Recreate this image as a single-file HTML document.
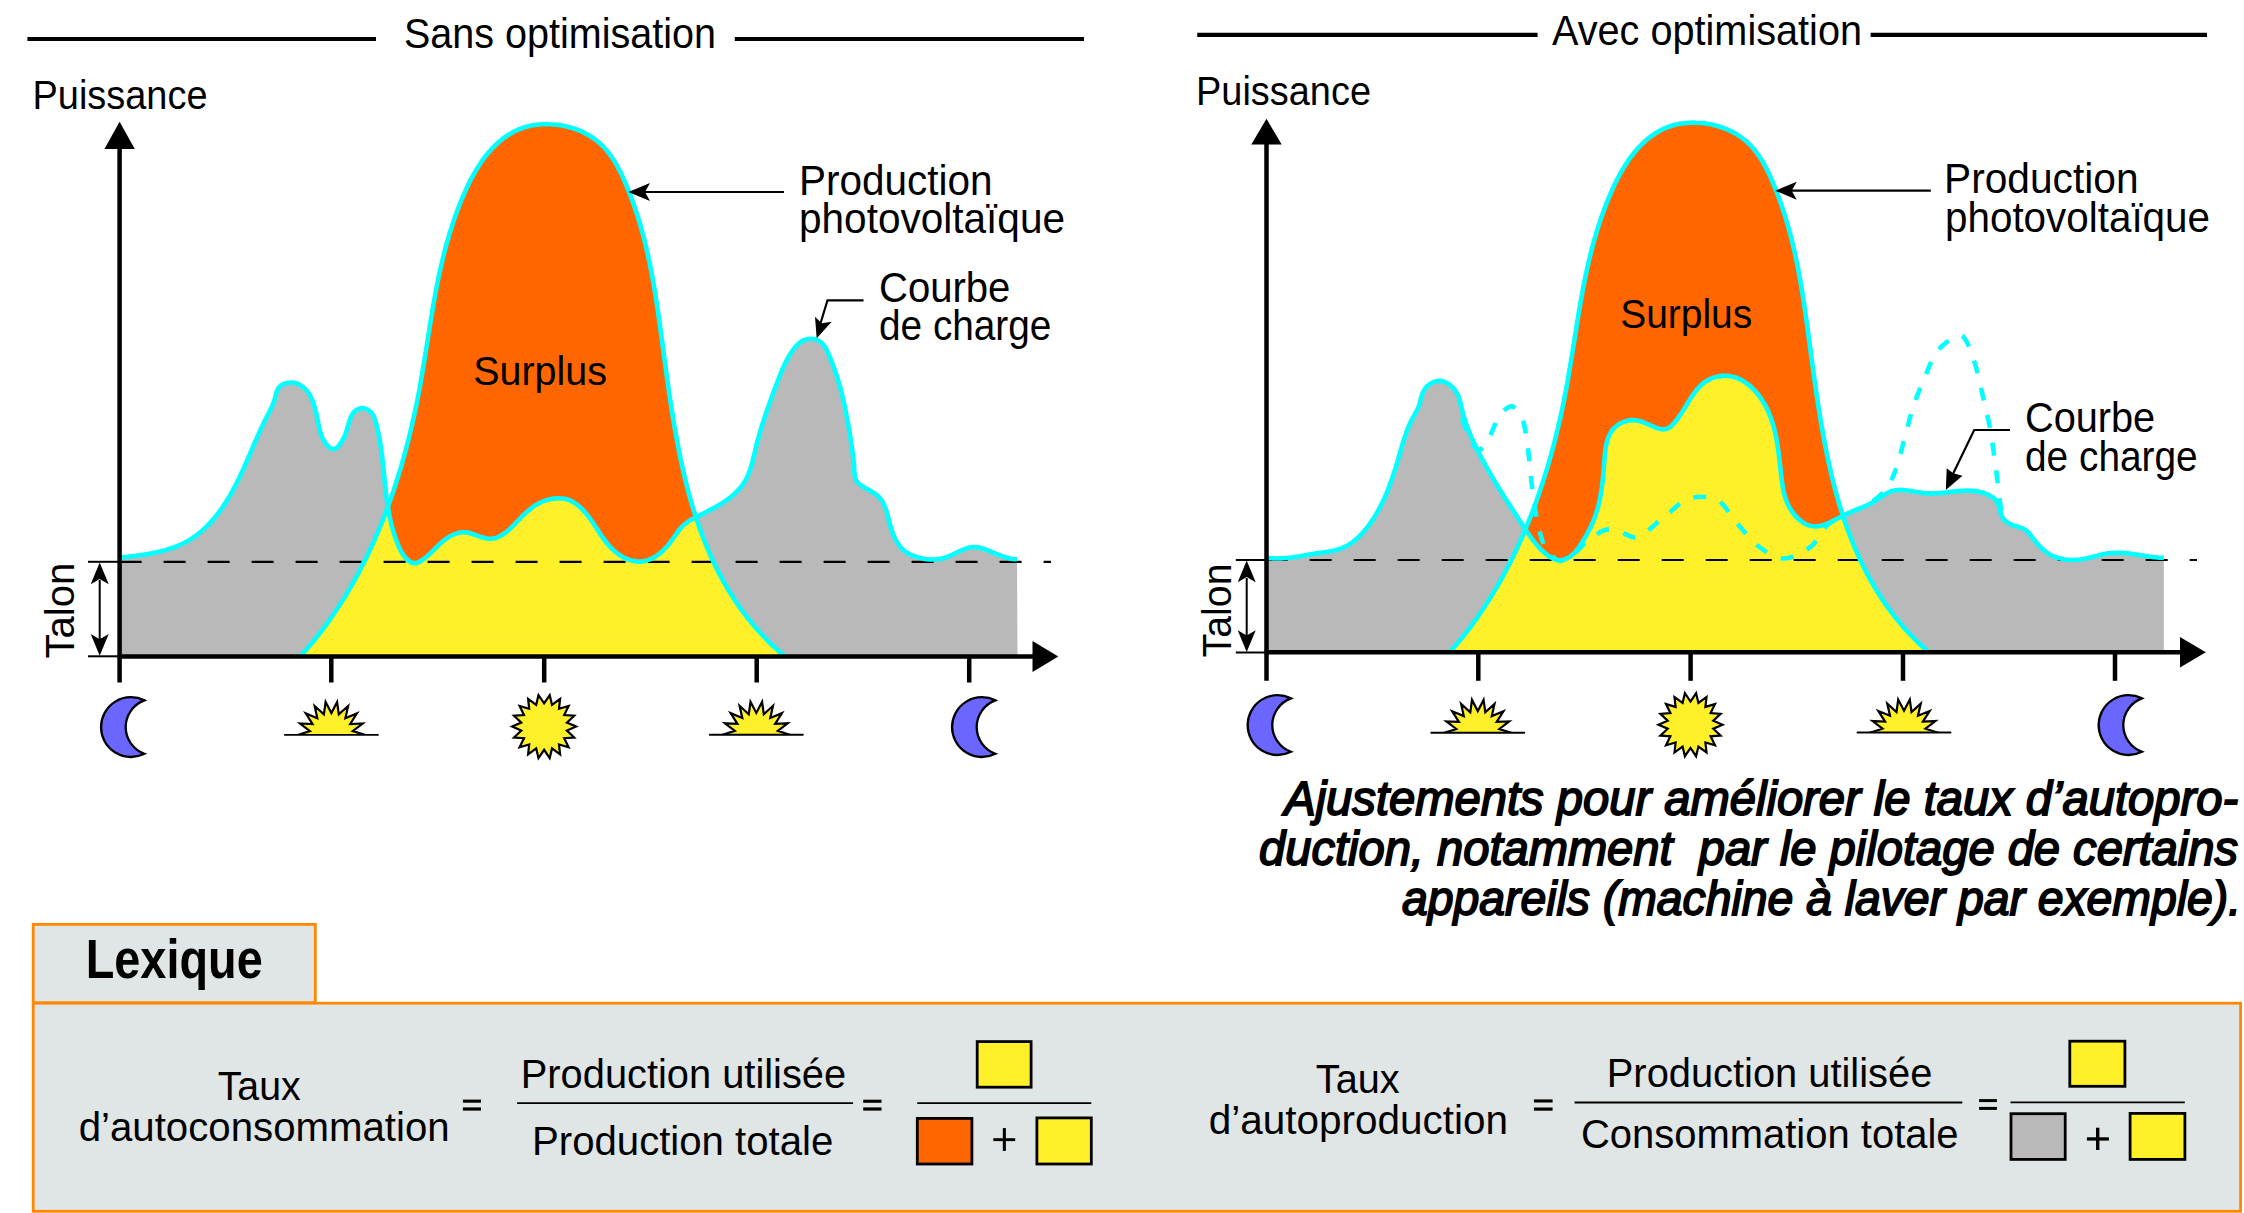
<!DOCTYPE html><html><head><meta charset="utf-8"><style>html,body{margin:0;padding:0;background:#fff;overflow:hidden}svg{display:block}text{font-family:"Liberation Sans", sans-serif;fill:#000}</style></head><body>
<svg width="2244" height="1213" viewBox="0 0 2244 1213">
<defs><clipPath id="clL"><path d="M119.6 557.4 C120.9 557.3 122.2 557.2 123.5 557.1 C124.9 556.9 126.2 556.8 127.5 556.7 C128.9 556.5 130.2 556.4 131.5 556.2 C132.9 556.1 134.2 555.9 135.5 555.8 C136.8 555.6 138.2 555.4 139.5 555.3 C140.8 555.1 142.1 554.9 143.5 554.7 C144.8 554.5 146.1 554.3 147.4 554.1 C148.7 553.8 150.1 553.6 151.4 553.4 C152.7 553.1 154.0 552.8 155.3 552.6 C156.6 552.3 157.9 552.0 159.2 551.7 C160.5 551.4 161.8 551.0 163.1 550.7 C164.4 550.4 165.7 550.0 167.0 549.6 C168.3 549.2 169.5 548.8 170.8 548.4 C172.1 548.0 173.3 547.5 174.6 547.1 C175.8 546.6 177.1 546.1 178.3 545.6 C179.5 545.1 180.8 544.5 182.0 544.0 C183.2 543.4 184.4 542.8 185.6 542.2 C186.8 541.5 187.9 540.9 189.1 540.2 C190.2 539.5 191.4 538.8 192.5 538.1 C193.6 537.3 194.7 536.6 195.8 535.8 C196.8 535.0 197.9 534.2 198.9 533.3 C200.0 532.5 201.0 531.6 202.0 530.8 C203.0 529.9 204.0 529.0 205.0 528.1 C206.0 527.1 206.9 526.2 207.9 525.3 C208.8 524.3 209.7 523.3 210.6 522.3 C211.5 521.4 212.4 520.4 213.3 519.3 C214.1 518.3 215.0 517.3 215.8 516.3 C216.7 515.2 217.5 514.2 218.3 513.1 C219.1 512.0 219.9 510.9 220.7 509.9 C221.5 508.8 222.2 507.7 223.0 506.6 C223.7 505.5 224.5 504.4 225.2 503.2 C225.9 502.1 226.6 501.0 227.3 499.8 C228.0 498.7 228.7 497.5 229.4 496.4 C230.1 495.2 230.8 494.1 231.4 492.9 C232.1 491.8 232.7 490.6 233.3 489.4 C234.0 488.2 234.6 487.0 235.2 485.9 C235.8 484.7 236.4 483.5 237.0 482.3 C237.6 481.1 238.2 479.9 238.8 478.7 C239.4 477.5 240.0 476.3 240.6 475.1 C241.1 473.9 241.7 472.6 242.2 471.4 C242.8 470.2 243.4 469.0 243.9 467.8 C244.5 466.6 245.0 465.3 245.5 464.1 C246.1 462.9 246.6 461.7 247.1 460.4 C247.7 459.2 248.2 458.0 248.7 456.8 C249.3 455.5 249.8 454.3 250.3 453.1 C250.9 451.8 251.4 450.6 251.9 449.4 C252.4 448.1 253.0 446.9 253.5 445.7 C254.0 444.5 254.6 443.2 255.1 442.0 C255.6 440.8 256.2 439.6 256.7 438.3 C257.2 437.1 257.8 435.9 258.3 434.7 C258.9 433.4 259.4 432.2 260.0 431.0 C260.5 429.8 261.1 428.6 261.7 427.4 C262.2 426.2 262.8 424.9 263.4 423.7 C264.0 422.5 264.6 421.3 265.1 420.1 C265.7 418.9 266.4 417.8 267.0 416.6 C267.6 415.4 268.2 414.2 268.8 413.0 C269.4 411.8 270.0 410.6 270.6 409.4 C271.2 408.2 271.8 407.0 272.3 405.8 C272.8 404.5 273.3 403.3 273.8 402.0 C274.2 400.8 274.6 399.5 275.0 398.2 C275.4 396.9 275.6 395.6 276.0 394.3 C276.3 393.0 276.6 391.7 277.2 390.5 C277.7 389.3 278.4 388.1 279.3 387.1 C280.2 386.2 281.3 385.3 282.4 384.6 C283.6 384.0 284.9 383.5 286.1 383.1 C287.4 382.7 288.8 382.5 290.1 382.5 C291.4 382.4 292.8 382.5 294.1 382.7 C295.4 383.0 296.7 383.4 297.9 383.9 C299.1 384.5 300.3 385.2 301.4 385.9 C302.5 386.7 303.5 387.5 304.5 388.4 C305.5 389.3 306.4 390.3 307.2 391.4 C308.0 392.4 308.8 393.5 309.5 394.7 C310.2 395.8 310.8 397.0 311.4 398.2 C312.0 399.4 312.5 400.7 313.0 401.9 C313.4 403.2 313.8 404.4 314.2 405.7 C314.6 407.0 315.0 408.3 315.3 409.6 C315.7 410.9 316.0 412.2 316.3 413.5 C316.6 414.8 316.8 416.1 317.1 417.4 C317.4 418.7 317.6 420.0 317.9 421.3 C318.2 422.6 318.4 424.0 318.7 425.3 C319.0 426.6 319.2 427.9 319.5 429.2 C319.9 430.5 320.2 431.8 320.6 433.0 C321.0 434.3 321.5 435.6 322.0 436.8 C322.5 438.0 323.1 439.2 323.8 440.4 C324.4 441.6 325.1 442.7 325.9 443.8 C326.7 444.9 327.5 446.0 328.5 446.8 C329.5 447.7 330.7 448.7 331.9 449.0 C333.1 449.2 334.6 448.9 335.7 448.4 C336.9 447.8 337.9 446.7 338.8 445.8 C339.7 444.8 340.5 443.7 341.2 442.6 C341.9 441.5 342.6 440.3 343.2 439.1 C343.8 437.9 344.4 436.7 344.9 435.5 C345.4 434.2 345.8 432.9 346.2 431.7 C346.7 430.4 347.0 429.1 347.4 427.8 C347.8 426.6 348.1 425.3 348.5 424.0 C348.9 422.7 349.3 421.4 349.7 420.2 C350.2 418.9 350.6 417.6 351.2 416.4 C351.8 415.2 352.4 414.0 353.2 413.0 C354.1 411.9 355.0 410.9 356.1 410.2 C357.2 409.4 358.4 408.8 359.7 408.5 C360.9 408.1 362.4 408.0 363.7 408.2 C365.0 408.4 366.3 408.9 367.4 409.5 C368.6 410.1 369.7 411.0 370.6 411.9 C371.6 412.8 372.4 413.9 373.1 415.1 C373.7 416.2 374.2 417.5 374.7 418.7 C375.2 420.0 375.5 421.3 375.9 422.6 C376.2 423.9 376.6 425.2 376.9 426.5 C377.2 427.8 377.5 429.1 377.8 430.4 C378.1 431.7 378.4 433.0 378.6 434.3 C378.9 435.6 379.1 436.9 379.4 438.2 C379.6 439.6 379.8 440.9 380.1 442.2 C380.3 443.5 380.5 444.8 380.7 446.2 C380.9 447.5 381.1 448.8 381.3 450.1 C381.4 451.4 381.6 452.8 381.8 454.1 C382.0 455.4 382.1 456.8 382.3 458.1 C382.4 459.4 382.6 460.7 382.7 462.1 C382.9 463.4 383.0 464.7 383.2 466.1 C383.3 467.4 383.4 468.7 383.6 470.0 C383.7 471.4 383.9 472.7 384.0 474.0 C384.1 475.4 384.3 476.7 384.4 478.0 C384.5 479.4 384.7 480.7 384.8 482.0 C384.9 483.4 385.1 484.7 385.2 486.0 C385.4 487.3 385.5 488.7 385.7 490.0 C385.8 491.3 386.0 492.7 386.1 494.0 C386.3 495.3 386.5 496.6 386.6 498.0 C386.8 499.3 387.0 500.6 387.2 501.9 C387.4 503.3 387.6 504.6 387.8 505.9 C388.0 507.2 388.2 508.6 388.4 509.9 C388.6 511.2 388.9 512.5 389.1 513.8 C389.4 515.1 389.6 516.4 389.9 517.8 C390.2 519.1 390.5 520.4 390.8 521.7 C391.1 523.0 391.4 524.3 391.7 525.6 C392.1 526.9 392.4 528.2 392.8 529.4 C393.1 530.7 393.5 532.0 393.9 533.3 C394.3 534.6 394.7 535.8 395.2 537.1 C395.6 538.4 396.0 539.6 396.5 540.9 C397.0 542.1 397.5 543.4 398.0 544.6 C398.5 545.9 399.0 547.1 399.6 548.3 C400.1 549.5 400.7 550.7 401.4 551.9 C402.1 553.0 402.8 554.2 403.5 555.3 C404.3 556.3 405.1 557.4 406.1 558.4 C407.0 559.3 408.0 560.3 409.0 561.1 C410.1 561.8 411.3 562.6 412.6 562.9 C413.9 563.2 415.3 563.1 416.6 562.9 C417.9 562.6 419.1 562.0 420.3 561.4 C421.4 560.7 422.5 559.9 423.6 559.1 C424.7 558.3 425.7 557.5 426.7 556.6 C427.7 555.7 428.7 554.8 429.7 553.9 C430.7 553.0 431.6 552.1 432.6 551.1 C433.5 550.2 434.5 549.2 435.4 548.3 C436.4 547.4 437.3 546.4 438.3 545.5 C439.3 544.6 440.2 543.6 441.2 542.8 C442.2 541.9 443.3 541.0 444.3 540.2 C445.4 539.4 446.4 538.6 447.6 537.8 C448.7 537.1 449.8 536.4 451.0 535.8 C452.2 535.2 453.4 534.6 454.7 534.1 C455.9 533.7 457.2 533.3 458.5 532.9 C459.8 532.6 461.1 532.4 462.4 532.3 C463.8 532.2 465.1 532.3 466.5 532.4 C467.8 532.6 469.1 532.9 470.4 533.2 C471.7 533.6 472.9 534.0 474.2 534.5 C475.5 534.9 476.7 535.4 478.0 535.9 C479.2 536.3 480.5 536.8 481.7 537.2 C483.0 537.7 484.3 538.1 485.6 538.3 C486.9 538.6 488.2 538.9 489.6 538.9 C490.9 538.9 492.2 538.8 493.5 538.5 C494.8 538.3 496.1 537.8 497.4 537.3 C498.6 536.8 499.8 536.2 501.0 535.6 C502.1 534.9 503.3 534.2 504.4 533.4 C505.4 532.7 506.5 531.8 507.5 531.0 C508.6 530.1 509.6 529.2 510.5 528.3 C511.5 527.4 512.5 526.5 513.4 525.5 C514.4 524.6 515.3 523.6 516.2 522.6 C517.1 521.7 518.0 520.7 519.0 519.7 C519.9 518.8 520.8 517.8 521.7 516.8 C522.7 515.9 523.6 514.9 524.6 514.0 C525.6 513.1 526.6 512.2 527.6 511.3 C528.6 510.4 529.6 509.6 530.7 508.8 C531.7 507.9 532.8 507.1 533.9 506.4 C535.0 505.6 536.1 504.9 537.3 504.3 C538.5 503.6 539.6 503.0 540.9 502.4 C542.1 501.8 543.3 501.3 544.6 500.9 C545.8 500.4 547.1 500.0 548.4 499.7 C549.7 499.3 551.0 499.0 552.3 498.8 C553.6 498.6 555.0 498.4 556.3 498.4 C557.6 498.3 559.0 498.3 560.3 498.4 C561.6 498.4 563.0 498.6 564.3 498.8 C565.6 499.1 566.9 499.4 568.2 499.8 C569.4 500.2 570.7 500.8 571.9 501.4 C573.1 501.9 574.2 502.6 575.3 503.4 C576.4 504.1 577.5 505.0 578.5 505.8 C579.5 506.7 580.5 507.6 581.5 508.5 C582.4 509.5 583.3 510.4 584.2 511.4 C585.1 512.4 586.0 513.5 586.8 514.5 C587.7 515.5 588.5 516.6 589.3 517.7 C590.1 518.7 590.9 519.8 591.6 520.9 C592.4 522.0 593.1 523.1 593.9 524.2 C594.6 525.3 595.4 526.5 596.1 527.6 C596.8 528.7 597.6 529.8 598.3 530.9 C599.1 532.1 599.8 533.2 600.5 534.3 C601.3 535.4 602.0 536.5 602.8 537.6 C603.6 538.7 604.4 539.8 605.2 540.8 C606.0 541.9 606.8 543.0 607.6 544.0 C608.5 545.0 609.4 546.0 610.3 547.0 C611.2 548.0 612.1 548.9 613.1 549.8 C614.1 550.8 615.1 551.6 616.1 552.5 C617.2 553.3 618.3 554.1 619.4 554.8 C620.5 555.6 621.6 556.3 622.8 556.9 C624.0 557.6 625.2 558.2 626.4 558.7 C627.6 559.2 628.9 559.7 630.2 560.1 C631.4 560.5 632.7 560.9 634.0 561.1 C635.4 561.4 636.7 561.6 638.0 561.6 C639.4 561.7 640.7 561.7 642.0 561.5 C643.4 561.4 644.7 561.1 646.0 560.8 C647.3 560.5 648.5 560.0 649.8 559.5 C651.0 559.0 652.2 558.4 653.4 557.8 C654.5 557.1 655.7 556.4 656.8 555.6 C657.9 554.9 658.9 554.1 660.0 553.2 C661.0 552.4 662.0 551.5 663.0 550.5 C663.9 549.6 664.9 548.7 665.8 547.7 C666.7 546.7 667.6 545.7 668.4 544.7 C669.3 543.6 670.1 542.6 670.9 541.5 C671.7 540.4 672.5 539.4 673.3 538.3 C674.0 537.2 674.8 536.1 675.6 535.0 C676.3 533.9 677.1 532.8 677.9 531.7 C678.7 530.6 679.5 529.6 680.4 528.6 C681.2 527.5 682.1 526.5 683.1 525.6 C684.1 524.7 685.1 523.8 686.1 523.0 C687.2 522.2 688.3 521.5 689.4 520.7 C690.6 520.0 691.7 519.4 692.9 518.7 C694.1 518.1 695.3 517.5 696.5 516.9 C697.7 516.3 698.9 515.7 700.1 515.1 C701.3 514.5 702.5 513.9 703.7 513.3 C704.9 512.7 706.1 512.1 707.2 511.5 C708.4 510.9 709.6 510.3 710.8 509.6 C712.0 509.0 713.2 508.4 714.3 507.7 C715.5 507.1 716.7 506.4 717.8 505.7 C719.0 505.1 720.1 504.4 721.3 503.7 C722.4 503.0 723.5 502.2 724.6 501.5 C725.7 500.7 726.8 500.0 727.9 499.2 C729.0 498.4 730.1 497.6 731.1 496.7 C732.1 495.9 733.2 495.0 734.1 494.1 C735.1 493.2 736.1 492.3 737.0 491.4 C738.0 490.4 738.9 489.4 739.8 488.4 C740.6 487.4 741.5 486.4 742.3 485.3 C743.0 484.2 743.8 483.1 744.5 481.9 C745.2 480.8 745.8 479.6 746.5 478.4 C747.1 477.3 747.6 476.0 748.1 474.8 C748.7 473.6 749.1 472.3 749.6 471.1 C750.1 469.8 750.5 468.5 750.9 467.3 C751.3 466.0 751.6 464.7 752.0 463.4 C752.4 462.1 752.7 460.8 753.0 459.5 C753.4 458.2 753.7 456.9 754.0 455.6 C754.3 454.3 754.6 453.0 754.9 451.7 C755.2 450.4 755.5 449.1 755.8 447.8 C756.1 446.5 756.4 445.2 756.7 443.9 C757.1 442.6 757.4 441.3 757.8 440.0 C758.1 438.8 758.5 437.5 758.8 436.2 C759.2 434.9 759.6 433.6 759.9 432.3 C760.3 431.0 760.7 429.8 761.1 428.5 C761.5 427.2 761.9 425.9 762.3 424.6 C762.7 423.4 763.1 422.1 763.5 420.8 C763.9 419.6 764.3 418.3 764.8 417.0 C765.2 415.7 765.6 414.5 766.1 413.2 C766.5 411.9 766.9 410.7 767.4 409.4 C767.8 408.2 768.2 406.9 768.7 405.6 C769.1 404.4 769.6 403.1 770.0 401.9 C770.5 400.6 770.9 399.3 771.4 398.1 C771.8 396.8 772.3 395.6 772.8 394.3 C773.2 393.1 773.7 391.8 774.1 390.5 C774.6 389.3 775.1 388.0 775.6 386.8 C776.0 385.5 776.5 384.3 777.0 383.0 C777.4 381.8 777.9 380.5 778.4 379.3 C778.9 378.0 779.4 376.8 779.9 375.5 C780.3 374.3 780.8 373.1 781.4 371.8 C781.9 370.6 782.4 369.4 782.9 368.1 C783.5 366.9 784.0 365.7 784.6 364.5 C785.2 363.3 785.8 362.1 786.4 360.9 C787.0 359.7 787.6 358.5 788.3 357.4 C789.0 356.2 789.6 355.0 790.4 353.9 C791.1 352.8 791.8 351.7 792.6 350.6 C793.4 349.5 794.2 348.4 795.0 347.4 C795.9 346.4 796.8 345.4 797.8 344.5 C798.7 343.6 799.8 342.7 800.9 341.9 C802.0 341.2 803.1 340.5 804.4 340.0 C805.6 339.5 806.9 339.1 808.2 338.9 C809.5 338.7 810.9 338.6 812.2 338.8 C813.5 338.9 814.9 339.2 816.1 339.6 C817.4 340.1 818.6 340.7 819.7 341.4 C820.8 342.1 821.8 343.0 822.7 344.0 C823.6 345.0 824.4 346.1 825.1 347.2 C825.9 348.3 826.5 349.5 827.1 350.7 C827.7 351.9 828.2 353.2 828.7 354.4 C829.2 355.6 829.7 356.9 830.2 358.1 C830.7 359.3 831.2 360.6 831.7 361.8 C832.2 363.1 832.7 364.3 833.1 365.6 C833.6 366.8 834.0 368.1 834.5 369.4 C834.9 370.6 835.4 371.9 835.8 373.1 C836.2 374.4 836.7 375.7 837.1 377.0 C837.5 378.2 837.9 379.5 838.3 380.8 C838.6 382.1 839.0 383.4 839.4 384.6 C839.8 385.9 840.1 387.2 840.5 388.5 C840.8 389.8 841.1 391.1 841.5 392.4 C841.8 393.7 842.1 395.0 842.4 396.3 C842.7 397.6 843.1 398.9 843.4 400.2 C843.6 401.5 843.9 402.8 844.2 404.1 C844.5 405.4 844.8 406.7 845.1 408.0 C845.3 409.3 845.6 410.6 845.9 412.0 C846.1 413.3 846.4 414.6 846.6 415.9 C846.9 417.2 847.1 418.5 847.3 419.8 C847.6 421.2 847.8 422.5 848.1 423.8 C848.3 425.1 848.5 426.4 848.7 427.7 C849.0 429.1 849.2 430.4 849.4 431.7 C849.6 433.0 849.8 434.3 850.1 435.7 C850.3 437.0 850.5 438.3 850.7 439.6 C850.9 440.9 851.1 442.3 851.3 443.6 C851.5 444.9 851.7 446.2 851.9 447.6 C852.1 448.9 852.3 450.2 852.5 451.5 C852.7 452.9 852.8 454.2 853.0 455.5 C853.2 456.8 853.3 458.2 853.5 459.5 C853.6 460.8 853.7 462.2 853.8 463.5 C853.9 464.8 854.0 466.2 854.1 467.5 C854.2 468.8 854.2 470.2 854.3 471.5 C854.4 472.8 854.5 474.2 854.7 475.5 C854.9 476.8 855.2 478.2 855.7 479.4 C856.3 480.5 857.1 481.7 857.9 482.7 C858.8 483.7 859.9 484.5 861.0 485.3 C862.0 486.1 863.2 486.8 864.4 487.5 C865.5 488.1 866.7 488.8 867.9 489.4 C869.0 490.1 870.2 490.7 871.4 491.4 C872.5 492.0 873.7 492.7 874.8 493.5 C875.9 494.3 876.9 495.1 877.9 496.0 C878.9 496.9 879.8 497.9 880.6 499.0 C881.4 500.0 882.1 501.2 882.8 502.3 C883.4 503.5 884.0 504.7 884.5 505.9 C885.1 507.2 885.5 508.4 886.0 509.7 C886.4 511.0 886.8 512.2 887.1 513.5 C887.5 514.8 887.9 516.1 888.2 517.4 C888.5 518.7 888.9 520.0 889.2 521.3 C889.5 522.6 889.9 523.9 890.2 525.2 C890.6 526.4 891.0 527.7 891.4 529.0 C891.8 530.3 892.2 531.5 892.6 532.8 C893.1 534.1 893.6 535.3 894.1 536.5 C894.7 537.8 895.2 539.0 895.9 540.2 C896.5 541.3 897.2 542.5 897.9 543.6 C898.6 544.7 899.4 545.8 900.3 546.8 C901.1 547.8 902.1 548.8 903.1 549.7 C904.0 550.6 905.1 551.4 906.2 552.2 C907.3 552.9 908.5 553.6 909.7 554.2 C910.9 554.8 912.1 555.3 913.4 555.8 C914.6 556.2 915.9 556.7 917.2 557.1 C918.5 557.4 919.8 557.8 921.1 558.1 C922.4 558.4 923.7 558.6 925.0 558.9 C926.3 559.1 927.6 559.2 929.0 559.4 C930.3 559.5 931.6 559.5 933.0 559.5 C934.3 559.5 935.7 559.5 937.0 559.3 C938.3 559.2 939.6 559.0 941.0 558.8 C942.3 558.5 943.6 558.2 944.8 557.8 C946.1 557.4 947.4 556.9 948.6 556.4 C949.9 555.9 951.1 555.3 952.3 554.8 C953.5 554.2 954.7 553.6 955.9 553.0 C957.1 552.4 958.3 551.8 959.5 551.2 C960.7 550.6 961.9 550.1 963.1 549.6 C964.4 549.1 965.6 548.6 966.9 548.2 C968.2 547.8 969.5 547.5 970.8 547.3 C972.1 547.2 973.5 547.1 974.8 547.1 C976.2 547.2 977.5 547.4 978.8 547.6 C980.1 547.9 981.4 548.2 982.7 548.6 C984.0 549.0 985.2 549.5 986.5 549.9 C987.7 550.4 989.0 550.9 990.2 551.3 C991.5 551.8 992.7 552.4 993.9 552.9 C995.2 553.4 996.4 553.9 997.7 554.4 C998.9 554.9 1000.1 555.4 1001.4 555.9 C1002.6 556.3 1003.9 556.8 1005.2 557.2 C1006.5 557.5 1007.8 557.9 1009.1 558.2 C1010.4 558.5 1011.7 558.8 1013.0 558.9 C1014.3 559.1 1015.7 559.2 1017.0 559.3 L1017.5 656.5 L119.6 656.5 Z"/></clipPath><clipPath id="caL"><rect x="0" y="0" width="2244" height="656.5"/></clipPath></defs><path d="M119.6 557.4 C120.9 557.3 122.2 557.2 123.5 557.1 C124.9 556.9 126.2 556.8 127.5 556.7 C128.9 556.5 130.2 556.4 131.5 556.2 C132.9 556.1 134.2 555.9 135.5 555.8 C136.8 555.6 138.2 555.4 139.5 555.3 C140.8 555.1 142.1 554.9 143.5 554.7 C144.8 554.5 146.1 554.3 147.4 554.1 C148.7 553.8 150.1 553.6 151.4 553.4 C152.7 553.1 154.0 552.8 155.3 552.6 C156.6 552.3 157.9 552.0 159.2 551.7 C160.5 551.4 161.8 551.0 163.1 550.7 C164.4 550.4 165.7 550.0 167.0 549.6 C168.3 549.2 169.5 548.8 170.8 548.4 C172.1 548.0 173.3 547.5 174.6 547.1 C175.8 546.6 177.1 546.1 178.3 545.6 C179.5 545.1 180.8 544.5 182.0 544.0 C183.2 543.4 184.4 542.8 185.6 542.2 C186.8 541.5 187.9 540.9 189.1 540.2 C190.2 539.5 191.4 538.8 192.5 538.1 C193.6 537.3 194.7 536.6 195.8 535.8 C196.8 535.0 197.9 534.2 198.9 533.3 C200.0 532.5 201.0 531.6 202.0 530.8 C203.0 529.9 204.0 529.0 205.0 528.1 C206.0 527.1 206.9 526.2 207.9 525.3 C208.8 524.3 209.7 523.3 210.6 522.3 C211.5 521.4 212.4 520.4 213.3 519.3 C214.1 518.3 215.0 517.3 215.8 516.3 C216.7 515.2 217.5 514.2 218.3 513.1 C219.1 512.0 219.9 510.9 220.7 509.9 C221.5 508.8 222.2 507.7 223.0 506.6 C223.7 505.5 224.5 504.4 225.2 503.2 C225.9 502.1 226.6 501.0 227.3 499.8 C228.0 498.7 228.7 497.5 229.4 496.4 C230.1 495.2 230.8 494.1 231.4 492.9 C232.1 491.8 232.7 490.6 233.3 489.4 C234.0 488.2 234.6 487.0 235.2 485.9 C235.8 484.7 236.4 483.5 237.0 482.3 C237.6 481.1 238.2 479.9 238.8 478.7 C239.4 477.5 240.0 476.3 240.6 475.1 C241.1 473.9 241.7 472.6 242.2 471.4 C242.8 470.2 243.4 469.0 243.9 467.8 C244.5 466.6 245.0 465.3 245.5 464.1 C246.1 462.9 246.6 461.7 247.1 460.4 C247.7 459.2 248.2 458.0 248.7 456.8 C249.3 455.5 249.8 454.3 250.3 453.1 C250.9 451.8 251.4 450.6 251.9 449.4 C252.4 448.1 253.0 446.9 253.5 445.7 C254.0 444.5 254.6 443.2 255.1 442.0 C255.6 440.8 256.2 439.6 256.7 438.3 C257.2 437.1 257.8 435.9 258.3 434.7 C258.9 433.4 259.4 432.2 260.0 431.0 C260.5 429.8 261.1 428.6 261.7 427.4 C262.2 426.2 262.8 424.9 263.4 423.7 C264.0 422.5 264.6 421.3 265.1 420.1 C265.7 418.9 266.4 417.8 267.0 416.6 C267.6 415.4 268.2 414.2 268.8 413.0 C269.4 411.8 270.0 410.6 270.6 409.4 C271.2 408.2 271.8 407.0 272.3 405.8 C272.8 404.5 273.3 403.3 273.8 402.0 C274.2 400.8 274.6 399.5 275.0 398.2 C275.4 396.9 275.6 395.6 276.0 394.3 C276.3 393.0 276.6 391.7 277.2 390.5 C277.7 389.3 278.4 388.1 279.3 387.1 C280.2 386.2 281.3 385.3 282.4 384.6 C283.6 384.0 284.9 383.5 286.1 383.1 C287.4 382.7 288.8 382.5 290.1 382.5 C291.4 382.4 292.8 382.5 294.1 382.7 C295.4 383.0 296.7 383.4 297.9 383.9 C299.1 384.5 300.3 385.2 301.4 385.9 C302.5 386.7 303.5 387.5 304.5 388.4 C305.5 389.3 306.4 390.3 307.2 391.4 C308.0 392.4 308.8 393.5 309.5 394.7 C310.2 395.8 310.8 397.0 311.4 398.2 C312.0 399.4 312.5 400.7 313.0 401.9 C313.4 403.2 313.8 404.4 314.2 405.7 C314.6 407.0 315.0 408.3 315.3 409.6 C315.7 410.9 316.0 412.2 316.3 413.5 C316.6 414.8 316.8 416.1 317.1 417.4 C317.4 418.7 317.6 420.0 317.9 421.3 C318.2 422.6 318.4 424.0 318.7 425.3 C319.0 426.6 319.2 427.9 319.5 429.2 C319.9 430.5 320.2 431.8 320.6 433.0 C321.0 434.3 321.5 435.6 322.0 436.8 C322.5 438.0 323.1 439.2 323.8 440.4 C324.4 441.6 325.1 442.7 325.9 443.8 C326.7 444.9 327.5 446.0 328.5 446.8 C329.5 447.7 330.7 448.7 331.9 449.0 C333.1 449.2 334.6 448.9 335.7 448.4 C336.9 447.8 337.9 446.7 338.8 445.8 C339.7 444.8 340.5 443.7 341.2 442.6 C341.9 441.5 342.6 440.3 343.2 439.1 C343.8 437.9 344.4 436.7 344.9 435.5 C345.4 434.2 345.8 432.9 346.2 431.7 C346.7 430.4 347.0 429.1 347.4 427.8 C347.8 426.6 348.1 425.3 348.5 424.0 C348.9 422.7 349.3 421.4 349.7 420.2 C350.2 418.9 350.6 417.6 351.2 416.4 C351.8 415.2 352.4 414.0 353.2 413.0 C354.1 411.9 355.0 410.9 356.1 410.2 C357.2 409.4 358.4 408.8 359.7 408.5 C360.9 408.1 362.4 408.0 363.7 408.2 C365.0 408.4 366.3 408.9 367.4 409.5 C368.6 410.1 369.7 411.0 370.6 411.9 C371.6 412.8 372.4 413.9 373.1 415.1 C373.7 416.2 374.2 417.5 374.7 418.7 C375.2 420.0 375.5 421.3 375.9 422.6 C376.2 423.9 376.6 425.2 376.9 426.5 C377.2 427.8 377.5 429.1 377.8 430.4 C378.1 431.7 378.4 433.0 378.6 434.3 C378.9 435.6 379.1 436.9 379.4 438.2 C379.6 439.6 379.8 440.9 380.1 442.2 C380.3 443.5 380.5 444.8 380.7 446.2 C380.9 447.5 381.1 448.8 381.3 450.1 C381.4 451.4 381.6 452.8 381.8 454.1 C382.0 455.4 382.1 456.8 382.3 458.1 C382.4 459.4 382.6 460.7 382.7 462.1 C382.9 463.4 383.0 464.7 383.2 466.1 C383.3 467.4 383.4 468.7 383.6 470.0 C383.7 471.4 383.9 472.7 384.0 474.0 C384.1 475.4 384.3 476.7 384.4 478.0 C384.5 479.4 384.7 480.7 384.8 482.0 C384.9 483.4 385.1 484.7 385.2 486.0 C385.4 487.3 385.5 488.7 385.7 490.0 C385.8 491.3 386.0 492.7 386.1 494.0 C386.3 495.3 386.5 496.6 386.6 498.0 C386.8 499.3 387.0 500.6 387.2 501.9 C387.4 503.3 387.6 504.6 387.8 505.9 C388.0 507.2 388.2 508.6 388.4 509.9 C388.6 511.2 388.9 512.5 389.1 513.8 C389.4 515.1 389.6 516.4 389.9 517.8 C390.2 519.1 390.5 520.4 390.8 521.7 C391.1 523.0 391.4 524.3 391.7 525.6 C392.1 526.9 392.4 528.2 392.8 529.4 C393.1 530.7 393.5 532.0 393.9 533.3 C394.3 534.6 394.7 535.8 395.2 537.1 C395.6 538.4 396.0 539.6 396.5 540.9 C397.0 542.1 397.5 543.4 398.0 544.6 C398.5 545.9 399.0 547.1 399.6 548.3 C400.1 549.5 400.7 550.7 401.4 551.9 C402.1 553.0 402.8 554.2 403.5 555.3 C404.3 556.3 405.1 557.4 406.1 558.4 C407.0 559.3 408.0 560.3 409.0 561.1 C410.1 561.8 411.3 562.6 412.6 562.9 C413.9 563.2 415.3 563.1 416.6 562.9 C417.9 562.6 419.1 562.0 420.3 561.4 C421.4 560.7 422.5 559.9 423.6 559.1 C424.7 558.3 425.7 557.5 426.7 556.6 C427.7 555.7 428.7 554.8 429.7 553.9 C430.7 553.0 431.6 552.1 432.6 551.1 C433.5 550.2 434.5 549.2 435.4 548.3 C436.4 547.4 437.3 546.4 438.3 545.5 C439.3 544.6 440.2 543.6 441.2 542.8 C442.2 541.9 443.3 541.0 444.3 540.2 C445.4 539.4 446.4 538.6 447.6 537.8 C448.7 537.1 449.8 536.4 451.0 535.8 C452.2 535.2 453.4 534.6 454.7 534.1 C455.9 533.7 457.2 533.3 458.5 532.9 C459.8 532.6 461.1 532.4 462.4 532.3 C463.8 532.2 465.1 532.3 466.5 532.4 C467.8 532.6 469.1 532.9 470.4 533.2 C471.7 533.6 472.9 534.0 474.2 534.5 C475.5 534.9 476.7 535.4 478.0 535.9 C479.2 536.3 480.5 536.8 481.7 537.2 C483.0 537.7 484.3 538.1 485.6 538.3 C486.9 538.6 488.2 538.9 489.6 538.9 C490.9 538.9 492.2 538.8 493.5 538.5 C494.8 538.3 496.1 537.8 497.4 537.3 C498.6 536.8 499.8 536.2 501.0 535.6 C502.1 534.9 503.3 534.2 504.4 533.4 C505.4 532.7 506.5 531.8 507.5 531.0 C508.6 530.1 509.6 529.2 510.5 528.3 C511.5 527.4 512.5 526.5 513.4 525.5 C514.4 524.6 515.3 523.6 516.2 522.6 C517.1 521.7 518.0 520.7 519.0 519.7 C519.9 518.8 520.8 517.8 521.7 516.8 C522.7 515.9 523.6 514.9 524.6 514.0 C525.6 513.1 526.6 512.2 527.6 511.3 C528.6 510.4 529.6 509.6 530.7 508.8 C531.7 507.9 532.8 507.1 533.9 506.4 C535.0 505.6 536.1 504.9 537.3 504.3 C538.5 503.6 539.6 503.0 540.9 502.4 C542.1 501.8 543.3 501.3 544.6 500.9 C545.8 500.4 547.1 500.0 548.4 499.7 C549.7 499.3 551.0 499.0 552.3 498.8 C553.6 498.6 555.0 498.4 556.3 498.4 C557.6 498.3 559.0 498.3 560.3 498.4 C561.6 498.4 563.0 498.6 564.3 498.8 C565.6 499.1 566.9 499.4 568.2 499.8 C569.4 500.2 570.7 500.8 571.9 501.4 C573.1 501.9 574.2 502.6 575.3 503.4 C576.4 504.1 577.5 505.0 578.5 505.8 C579.5 506.7 580.5 507.6 581.5 508.5 C582.4 509.5 583.3 510.4 584.2 511.4 C585.1 512.4 586.0 513.5 586.8 514.5 C587.7 515.5 588.5 516.6 589.3 517.7 C590.1 518.7 590.9 519.8 591.6 520.9 C592.4 522.0 593.1 523.1 593.9 524.2 C594.6 525.3 595.4 526.5 596.1 527.6 C596.8 528.7 597.6 529.8 598.3 530.9 C599.1 532.1 599.8 533.2 600.5 534.3 C601.3 535.4 602.0 536.5 602.8 537.6 C603.6 538.7 604.4 539.8 605.2 540.8 C606.0 541.9 606.8 543.0 607.6 544.0 C608.5 545.0 609.4 546.0 610.3 547.0 C611.2 548.0 612.1 548.9 613.1 549.8 C614.1 550.8 615.1 551.6 616.1 552.5 C617.2 553.3 618.3 554.1 619.4 554.8 C620.5 555.6 621.6 556.3 622.8 556.9 C624.0 557.6 625.2 558.2 626.4 558.7 C627.6 559.2 628.9 559.7 630.2 560.1 C631.4 560.5 632.7 560.9 634.0 561.1 C635.4 561.4 636.7 561.6 638.0 561.6 C639.4 561.7 640.7 561.7 642.0 561.5 C643.4 561.4 644.7 561.1 646.0 560.8 C647.3 560.5 648.5 560.0 649.8 559.5 C651.0 559.0 652.2 558.4 653.4 557.8 C654.5 557.1 655.7 556.4 656.8 555.6 C657.9 554.9 658.9 554.1 660.0 553.2 C661.0 552.4 662.0 551.5 663.0 550.5 C663.9 549.6 664.9 548.7 665.8 547.7 C666.7 546.7 667.6 545.7 668.4 544.7 C669.3 543.6 670.1 542.6 670.9 541.5 C671.7 540.4 672.5 539.4 673.3 538.3 C674.0 537.2 674.8 536.1 675.6 535.0 C676.3 533.9 677.1 532.8 677.9 531.7 C678.7 530.6 679.5 529.6 680.4 528.6 C681.2 527.5 682.1 526.5 683.1 525.6 C684.1 524.7 685.1 523.8 686.1 523.0 C687.2 522.2 688.3 521.5 689.4 520.7 C690.6 520.0 691.7 519.4 692.9 518.7 C694.1 518.1 695.3 517.5 696.5 516.9 C697.7 516.3 698.9 515.7 700.1 515.1 C701.3 514.5 702.5 513.9 703.7 513.3 C704.9 512.7 706.1 512.1 707.2 511.5 C708.4 510.9 709.6 510.3 710.8 509.6 C712.0 509.0 713.2 508.4 714.3 507.7 C715.5 507.1 716.7 506.4 717.8 505.7 C719.0 505.1 720.1 504.4 721.3 503.7 C722.4 503.0 723.5 502.2 724.6 501.5 C725.7 500.7 726.8 500.0 727.9 499.2 C729.0 498.4 730.1 497.6 731.1 496.7 C732.1 495.9 733.2 495.0 734.1 494.1 C735.1 493.2 736.1 492.3 737.0 491.4 C738.0 490.4 738.9 489.4 739.8 488.4 C740.6 487.4 741.5 486.4 742.3 485.3 C743.0 484.2 743.8 483.1 744.5 481.9 C745.2 480.8 745.8 479.6 746.5 478.4 C747.1 477.3 747.6 476.0 748.1 474.8 C748.7 473.6 749.1 472.3 749.6 471.1 C750.1 469.8 750.5 468.5 750.9 467.3 C751.3 466.0 751.6 464.7 752.0 463.4 C752.4 462.1 752.7 460.8 753.0 459.5 C753.4 458.2 753.7 456.9 754.0 455.6 C754.3 454.3 754.6 453.0 754.9 451.7 C755.2 450.4 755.5 449.1 755.8 447.8 C756.1 446.5 756.4 445.2 756.7 443.9 C757.1 442.6 757.4 441.3 757.8 440.0 C758.1 438.8 758.5 437.5 758.8 436.2 C759.2 434.9 759.6 433.6 759.9 432.3 C760.3 431.0 760.7 429.8 761.1 428.5 C761.5 427.2 761.9 425.9 762.3 424.6 C762.7 423.4 763.1 422.1 763.5 420.8 C763.9 419.6 764.3 418.3 764.8 417.0 C765.2 415.7 765.6 414.5 766.1 413.2 C766.5 411.9 766.9 410.7 767.4 409.4 C767.8 408.2 768.2 406.9 768.7 405.6 C769.1 404.4 769.6 403.1 770.0 401.9 C770.5 400.6 770.9 399.3 771.4 398.1 C771.8 396.8 772.3 395.6 772.8 394.3 C773.2 393.1 773.7 391.8 774.1 390.5 C774.6 389.3 775.1 388.0 775.6 386.8 C776.0 385.5 776.5 384.3 777.0 383.0 C777.4 381.8 777.9 380.5 778.4 379.3 C778.9 378.0 779.4 376.8 779.9 375.5 C780.3 374.3 780.8 373.1 781.4 371.8 C781.9 370.6 782.4 369.4 782.9 368.1 C783.5 366.9 784.0 365.7 784.6 364.5 C785.2 363.3 785.8 362.1 786.4 360.9 C787.0 359.7 787.6 358.5 788.3 357.4 C789.0 356.2 789.6 355.0 790.4 353.9 C791.1 352.8 791.8 351.7 792.6 350.6 C793.4 349.5 794.2 348.4 795.0 347.4 C795.9 346.4 796.8 345.4 797.8 344.5 C798.7 343.6 799.8 342.7 800.9 341.9 C802.0 341.2 803.1 340.5 804.4 340.0 C805.6 339.5 806.9 339.1 808.2 338.9 C809.5 338.7 810.9 338.6 812.2 338.8 C813.5 338.9 814.9 339.2 816.1 339.6 C817.4 340.1 818.6 340.7 819.7 341.4 C820.8 342.1 821.8 343.0 822.7 344.0 C823.6 345.0 824.4 346.1 825.1 347.2 C825.9 348.3 826.5 349.5 827.1 350.7 C827.7 351.9 828.2 353.2 828.7 354.4 C829.2 355.6 829.7 356.9 830.2 358.1 C830.7 359.3 831.2 360.6 831.7 361.8 C832.2 363.1 832.7 364.3 833.1 365.6 C833.6 366.8 834.0 368.1 834.5 369.4 C834.9 370.6 835.4 371.9 835.8 373.1 C836.2 374.4 836.7 375.7 837.1 377.0 C837.5 378.2 837.9 379.5 838.3 380.8 C838.6 382.1 839.0 383.4 839.4 384.6 C839.8 385.9 840.1 387.2 840.5 388.5 C840.8 389.8 841.1 391.1 841.5 392.4 C841.8 393.7 842.1 395.0 842.4 396.3 C842.7 397.6 843.1 398.9 843.4 400.2 C843.6 401.5 843.9 402.8 844.2 404.1 C844.5 405.4 844.8 406.7 845.1 408.0 C845.3 409.3 845.6 410.6 845.9 412.0 C846.1 413.3 846.4 414.6 846.6 415.9 C846.9 417.2 847.1 418.5 847.3 419.8 C847.6 421.2 847.8 422.5 848.1 423.8 C848.3 425.1 848.5 426.4 848.7 427.7 C849.0 429.1 849.2 430.4 849.4 431.7 C849.6 433.0 849.8 434.3 850.1 435.7 C850.3 437.0 850.5 438.3 850.7 439.6 C850.9 440.9 851.1 442.3 851.3 443.6 C851.5 444.9 851.7 446.2 851.9 447.6 C852.1 448.9 852.3 450.2 852.5 451.5 C852.7 452.9 852.8 454.2 853.0 455.5 C853.2 456.8 853.3 458.2 853.5 459.5 C853.6 460.8 853.7 462.2 853.8 463.5 C853.9 464.8 854.0 466.2 854.1 467.5 C854.2 468.8 854.2 470.2 854.3 471.5 C854.4 472.8 854.5 474.2 854.7 475.5 C854.9 476.8 855.2 478.2 855.7 479.4 C856.3 480.5 857.1 481.7 857.9 482.7 C858.8 483.7 859.9 484.5 861.0 485.3 C862.0 486.1 863.2 486.8 864.4 487.5 C865.5 488.1 866.7 488.8 867.9 489.4 C869.0 490.1 870.2 490.7 871.4 491.4 C872.5 492.0 873.7 492.7 874.8 493.5 C875.9 494.3 876.9 495.1 877.9 496.0 C878.9 496.9 879.8 497.9 880.6 499.0 C881.4 500.0 882.1 501.2 882.8 502.3 C883.4 503.5 884.0 504.7 884.5 505.9 C885.1 507.2 885.5 508.4 886.0 509.7 C886.4 511.0 886.8 512.2 887.1 513.5 C887.5 514.8 887.9 516.1 888.2 517.4 C888.5 518.7 888.9 520.0 889.2 521.3 C889.5 522.6 889.9 523.9 890.2 525.2 C890.6 526.4 891.0 527.7 891.4 529.0 C891.8 530.3 892.2 531.5 892.6 532.8 C893.1 534.1 893.6 535.3 894.1 536.5 C894.7 537.8 895.2 539.0 895.9 540.2 C896.5 541.3 897.2 542.5 897.9 543.6 C898.6 544.7 899.4 545.8 900.3 546.8 C901.1 547.8 902.1 548.8 903.1 549.7 C904.0 550.6 905.1 551.4 906.2 552.2 C907.3 552.9 908.5 553.6 909.7 554.2 C910.9 554.8 912.1 555.3 913.4 555.8 C914.6 556.2 915.9 556.7 917.2 557.1 C918.5 557.4 919.8 557.8 921.1 558.1 C922.4 558.4 923.7 558.6 925.0 558.9 C926.3 559.1 927.6 559.2 929.0 559.4 C930.3 559.5 931.6 559.5 933.0 559.5 C934.3 559.5 935.7 559.5 937.0 559.3 C938.3 559.2 939.6 559.0 941.0 558.8 C942.3 558.5 943.6 558.2 944.8 557.8 C946.1 557.4 947.4 556.9 948.6 556.4 C949.9 555.9 951.1 555.3 952.3 554.8 C953.5 554.2 954.7 553.6 955.9 553.0 C957.1 552.4 958.3 551.8 959.5 551.2 C960.7 550.6 961.9 550.1 963.1 549.6 C964.4 549.1 965.6 548.6 966.9 548.2 C968.2 547.8 969.5 547.5 970.8 547.3 C972.1 547.2 973.5 547.1 974.8 547.1 C976.2 547.2 977.5 547.4 978.8 547.6 C980.1 547.9 981.4 548.2 982.7 548.6 C984.0 549.0 985.2 549.5 986.5 549.9 C987.7 550.4 989.0 550.9 990.2 551.3 C991.5 551.8 992.7 552.4 993.9 552.9 C995.2 553.4 996.4 553.9 997.7 554.4 C998.9 554.9 1000.1 555.4 1001.4 555.9 C1002.6 556.3 1003.9 556.8 1005.2 557.2 C1006.5 557.5 1007.8 557.9 1009.1 558.2 C1010.4 558.5 1011.7 558.8 1013.0 558.9 C1014.3 559.1 1015.7 559.2 1017.0 559.3 L1017.5 656.5 L119.6 656.5 Z" fill="#b9b9b9"/><g clip-path="url(#caL)"><path d="M286.8 670.3 C288.2 668.9 289.6 667.5 291.0 666.0 C292.5 664.6 293.9 663.2 295.2 661.7 C296.6 660.3 298.0 658.8 299.4 657.3 C300.7 655.8 302.1 654.3 303.4 652.8 C304.8 651.3 306.1 649.8 307.4 648.3 C308.7 646.8 310.0 645.2 311.3 643.7 C312.6 642.2 313.9 640.6 315.1 639.0 C316.4 637.5 317.6 635.9 318.9 634.3 C320.1 632.7 321.3 631.1 322.6 629.5 C323.8 627.9 325.0 626.3 326.2 624.7 C327.3 623.1 328.5 621.4 329.7 619.8 C330.8 618.1 332.0 616.5 333.1 614.8 C334.3 613.2 335.4 611.5 336.5 609.8 C337.6 608.2 338.7 606.5 339.8 604.8 C340.9 603.1 342.0 601.4 343.0 599.7 C344.1 598.0 345.2 596.3 346.2 594.6 C347.2 592.8 348.3 591.1 349.3 589.4 C350.3 587.6 351.3 585.9 352.3 584.1 C353.3 582.4 354.3 580.6 355.3 578.9 C356.2 577.1 357.2 575.3 358.1 573.6 C359.1 571.8 360.0 570.0 360.9 568.2 C361.9 566.4 362.8 564.7 363.7 562.9 C364.6 561.1 365.5 559.3 366.4 557.5 C367.2 555.6 368.1 553.8 369.0 552.0 C369.8 550.2 370.7 548.4 371.5 546.5 C372.4 544.7 373.2 542.9 374.0 541.0 C374.8 539.2 375.6 537.4 376.4 535.5 C377.2 533.7 378.0 531.8 378.8 530.0 C379.5 528.1 380.3 526.2 381.1 524.4 C381.8 522.5 382.6 520.6 383.3 518.8 C384.0 516.9 384.8 515.0 385.5 513.1 C386.2 511.3 386.9 509.4 387.6 507.5 C388.3 505.6 389.0 503.7 389.7 501.8 C390.3 499.9 391.0 498.0 391.7 496.1 C392.3 494.2 393.0 492.3 393.6 490.4 C394.2 488.5 394.9 486.6 395.5 484.7 C396.1 482.8 396.7 480.9 397.3 478.9 C397.9 477.0 398.5 475.1 399.1 473.2 C399.7 471.3 400.3 469.3 400.9 467.4 C401.4 465.5 402.0 463.5 402.5 461.6 C403.1 459.7 403.6 457.7 404.2 455.8 C404.7 453.9 405.2 451.9 405.8 450.0 C406.3 448.0 406.8 446.1 407.3 444.1 C407.8 442.2 408.3 440.2 408.8 438.3 C409.3 436.3 409.8 434.4 410.2 432.4 C410.7 430.5 411.2 428.5 411.6 426.6 C412.1 424.6 412.5 422.6 413.0 420.7 C413.4 418.7 413.9 416.8 414.3 414.8 C414.7 412.8 415.1 410.9 415.5 408.9 C416.0 406.9 416.4 405.0 416.8 403.0 C417.2 401.0 417.6 399.0 417.9 397.1 C418.3 395.1 418.7 393.1 419.1 391.1 C419.4 389.2 419.8 387.2 420.2 385.2 C420.5 383.2 420.9 381.2 421.2 379.3 C421.6 377.3 421.9 375.3 422.2 373.3 C422.6 371.3 422.9 369.3 423.2 367.4 C423.6 365.4 423.9 363.4 424.2 361.4 C424.5 359.4 424.9 357.4 425.2 355.5 C425.5 353.5 425.8 351.5 426.1 349.5 C426.5 347.5 426.8 345.5 427.1 343.5 C427.4 341.5 427.7 339.6 428.0 337.6 C428.3 335.6 428.6 333.6 429.0 331.6 C429.3 329.6 429.6 327.6 429.9 325.7 C430.2 323.7 430.6 321.7 430.9 319.7 C431.2 317.7 431.5 315.7 431.9 313.7 C432.2 311.8 432.5 309.8 432.9 307.8 C433.2 305.8 433.6 303.8 433.9 301.9 C434.3 299.9 434.6 297.9 435.0 295.9 C435.3 293.9 435.7 292.0 436.1 290.0 C436.5 288.0 436.8 286.0 437.2 284.1 C437.6 282.1 438.0 280.1 438.4 278.1 C438.8 276.2 439.3 274.2 439.7 272.2 C440.1 270.3 440.6 268.3 441.0 266.4 C441.4 264.4 441.9 262.4 442.4 260.5 C442.8 258.5 443.3 256.6 443.8 254.6 C444.3 252.7 444.8 250.7 445.3 248.8 C445.8 246.8 446.4 244.9 446.9 243.0 C447.4 241.0 448.0 239.1 448.6 237.2 C449.1 235.2 449.7 233.3 450.3 231.4 C450.9 229.5 451.5 227.5 452.1 225.6 C452.7 223.7 453.4 221.8 454.0 219.9 C454.7 218.0 455.3 216.1 456.0 214.2 C456.7 212.3 457.4 210.4 458.1 208.5 C458.8 206.7 459.5 204.8 460.3 202.9 C461.0 201.1 461.8 199.2 462.6 197.3 C463.4 195.5 464.2 193.6 465.0 191.8 C465.8 190.0 466.7 188.1 467.5 186.3 C468.4 184.5 469.3 182.7 470.2 180.9 C471.1 179.1 472.1 177.3 473.0 175.6 C474.0 173.8 475.0 172.1 476.0 170.4 C477.1 168.6 478.1 166.9 479.2 165.2 C480.3 163.6 481.4 161.9 482.6 160.2 C483.8 158.6 485.0 157.0 486.2 155.4 C487.5 153.8 488.8 152.3 490.1 150.8 C491.4 149.3 492.8 147.8 494.2 146.4 C495.6 145.0 497.1 143.6 498.6 142.2 C500.1 140.9 501.7 139.6 503.3 138.4 C504.9 137.2 506.5 136.1 508.2 135.0 C509.9 133.9 511.7 132.9 513.4 131.9 C515.2 131.0 517.1 130.2 518.9 129.4 C520.8 128.6 522.7 127.9 524.6 127.3 C526.5 126.7 528.5 126.2 530.4 125.8 C532.4 125.4 534.4 125.1 536.4 124.8 C538.4 124.6 540.4 124.4 542.4 124.3 C544.4 124.2 546.4 124.1 548.4 124.2 C550.4 124.2 552.4 124.3 554.4 124.5 C556.4 124.7 558.4 125.0 560.4 125.3 C562.4 125.6 564.4 126.0 566.3 126.5 C568.3 126.9 570.2 127.5 572.2 128.0 C574.1 128.6 576.0 129.3 577.9 130.0 C579.7 130.8 581.6 131.6 583.4 132.4 C585.2 133.3 587.0 134.3 588.7 135.3 C590.4 136.3 592.1 137.4 593.8 138.5 C595.4 139.7 597.0 140.9 598.6 142.2 C600.1 143.5 601.6 144.9 603.0 146.3 C604.4 147.8 605.7 149.3 607.0 150.8 C608.3 152.4 609.5 154.0 610.7 155.6 C611.8 157.2 613.0 158.9 614.0 160.6 C615.1 162.3 616.1 164.1 617.1 165.8 C618.1 167.6 619.0 169.4 619.9 171.1 C620.8 172.9 621.7 174.8 622.6 176.6 C623.4 178.4 624.2 180.2 625.0 182.1 C625.8 183.9 626.6 185.8 627.3 187.7 C628.1 189.5 628.9 191.4 629.6 193.3 C630.3 195.1 631.0 197.0 631.7 198.9 C632.4 200.8 633.1 202.7 633.8 204.6 C634.4 206.5 635.1 208.4 635.7 210.3 C636.3 212.2 637.0 214.1 637.6 216.0 C638.2 217.9 638.8 219.9 639.3 221.8 C639.9 223.7 640.5 225.7 641.0 227.6 C641.6 229.5 642.1 231.5 642.6 233.4 C643.2 235.3 643.7 237.3 644.2 239.2 C644.7 241.2 645.1 243.1 645.6 245.1 C646.1 247.1 646.5 249.0 647.0 251.0 C647.4 252.9 647.9 254.9 648.3 256.9 C648.7 258.8 649.1 260.8 649.6 262.8 C650.0 264.7 650.4 266.7 650.7 268.7 C651.1 270.7 651.5 272.6 651.9 274.6 C652.2 276.6 652.6 278.6 653.0 280.5 C653.3 282.5 653.7 284.5 654.0 286.5 C654.3 288.5 654.7 290.5 655.0 292.4 C655.3 294.4 655.6 296.4 655.9 298.4 C656.3 300.4 656.6 302.4 656.9 304.4 C657.2 306.3 657.5 308.3 657.8 310.3 C658.1 312.3 658.3 314.3 658.6 316.3 C658.9 318.3 659.2 320.3 659.5 322.3 C659.8 324.3 660.0 326.3 660.3 328.3 C660.6 330.2 660.9 332.2 661.1 334.2 C661.4 336.2 661.7 338.2 661.9 340.2 C662.2 342.2 662.5 344.2 662.7 346.2 C663.0 348.2 663.3 350.2 663.5 352.2 C663.8 354.2 664.1 356.2 664.3 358.1 C664.6 360.1 664.9 362.1 665.2 364.1 C665.4 366.1 665.7 368.1 666.0 370.1 C666.2 372.1 666.5 374.1 666.8 376.1 C667.1 378.1 667.3 380.1 667.6 382.1 C667.9 384.1 668.2 386.0 668.5 388.0 C668.8 390.0 669.0 392.0 669.3 394.0 C669.6 396.0 669.9 398.0 670.2 400.0 C670.5 402.0 670.8 404.0 671.1 405.9 C671.4 407.9 671.7 409.9 672.1 411.9 C672.4 413.9 672.7 415.9 673.0 417.9 C673.3 419.8 673.7 421.8 674.0 423.8 C674.3 425.8 674.7 427.8 675.0 429.8 C675.4 431.7 675.7 433.7 676.1 435.7 C676.4 437.7 676.8 439.7 677.2 441.6 C677.5 443.6 677.9 445.6 678.3 447.6 C678.7 449.5 679.1 451.5 679.5 453.5 C679.9 455.5 680.3 457.4 680.7 459.4 C681.1 461.4 681.5 463.3 682.0 465.3 C682.4 467.3 682.8 469.2 683.3 471.2 C683.7 473.1 684.2 475.1 684.6 477.1 C685.1 479.0 685.6 481.0 686.1 482.9 C686.6 484.9 687.1 486.8 687.6 488.8 C688.1 490.7 688.6 492.7 689.1 494.6 C689.7 496.5 690.2 498.5 690.7 500.4 C691.3 502.3 691.9 504.3 692.4 506.2 C693.0 508.1 693.6 510.0 694.2 512.0 C694.8 513.9 695.4 515.8 696.0 517.7 C696.7 519.6 697.3 521.5 697.9 523.4 C698.6 525.3 699.3 527.2 699.9 529.1 C700.6 531.0 701.3 532.9 702.0 534.8 C702.7 536.7 703.4 538.6 704.2 540.4 C704.9 542.3 705.7 544.2 706.4 546.0 C707.2 547.9 708.0 549.7 708.8 551.6 C709.6 553.4 710.4 555.3 711.2 557.1 C712.0 558.9 712.9 560.8 713.8 562.6 C714.6 564.4 715.5 566.2 716.4 568.0 C717.3 569.8 718.2 571.6 719.1 573.4 C720.0 575.2 721.0 576.9 722.0 578.7 C722.9 580.5 723.9 582.2 724.9 584.0 C725.9 585.7 726.9 587.5 727.9 589.2 C729.0 590.9 730.0 592.6 731.1 594.3 C732.2 596.0 733.3 597.7 734.4 599.4 C735.5 601.1 736.6 602.8 737.7 604.4 C738.9 606.1 740.0 607.7 741.2 609.3 C742.4 611.0 743.6 612.6 744.8 614.2 C746.0 615.8 747.3 617.4 748.5 619.0 C749.8 620.5 751.0 622.1 752.3 623.6 C753.6 625.2 754.9 626.7 756.2 628.2 C757.5 629.8 758.9 631.3 760.2 632.7 C761.6 634.2 763.0 635.7 764.4 637.2 C765.7 638.6 767.1 640.0 768.6 641.5 C770.0 642.9 771.4 644.3 772.9 645.7 C774.3 647.1 775.8 648.4 777.3 649.8 C778.8 651.1 780.3 652.5 781.8 653.8 C783.3 655.1 784.9 656.4 786.4 657.7 C788.0 659.0 789.5 660.3 791.1 661.5 C792.7 662.8 794.3 664.0 795.9 665.2 C797.5 666.4 799.1 667.6 800.7 668.8 Z" fill="#ff6600"/><g clip-path="url(#clL)"><path d="M286.8 670.3 C288.2 668.9 289.6 667.5 291.0 666.0 C292.5 664.6 293.9 663.2 295.2 661.7 C296.6 660.3 298.0 658.8 299.4 657.3 C300.7 655.8 302.1 654.3 303.4 652.8 C304.8 651.3 306.1 649.8 307.4 648.3 C308.7 646.8 310.0 645.2 311.3 643.7 C312.6 642.2 313.9 640.6 315.1 639.0 C316.4 637.5 317.6 635.9 318.9 634.3 C320.1 632.7 321.3 631.1 322.6 629.5 C323.8 627.9 325.0 626.3 326.2 624.7 C327.3 623.1 328.5 621.4 329.7 619.8 C330.8 618.1 332.0 616.5 333.1 614.8 C334.3 613.2 335.4 611.5 336.5 609.8 C337.6 608.2 338.7 606.5 339.8 604.8 C340.9 603.1 342.0 601.4 343.0 599.7 C344.1 598.0 345.2 596.3 346.2 594.6 C347.2 592.8 348.3 591.1 349.3 589.4 C350.3 587.6 351.3 585.9 352.3 584.1 C353.3 582.4 354.3 580.6 355.3 578.9 C356.2 577.1 357.2 575.3 358.1 573.6 C359.1 571.8 360.0 570.0 360.9 568.2 C361.9 566.4 362.8 564.7 363.7 562.9 C364.6 561.1 365.5 559.3 366.4 557.5 C367.2 555.6 368.1 553.8 369.0 552.0 C369.8 550.2 370.7 548.4 371.5 546.5 C372.4 544.7 373.2 542.9 374.0 541.0 C374.8 539.2 375.6 537.4 376.4 535.5 C377.2 533.7 378.0 531.8 378.8 530.0 C379.5 528.1 380.3 526.2 381.1 524.4 C381.8 522.5 382.6 520.6 383.3 518.8 C384.0 516.9 384.8 515.0 385.5 513.1 C386.2 511.3 386.9 509.4 387.6 507.5 C388.3 505.6 389.0 503.7 389.7 501.8 C390.3 499.9 391.0 498.0 391.7 496.1 C392.3 494.2 393.0 492.3 393.6 490.4 C394.2 488.5 394.9 486.6 395.5 484.7 C396.1 482.8 396.7 480.9 397.3 478.9 C397.9 477.0 398.5 475.1 399.1 473.2 C399.7 471.3 400.3 469.3 400.9 467.4 C401.4 465.5 402.0 463.5 402.5 461.6 C403.1 459.7 403.6 457.7 404.2 455.8 C404.7 453.9 405.2 451.9 405.8 450.0 C406.3 448.0 406.8 446.1 407.3 444.1 C407.8 442.2 408.3 440.2 408.8 438.3 C409.3 436.3 409.8 434.4 410.2 432.4 C410.7 430.5 411.2 428.5 411.6 426.6 C412.1 424.6 412.5 422.6 413.0 420.7 C413.4 418.7 413.9 416.8 414.3 414.8 C414.7 412.8 415.1 410.9 415.5 408.9 C416.0 406.9 416.4 405.0 416.8 403.0 C417.2 401.0 417.6 399.0 417.9 397.1 C418.3 395.1 418.7 393.1 419.1 391.1 C419.4 389.2 419.8 387.2 420.2 385.2 C420.5 383.2 420.9 381.2 421.2 379.3 C421.6 377.3 421.9 375.3 422.2 373.3 C422.6 371.3 422.9 369.3 423.2 367.4 C423.6 365.4 423.9 363.4 424.2 361.4 C424.5 359.4 424.9 357.4 425.2 355.5 C425.5 353.5 425.8 351.5 426.1 349.5 C426.5 347.5 426.8 345.5 427.1 343.5 C427.4 341.5 427.7 339.6 428.0 337.6 C428.3 335.6 428.6 333.6 429.0 331.6 C429.3 329.6 429.6 327.6 429.9 325.7 C430.2 323.7 430.6 321.7 430.9 319.7 C431.2 317.7 431.5 315.7 431.9 313.7 C432.2 311.8 432.5 309.8 432.9 307.8 C433.2 305.8 433.6 303.8 433.9 301.9 C434.3 299.9 434.6 297.9 435.0 295.9 C435.3 293.9 435.7 292.0 436.1 290.0 C436.5 288.0 436.8 286.0 437.2 284.1 C437.6 282.1 438.0 280.1 438.4 278.1 C438.8 276.2 439.3 274.2 439.7 272.2 C440.1 270.3 440.6 268.3 441.0 266.4 C441.4 264.4 441.9 262.4 442.4 260.5 C442.8 258.5 443.3 256.6 443.8 254.6 C444.3 252.7 444.8 250.7 445.3 248.8 C445.8 246.8 446.4 244.9 446.9 243.0 C447.4 241.0 448.0 239.1 448.6 237.2 C449.1 235.2 449.7 233.3 450.3 231.4 C450.9 229.5 451.5 227.5 452.1 225.6 C452.7 223.7 453.4 221.8 454.0 219.9 C454.7 218.0 455.3 216.1 456.0 214.2 C456.7 212.3 457.4 210.4 458.1 208.5 C458.8 206.7 459.5 204.8 460.3 202.9 C461.0 201.1 461.8 199.2 462.6 197.3 C463.4 195.5 464.2 193.6 465.0 191.8 C465.8 190.0 466.7 188.1 467.5 186.3 C468.4 184.5 469.3 182.7 470.2 180.9 C471.1 179.1 472.1 177.3 473.0 175.6 C474.0 173.8 475.0 172.1 476.0 170.4 C477.1 168.6 478.1 166.9 479.2 165.2 C480.3 163.6 481.4 161.9 482.6 160.2 C483.8 158.6 485.0 157.0 486.2 155.4 C487.5 153.8 488.8 152.3 490.1 150.8 C491.4 149.3 492.8 147.8 494.2 146.4 C495.6 145.0 497.1 143.6 498.6 142.2 C500.1 140.9 501.7 139.6 503.3 138.4 C504.9 137.2 506.5 136.1 508.2 135.0 C509.9 133.9 511.7 132.9 513.4 131.9 C515.2 131.0 517.1 130.2 518.9 129.4 C520.8 128.6 522.7 127.9 524.6 127.3 C526.5 126.7 528.5 126.2 530.4 125.8 C532.4 125.4 534.4 125.1 536.4 124.8 C538.4 124.6 540.4 124.4 542.4 124.3 C544.4 124.2 546.4 124.1 548.4 124.2 C550.4 124.2 552.4 124.3 554.4 124.5 C556.4 124.7 558.4 125.0 560.4 125.3 C562.4 125.6 564.4 126.0 566.3 126.5 C568.3 126.9 570.2 127.5 572.2 128.0 C574.1 128.6 576.0 129.3 577.9 130.0 C579.7 130.8 581.6 131.6 583.4 132.4 C585.2 133.3 587.0 134.3 588.7 135.3 C590.4 136.3 592.1 137.4 593.8 138.5 C595.4 139.7 597.0 140.9 598.6 142.2 C600.1 143.5 601.6 144.9 603.0 146.3 C604.4 147.8 605.7 149.3 607.0 150.8 C608.3 152.4 609.5 154.0 610.7 155.6 C611.8 157.2 613.0 158.9 614.0 160.6 C615.1 162.3 616.1 164.1 617.1 165.8 C618.1 167.6 619.0 169.4 619.9 171.1 C620.8 172.9 621.7 174.8 622.6 176.6 C623.4 178.4 624.2 180.2 625.0 182.1 C625.8 183.9 626.6 185.8 627.3 187.7 C628.1 189.5 628.9 191.4 629.6 193.3 C630.3 195.1 631.0 197.0 631.7 198.9 C632.4 200.8 633.1 202.7 633.8 204.6 C634.4 206.5 635.1 208.4 635.7 210.3 C636.3 212.2 637.0 214.1 637.6 216.0 C638.2 217.9 638.8 219.9 639.3 221.8 C639.9 223.7 640.5 225.7 641.0 227.6 C641.6 229.5 642.1 231.5 642.6 233.4 C643.2 235.3 643.7 237.3 644.2 239.2 C644.7 241.2 645.1 243.1 645.6 245.1 C646.1 247.1 646.5 249.0 647.0 251.0 C647.4 252.9 647.9 254.9 648.3 256.9 C648.7 258.8 649.1 260.8 649.6 262.8 C650.0 264.7 650.4 266.7 650.7 268.7 C651.1 270.7 651.5 272.6 651.9 274.6 C652.2 276.6 652.6 278.6 653.0 280.5 C653.3 282.5 653.7 284.5 654.0 286.5 C654.3 288.5 654.7 290.5 655.0 292.4 C655.3 294.4 655.6 296.4 655.9 298.4 C656.3 300.4 656.6 302.4 656.9 304.4 C657.2 306.3 657.5 308.3 657.8 310.3 C658.1 312.3 658.3 314.3 658.6 316.3 C658.9 318.3 659.2 320.3 659.5 322.3 C659.8 324.3 660.0 326.3 660.3 328.3 C660.6 330.2 660.9 332.2 661.1 334.2 C661.4 336.2 661.7 338.2 661.9 340.2 C662.2 342.2 662.5 344.2 662.7 346.2 C663.0 348.2 663.3 350.2 663.5 352.2 C663.8 354.2 664.1 356.2 664.3 358.1 C664.6 360.1 664.9 362.1 665.2 364.1 C665.4 366.1 665.7 368.1 666.0 370.1 C666.2 372.1 666.5 374.1 666.8 376.1 C667.1 378.1 667.3 380.1 667.6 382.1 C667.9 384.1 668.2 386.0 668.5 388.0 C668.8 390.0 669.0 392.0 669.3 394.0 C669.6 396.0 669.9 398.0 670.2 400.0 C670.5 402.0 670.8 404.0 671.1 405.9 C671.4 407.9 671.7 409.9 672.1 411.9 C672.4 413.9 672.7 415.9 673.0 417.9 C673.3 419.8 673.7 421.8 674.0 423.8 C674.3 425.8 674.7 427.8 675.0 429.8 C675.4 431.7 675.7 433.7 676.1 435.7 C676.4 437.7 676.8 439.7 677.2 441.6 C677.5 443.6 677.9 445.6 678.3 447.6 C678.7 449.5 679.1 451.5 679.5 453.5 C679.9 455.5 680.3 457.4 680.7 459.4 C681.1 461.4 681.5 463.3 682.0 465.3 C682.4 467.3 682.8 469.2 683.3 471.2 C683.7 473.1 684.2 475.1 684.6 477.1 C685.1 479.0 685.6 481.0 686.1 482.9 C686.6 484.9 687.1 486.8 687.6 488.8 C688.1 490.7 688.6 492.7 689.1 494.6 C689.7 496.5 690.2 498.5 690.7 500.4 C691.3 502.3 691.9 504.3 692.4 506.2 C693.0 508.1 693.6 510.0 694.2 512.0 C694.8 513.9 695.4 515.8 696.0 517.7 C696.7 519.6 697.3 521.5 697.9 523.4 C698.6 525.3 699.3 527.2 699.9 529.1 C700.6 531.0 701.3 532.9 702.0 534.8 C702.7 536.7 703.4 538.6 704.2 540.4 C704.9 542.3 705.7 544.2 706.4 546.0 C707.2 547.9 708.0 549.7 708.8 551.6 C709.6 553.4 710.4 555.3 711.2 557.1 C712.0 558.9 712.9 560.8 713.8 562.6 C714.6 564.4 715.5 566.2 716.4 568.0 C717.3 569.8 718.2 571.6 719.1 573.4 C720.0 575.2 721.0 576.9 722.0 578.7 C722.9 580.5 723.9 582.2 724.9 584.0 C725.9 585.7 726.9 587.5 727.9 589.2 C729.0 590.9 730.0 592.6 731.1 594.3 C732.2 596.0 733.3 597.7 734.4 599.4 C735.5 601.1 736.6 602.8 737.7 604.4 C738.9 606.1 740.0 607.7 741.2 609.3 C742.4 611.0 743.6 612.6 744.8 614.2 C746.0 615.8 747.3 617.4 748.5 619.0 C749.8 620.5 751.0 622.1 752.3 623.6 C753.6 625.2 754.9 626.7 756.2 628.2 C757.5 629.8 758.9 631.3 760.2 632.7 C761.6 634.2 763.0 635.7 764.4 637.2 C765.7 638.6 767.1 640.0 768.6 641.5 C770.0 642.9 771.4 644.3 772.9 645.7 C774.3 647.1 775.8 648.4 777.3 649.8 C778.8 651.1 780.3 652.5 781.8 653.8 C783.3 655.1 784.9 656.4 786.4 657.7 C788.0 659.0 789.5 660.3 791.1 661.5 C792.7 662.8 794.3 664.0 795.9 665.2 C797.5 666.4 799.1 667.6 800.7 668.8 Z" fill="#fff02a"/></g></g><line x1="119.6" y1="561.8" x2="1051.0" y2="561.8" stroke="#000" stroke-width="2.2" stroke-dasharray="22 22"/><g clip-path="url(#caL)"><path d="M286.8 670.3 C288.2 668.9 289.6 667.5 291.0 666.0 C292.5 664.6 293.9 663.2 295.2 661.7 C296.6 660.3 298.0 658.8 299.4 657.3 C300.7 655.8 302.1 654.3 303.4 652.8 C304.8 651.3 306.1 649.8 307.4 648.3 C308.7 646.8 310.0 645.2 311.3 643.7 C312.6 642.2 313.9 640.6 315.1 639.0 C316.4 637.5 317.6 635.9 318.9 634.3 C320.1 632.7 321.3 631.1 322.6 629.5 C323.8 627.9 325.0 626.3 326.2 624.7 C327.3 623.1 328.5 621.4 329.7 619.8 C330.8 618.1 332.0 616.5 333.1 614.8 C334.3 613.2 335.4 611.5 336.5 609.8 C337.6 608.2 338.7 606.5 339.8 604.8 C340.9 603.1 342.0 601.4 343.0 599.7 C344.1 598.0 345.2 596.3 346.2 594.6 C347.2 592.8 348.3 591.1 349.3 589.4 C350.3 587.6 351.3 585.9 352.3 584.1 C353.3 582.4 354.3 580.6 355.3 578.9 C356.2 577.1 357.2 575.3 358.1 573.6 C359.1 571.8 360.0 570.0 360.9 568.2 C361.9 566.4 362.8 564.7 363.7 562.9 C364.6 561.1 365.5 559.3 366.4 557.5 C367.2 555.6 368.1 553.8 369.0 552.0 C369.8 550.2 370.7 548.4 371.5 546.5 C372.4 544.7 373.2 542.9 374.0 541.0 C374.8 539.2 375.6 537.4 376.4 535.5 C377.2 533.7 378.0 531.8 378.8 530.0 C379.5 528.1 380.3 526.2 381.1 524.4 C381.8 522.5 382.6 520.6 383.3 518.8 C384.0 516.9 384.8 515.0 385.5 513.1 C386.2 511.3 386.9 509.4 387.6 507.5 C388.3 505.6 389.0 503.7 389.7 501.8 C390.3 499.9 391.0 498.0 391.7 496.1 C392.3 494.2 393.0 492.3 393.6 490.4 C394.2 488.5 394.9 486.6 395.5 484.7 C396.1 482.8 396.7 480.9 397.3 478.9 C397.9 477.0 398.5 475.1 399.1 473.2 C399.7 471.3 400.3 469.3 400.9 467.4 C401.4 465.5 402.0 463.5 402.5 461.6 C403.1 459.7 403.6 457.7 404.2 455.8 C404.7 453.9 405.2 451.9 405.8 450.0 C406.3 448.0 406.8 446.1 407.3 444.1 C407.8 442.2 408.3 440.2 408.8 438.3 C409.3 436.3 409.8 434.4 410.2 432.4 C410.7 430.5 411.2 428.5 411.6 426.6 C412.1 424.6 412.5 422.6 413.0 420.7 C413.4 418.7 413.9 416.8 414.3 414.8 C414.7 412.8 415.1 410.9 415.5 408.9 C416.0 406.9 416.4 405.0 416.8 403.0 C417.2 401.0 417.6 399.0 417.9 397.1 C418.3 395.1 418.7 393.1 419.1 391.1 C419.4 389.2 419.8 387.2 420.2 385.2 C420.5 383.2 420.9 381.2 421.2 379.3 C421.6 377.3 421.9 375.3 422.2 373.3 C422.6 371.3 422.9 369.3 423.2 367.4 C423.6 365.4 423.9 363.4 424.2 361.4 C424.5 359.4 424.9 357.4 425.2 355.5 C425.5 353.5 425.8 351.5 426.1 349.5 C426.5 347.5 426.8 345.5 427.1 343.5 C427.4 341.5 427.7 339.6 428.0 337.6 C428.3 335.6 428.6 333.6 429.0 331.6 C429.3 329.6 429.6 327.6 429.9 325.7 C430.2 323.7 430.6 321.7 430.9 319.7 C431.2 317.7 431.5 315.7 431.9 313.7 C432.2 311.8 432.5 309.8 432.9 307.8 C433.2 305.8 433.6 303.8 433.9 301.9 C434.3 299.9 434.6 297.9 435.0 295.9 C435.3 293.9 435.7 292.0 436.1 290.0 C436.5 288.0 436.8 286.0 437.2 284.1 C437.6 282.1 438.0 280.1 438.4 278.1 C438.8 276.2 439.3 274.2 439.7 272.2 C440.1 270.3 440.6 268.3 441.0 266.4 C441.4 264.4 441.9 262.4 442.4 260.5 C442.8 258.5 443.3 256.6 443.8 254.6 C444.3 252.7 444.8 250.7 445.3 248.8 C445.8 246.8 446.4 244.9 446.9 243.0 C447.4 241.0 448.0 239.1 448.6 237.2 C449.1 235.2 449.7 233.3 450.3 231.4 C450.9 229.5 451.5 227.5 452.1 225.6 C452.7 223.7 453.4 221.8 454.0 219.9 C454.7 218.0 455.3 216.1 456.0 214.2 C456.7 212.3 457.4 210.4 458.1 208.5 C458.8 206.7 459.5 204.8 460.3 202.9 C461.0 201.1 461.8 199.2 462.6 197.3 C463.4 195.5 464.2 193.6 465.0 191.8 C465.8 190.0 466.7 188.1 467.5 186.3 C468.4 184.5 469.3 182.7 470.2 180.9 C471.1 179.1 472.1 177.3 473.0 175.6 C474.0 173.8 475.0 172.1 476.0 170.4 C477.1 168.6 478.1 166.9 479.2 165.2 C480.3 163.6 481.4 161.9 482.6 160.2 C483.8 158.6 485.0 157.0 486.2 155.4 C487.5 153.8 488.8 152.3 490.1 150.8 C491.4 149.3 492.8 147.8 494.2 146.4 C495.6 145.0 497.1 143.6 498.6 142.2 C500.1 140.9 501.7 139.6 503.3 138.4 C504.9 137.2 506.5 136.1 508.2 135.0 C509.9 133.9 511.7 132.9 513.4 131.9 C515.2 131.0 517.1 130.2 518.9 129.4 C520.8 128.6 522.7 127.9 524.6 127.3 C526.5 126.7 528.5 126.2 530.4 125.8 C532.4 125.4 534.4 125.1 536.4 124.8 C538.4 124.6 540.4 124.4 542.4 124.3 C544.4 124.2 546.4 124.1 548.4 124.2 C550.4 124.2 552.4 124.3 554.4 124.5 C556.4 124.7 558.4 125.0 560.4 125.3 C562.4 125.6 564.4 126.0 566.3 126.5 C568.3 126.9 570.2 127.5 572.2 128.0 C574.1 128.6 576.0 129.3 577.9 130.0 C579.7 130.8 581.6 131.6 583.4 132.4 C585.2 133.3 587.0 134.3 588.7 135.3 C590.4 136.3 592.1 137.4 593.8 138.5 C595.4 139.7 597.0 140.9 598.6 142.2 C600.1 143.5 601.6 144.9 603.0 146.3 C604.4 147.8 605.7 149.3 607.0 150.8 C608.3 152.4 609.5 154.0 610.7 155.6 C611.8 157.2 613.0 158.9 614.0 160.6 C615.1 162.3 616.1 164.1 617.1 165.8 C618.1 167.6 619.0 169.4 619.9 171.1 C620.8 172.9 621.7 174.8 622.6 176.6 C623.4 178.4 624.2 180.2 625.0 182.1 C625.8 183.9 626.6 185.8 627.3 187.7 C628.1 189.5 628.9 191.4 629.6 193.3 C630.3 195.1 631.0 197.0 631.7 198.9 C632.4 200.8 633.1 202.7 633.8 204.6 C634.4 206.5 635.1 208.4 635.7 210.3 C636.3 212.2 637.0 214.1 637.6 216.0 C638.2 217.9 638.8 219.9 639.3 221.8 C639.9 223.7 640.5 225.7 641.0 227.6 C641.6 229.5 642.1 231.5 642.6 233.4 C643.2 235.3 643.7 237.3 644.2 239.2 C644.7 241.2 645.1 243.1 645.6 245.1 C646.1 247.1 646.5 249.0 647.0 251.0 C647.4 252.9 647.9 254.9 648.3 256.9 C648.7 258.8 649.1 260.8 649.6 262.8 C650.0 264.7 650.4 266.7 650.7 268.7 C651.1 270.7 651.5 272.6 651.9 274.6 C652.2 276.6 652.6 278.6 653.0 280.5 C653.3 282.5 653.7 284.5 654.0 286.5 C654.3 288.5 654.7 290.5 655.0 292.4 C655.3 294.4 655.6 296.4 655.9 298.4 C656.3 300.4 656.6 302.4 656.9 304.4 C657.2 306.3 657.5 308.3 657.8 310.3 C658.1 312.3 658.3 314.3 658.6 316.3 C658.9 318.3 659.2 320.3 659.5 322.3 C659.8 324.3 660.0 326.3 660.3 328.3 C660.6 330.2 660.9 332.2 661.1 334.2 C661.4 336.2 661.7 338.2 661.9 340.2 C662.2 342.2 662.5 344.2 662.7 346.2 C663.0 348.2 663.3 350.2 663.5 352.2 C663.8 354.2 664.1 356.2 664.3 358.1 C664.6 360.1 664.9 362.1 665.2 364.1 C665.4 366.1 665.7 368.1 666.0 370.1 C666.2 372.1 666.5 374.1 666.8 376.1 C667.1 378.1 667.3 380.1 667.6 382.1 C667.9 384.1 668.2 386.0 668.5 388.0 C668.8 390.0 669.0 392.0 669.3 394.0 C669.6 396.0 669.9 398.0 670.2 400.0 C670.5 402.0 670.8 404.0 671.1 405.9 C671.4 407.9 671.7 409.9 672.1 411.9 C672.4 413.9 672.7 415.9 673.0 417.9 C673.3 419.8 673.7 421.8 674.0 423.8 C674.3 425.8 674.7 427.8 675.0 429.8 C675.4 431.7 675.7 433.7 676.1 435.7 C676.4 437.7 676.8 439.7 677.2 441.6 C677.5 443.6 677.9 445.6 678.3 447.6 C678.7 449.5 679.1 451.5 679.5 453.5 C679.9 455.5 680.3 457.4 680.7 459.4 C681.1 461.4 681.5 463.3 682.0 465.3 C682.4 467.3 682.8 469.2 683.3 471.2 C683.7 473.1 684.2 475.1 684.6 477.1 C685.1 479.0 685.6 481.0 686.1 482.9 C686.6 484.9 687.1 486.8 687.6 488.8 C688.1 490.7 688.6 492.7 689.1 494.6 C689.7 496.5 690.2 498.5 690.7 500.4 C691.3 502.3 691.9 504.3 692.4 506.2 C693.0 508.1 693.6 510.0 694.2 512.0 C694.8 513.9 695.4 515.8 696.0 517.7 C696.7 519.6 697.3 521.5 697.9 523.4 C698.6 525.3 699.3 527.2 699.9 529.1 C700.6 531.0 701.3 532.9 702.0 534.8 C702.7 536.7 703.4 538.6 704.2 540.4 C704.9 542.3 705.7 544.2 706.4 546.0 C707.2 547.9 708.0 549.7 708.8 551.6 C709.6 553.4 710.4 555.3 711.2 557.1 C712.0 558.9 712.9 560.8 713.8 562.6 C714.6 564.4 715.5 566.2 716.4 568.0 C717.3 569.8 718.2 571.6 719.1 573.4 C720.0 575.2 721.0 576.9 722.0 578.7 C722.9 580.5 723.9 582.2 724.9 584.0 C725.9 585.7 726.9 587.5 727.9 589.2 C729.0 590.9 730.0 592.6 731.1 594.3 C732.2 596.0 733.3 597.7 734.4 599.4 C735.5 601.1 736.6 602.8 737.7 604.4 C738.9 606.1 740.0 607.7 741.2 609.3 C742.4 611.0 743.6 612.6 744.8 614.2 C746.0 615.8 747.3 617.4 748.5 619.0 C749.8 620.5 751.0 622.1 752.3 623.6 C753.6 625.2 754.9 626.7 756.2 628.2 C757.5 629.8 758.9 631.3 760.2 632.7 C761.6 634.2 763.0 635.7 764.4 637.2 C765.7 638.6 767.1 640.0 768.6 641.5 C770.0 642.9 771.4 644.3 772.9 645.7 C774.3 647.1 775.8 648.4 777.3 649.8 C778.8 651.1 780.3 652.5 781.8 653.8 C783.3 655.1 784.9 656.4 786.4 657.7 C788.0 659.0 789.5 660.3 791.1 661.5 C792.7 662.8 794.3 664.0 795.9 665.2 C797.5 666.4 799.1 667.6 800.7 668.8" fill="none" stroke="#00ffff" stroke-width="4.6"/></g><path d="M119.6 557.4 C120.9 557.3 122.2 557.2 123.5 557.1 C124.9 556.9 126.2 556.8 127.5 556.7 C128.9 556.5 130.2 556.4 131.5 556.2 C132.9 556.1 134.2 555.9 135.5 555.8 C136.8 555.6 138.2 555.4 139.5 555.3 C140.8 555.1 142.1 554.9 143.5 554.7 C144.8 554.5 146.1 554.3 147.4 554.1 C148.7 553.8 150.1 553.6 151.4 553.4 C152.7 553.1 154.0 552.8 155.3 552.6 C156.6 552.3 157.9 552.0 159.2 551.7 C160.5 551.4 161.8 551.0 163.1 550.7 C164.4 550.4 165.7 550.0 167.0 549.6 C168.3 549.2 169.5 548.8 170.8 548.4 C172.1 548.0 173.3 547.5 174.6 547.1 C175.8 546.6 177.1 546.1 178.3 545.6 C179.5 545.1 180.8 544.5 182.0 544.0 C183.2 543.4 184.4 542.8 185.6 542.2 C186.8 541.5 187.9 540.9 189.1 540.2 C190.2 539.5 191.4 538.8 192.5 538.1 C193.6 537.3 194.7 536.6 195.8 535.8 C196.8 535.0 197.9 534.2 198.9 533.3 C200.0 532.5 201.0 531.6 202.0 530.8 C203.0 529.9 204.0 529.0 205.0 528.1 C206.0 527.1 206.9 526.2 207.9 525.3 C208.8 524.3 209.7 523.3 210.6 522.3 C211.5 521.4 212.4 520.4 213.3 519.3 C214.1 518.3 215.0 517.3 215.8 516.3 C216.7 515.2 217.5 514.2 218.3 513.1 C219.1 512.0 219.9 510.9 220.7 509.9 C221.5 508.8 222.2 507.7 223.0 506.6 C223.7 505.5 224.5 504.4 225.2 503.2 C225.9 502.1 226.6 501.0 227.3 499.8 C228.0 498.7 228.7 497.5 229.4 496.4 C230.1 495.2 230.8 494.1 231.4 492.9 C232.1 491.8 232.7 490.6 233.3 489.4 C234.0 488.2 234.6 487.0 235.2 485.9 C235.8 484.7 236.4 483.5 237.0 482.3 C237.6 481.1 238.2 479.9 238.8 478.7 C239.4 477.5 240.0 476.3 240.6 475.1 C241.1 473.9 241.7 472.6 242.2 471.4 C242.8 470.2 243.4 469.0 243.9 467.8 C244.5 466.6 245.0 465.3 245.5 464.1 C246.1 462.9 246.6 461.7 247.1 460.4 C247.7 459.2 248.2 458.0 248.7 456.8 C249.3 455.5 249.8 454.3 250.3 453.1 C250.9 451.8 251.4 450.6 251.9 449.4 C252.4 448.1 253.0 446.9 253.5 445.7 C254.0 444.5 254.6 443.2 255.1 442.0 C255.6 440.8 256.2 439.6 256.7 438.3 C257.2 437.1 257.8 435.9 258.3 434.7 C258.9 433.4 259.4 432.2 260.0 431.0 C260.5 429.8 261.1 428.6 261.7 427.4 C262.2 426.2 262.8 424.9 263.4 423.7 C264.0 422.5 264.6 421.3 265.1 420.1 C265.7 418.9 266.4 417.8 267.0 416.6 C267.6 415.4 268.2 414.2 268.8 413.0 C269.4 411.8 270.0 410.6 270.6 409.4 C271.2 408.2 271.8 407.0 272.3 405.8 C272.8 404.5 273.3 403.3 273.8 402.0 C274.2 400.8 274.6 399.5 275.0 398.2 C275.4 396.9 275.6 395.6 276.0 394.3 C276.3 393.0 276.6 391.7 277.2 390.5 C277.7 389.3 278.4 388.1 279.3 387.1 C280.2 386.2 281.3 385.3 282.4 384.6 C283.6 384.0 284.9 383.5 286.1 383.1 C287.4 382.7 288.8 382.5 290.1 382.5 C291.4 382.4 292.8 382.5 294.1 382.7 C295.4 383.0 296.7 383.4 297.9 383.9 C299.1 384.5 300.3 385.2 301.4 385.9 C302.5 386.7 303.5 387.5 304.5 388.4 C305.5 389.3 306.4 390.3 307.2 391.4 C308.0 392.4 308.8 393.5 309.5 394.7 C310.2 395.8 310.8 397.0 311.4 398.2 C312.0 399.4 312.5 400.7 313.0 401.9 C313.4 403.2 313.8 404.4 314.2 405.7 C314.6 407.0 315.0 408.3 315.3 409.6 C315.7 410.9 316.0 412.2 316.3 413.5 C316.6 414.8 316.8 416.1 317.1 417.4 C317.4 418.7 317.6 420.0 317.9 421.3 C318.2 422.6 318.4 424.0 318.7 425.3 C319.0 426.6 319.2 427.9 319.5 429.2 C319.9 430.5 320.2 431.8 320.6 433.0 C321.0 434.3 321.5 435.6 322.0 436.8 C322.5 438.0 323.1 439.2 323.8 440.4 C324.4 441.6 325.1 442.7 325.9 443.8 C326.7 444.9 327.5 446.0 328.5 446.8 C329.5 447.7 330.7 448.7 331.9 449.0 C333.1 449.2 334.6 448.9 335.7 448.4 C336.9 447.8 337.9 446.7 338.8 445.8 C339.7 444.8 340.5 443.7 341.2 442.6 C341.9 441.5 342.6 440.3 343.2 439.1 C343.8 437.9 344.4 436.7 344.9 435.5 C345.4 434.2 345.8 432.9 346.2 431.7 C346.7 430.4 347.0 429.1 347.4 427.8 C347.8 426.6 348.1 425.3 348.5 424.0 C348.9 422.7 349.3 421.4 349.7 420.2 C350.2 418.9 350.6 417.6 351.2 416.4 C351.8 415.2 352.4 414.0 353.2 413.0 C354.1 411.9 355.0 410.9 356.1 410.2 C357.2 409.4 358.4 408.8 359.7 408.5 C360.9 408.1 362.4 408.0 363.7 408.2 C365.0 408.4 366.3 408.9 367.4 409.5 C368.6 410.1 369.7 411.0 370.6 411.9 C371.6 412.8 372.4 413.9 373.1 415.1 C373.7 416.2 374.2 417.5 374.7 418.7 C375.2 420.0 375.5 421.3 375.9 422.6 C376.2 423.9 376.6 425.2 376.9 426.5 C377.2 427.8 377.5 429.1 377.8 430.4 C378.1 431.7 378.4 433.0 378.6 434.3 C378.9 435.6 379.1 436.9 379.4 438.2 C379.6 439.6 379.8 440.9 380.1 442.2 C380.3 443.5 380.5 444.8 380.7 446.2 C380.9 447.5 381.1 448.8 381.3 450.1 C381.4 451.4 381.6 452.8 381.8 454.1 C382.0 455.4 382.1 456.8 382.3 458.1 C382.4 459.4 382.6 460.7 382.7 462.1 C382.9 463.4 383.0 464.7 383.2 466.1 C383.3 467.4 383.4 468.7 383.6 470.0 C383.7 471.4 383.9 472.7 384.0 474.0 C384.1 475.4 384.3 476.7 384.4 478.0 C384.5 479.4 384.7 480.7 384.8 482.0 C384.9 483.4 385.1 484.7 385.2 486.0 C385.4 487.3 385.5 488.7 385.7 490.0 C385.8 491.3 386.0 492.7 386.1 494.0 C386.3 495.3 386.5 496.6 386.6 498.0 C386.8 499.3 387.0 500.6 387.2 501.9 C387.4 503.3 387.6 504.6 387.8 505.9 C388.0 507.2 388.2 508.6 388.4 509.9 C388.6 511.2 388.9 512.5 389.1 513.8 C389.4 515.1 389.6 516.4 389.9 517.8 C390.2 519.1 390.5 520.4 390.8 521.7 C391.1 523.0 391.4 524.3 391.7 525.6 C392.1 526.9 392.4 528.2 392.8 529.4 C393.1 530.7 393.5 532.0 393.9 533.3 C394.3 534.6 394.7 535.8 395.2 537.1 C395.6 538.4 396.0 539.6 396.5 540.9 C397.0 542.1 397.5 543.4 398.0 544.6 C398.5 545.9 399.0 547.1 399.6 548.3 C400.1 549.5 400.7 550.7 401.4 551.9 C402.1 553.0 402.8 554.2 403.5 555.3 C404.3 556.3 405.1 557.4 406.1 558.4 C407.0 559.3 408.0 560.3 409.0 561.1 C410.1 561.8 411.3 562.6 412.6 562.9 C413.9 563.2 415.3 563.1 416.6 562.9 C417.9 562.6 419.1 562.0 420.3 561.4 C421.4 560.7 422.5 559.9 423.6 559.1 C424.7 558.3 425.7 557.5 426.7 556.6 C427.7 555.7 428.7 554.8 429.7 553.9 C430.7 553.0 431.6 552.1 432.6 551.1 C433.5 550.2 434.5 549.2 435.4 548.3 C436.4 547.4 437.3 546.4 438.3 545.5 C439.3 544.6 440.2 543.6 441.2 542.8 C442.2 541.9 443.3 541.0 444.3 540.2 C445.4 539.4 446.4 538.6 447.6 537.8 C448.7 537.1 449.8 536.4 451.0 535.8 C452.2 535.2 453.4 534.6 454.7 534.1 C455.9 533.7 457.2 533.3 458.5 532.9 C459.8 532.6 461.1 532.4 462.4 532.3 C463.8 532.2 465.1 532.3 466.5 532.4 C467.8 532.6 469.1 532.9 470.4 533.2 C471.7 533.6 472.9 534.0 474.2 534.5 C475.5 534.9 476.7 535.4 478.0 535.9 C479.2 536.3 480.5 536.8 481.7 537.2 C483.0 537.7 484.3 538.1 485.6 538.3 C486.9 538.6 488.2 538.9 489.6 538.9 C490.9 538.9 492.2 538.8 493.5 538.5 C494.8 538.3 496.1 537.8 497.4 537.3 C498.6 536.8 499.8 536.2 501.0 535.6 C502.1 534.9 503.3 534.2 504.4 533.4 C505.4 532.7 506.5 531.8 507.5 531.0 C508.6 530.1 509.6 529.2 510.5 528.3 C511.5 527.4 512.5 526.5 513.4 525.5 C514.4 524.6 515.3 523.6 516.2 522.6 C517.1 521.7 518.0 520.7 519.0 519.7 C519.9 518.8 520.8 517.8 521.7 516.8 C522.7 515.9 523.6 514.9 524.6 514.0 C525.6 513.1 526.6 512.2 527.6 511.3 C528.6 510.4 529.6 509.6 530.7 508.8 C531.7 507.9 532.8 507.1 533.9 506.4 C535.0 505.6 536.1 504.9 537.3 504.3 C538.5 503.6 539.6 503.0 540.9 502.4 C542.1 501.8 543.3 501.3 544.6 500.9 C545.8 500.4 547.1 500.0 548.4 499.7 C549.7 499.3 551.0 499.0 552.3 498.8 C553.6 498.6 555.0 498.4 556.3 498.4 C557.6 498.3 559.0 498.3 560.3 498.4 C561.6 498.4 563.0 498.6 564.3 498.8 C565.6 499.1 566.9 499.4 568.2 499.8 C569.4 500.2 570.7 500.8 571.9 501.4 C573.1 501.9 574.2 502.6 575.3 503.4 C576.4 504.1 577.5 505.0 578.5 505.8 C579.5 506.7 580.5 507.6 581.5 508.5 C582.4 509.5 583.3 510.4 584.2 511.4 C585.1 512.4 586.0 513.5 586.8 514.5 C587.7 515.5 588.5 516.6 589.3 517.7 C590.1 518.7 590.9 519.8 591.6 520.9 C592.4 522.0 593.1 523.1 593.9 524.2 C594.6 525.3 595.4 526.5 596.1 527.6 C596.8 528.7 597.6 529.8 598.3 530.9 C599.1 532.1 599.8 533.2 600.5 534.3 C601.3 535.4 602.0 536.5 602.8 537.6 C603.6 538.7 604.4 539.8 605.2 540.8 C606.0 541.9 606.8 543.0 607.6 544.0 C608.5 545.0 609.4 546.0 610.3 547.0 C611.2 548.0 612.1 548.9 613.1 549.8 C614.1 550.8 615.1 551.6 616.1 552.5 C617.2 553.3 618.3 554.1 619.4 554.8 C620.5 555.6 621.6 556.3 622.8 556.9 C624.0 557.6 625.2 558.2 626.4 558.7 C627.6 559.2 628.9 559.7 630.2 560.1 C631.4 560.5 632.7 560.9 634.0 561.1 C635.4 561.4 636.7 561.6 638.0 561.6 C639.4 561.7 640.7 561.7 642.0 561.5 C643.4 561.4 644.7 561.1 646.0 560.8 C647.3 560.5 648.5 560.0 649.8 559.5 C651.0 559.0 652.2 558.4 653.4 557.8 C654.5 557.1 655.7 556.4 656.8 555.6 C657.9 554.9 658.9 554.1 660.0 553.2 C661.0 552.4 662.0 551.5 663.0 550.5 C663.9 549.6 664.9 548.7 665.8 547.7 C666.7 546.7 667.6 545.7 668.4 544.7 C669.3 543.6 670.1 542.6 670.9 541.5 C671.7 540.4 672.5 539.4 673.3 538.3 C674.0 537.2 674.8 536.1 675.6 535.0 C676.3 533.9 677.1 532.8 677.9 531.7 C678.7 530.6 679.5 529.6 680.4 528.6 C681.2 527.5 682.1 526.5 683.1 525.6 C684.1 524.7 685.1 523.8 686.1 523.0 C687.2 522.2 688.3 521.5 689.4 520.7 C690.6 520.0 691.7 519.4 692.9 518.7 C694.1 518.1 695.3 517.5 696.5 516.9 C697.7 516.3 698.9 515.7 700.1 515.1 C701.3 514.5 702.5 513.9 703.7 513.3 C704.9 512.7 706.1 512.1 707.2 511.5 C708.4 510.9 709.6 510.3 710.8 509.6 C712.0 509.0 713.2 508.4 714.3 507.7 C715.5 507.1 716.7 506.4 717.8 505.7 C719.0 505.1 720.1 504.4 721.3 503.7 C722.4 503.0 723.5 502.2 724.6 501.5 C725.7 500.7 726.8 500.0 727.9 499.2 C729.0 498.4 730.1 497.6 731.1 496.7 C732.1 495.9 733.2 495.0 734.1 494.1 C735.1 493.2 736.1 492.3 737.0 491.4 C738.0 490.4 738.9 489.4 739.8 488.4 C740.6 487.4 741.5 486.4 742.3 485.3 C743.0 484.2 743.8 483.1 744.5 481.9 C745.2 480.8 745.8 479.6 746.5 478.4 C747.1 477.3 747.6 476.0 748.1 474.8 C748.7 473.6 749.1 472.3 749.6 471.1 C750.1 469.8 750.5 468.5 750.9 467.3 C751.3 466.0 751.6 464.7 752.0 463.4 C752.4 462.1 752.7 460.8 753.0 459.5 C753.4 458.2 753.7 456.9 754.0 455.6 C754.3 454.3 754.6 453.0 754.9 451.7 C755.2 450.4 755.5 449.1 755.8 447.8 C756.1 446.5 756.4 445.2 756.7 443.9 C757.1 442.6 757.4 441.3 757.8 440.0 C758.1 438.8 758.5 437.5 758.8 436.2 C759.2 434.9 759.6 433.6 759.9 432.3 C760.3 431.0 760.7 429.8 761.1 428.5 C761.5 427.2 761.9 425.9 762.3 424.6 C762.7 423.4 763.1 422.1 763.5 420.8 C763.9 419.6 764.3 418.3 764.8 417.0 C765.2 415.7 765.6 414.5 766.1 413.2 C766.5 411.9 766.9 410.7 767.4 409.4 C767.8 408.2 768.2 406.9 768.7 405.6 C769.1 404.4 769.6 403.1 770.0 401.9 C770.5 400.6 770.9 399.3 771.4 398.1 C771.8 396.8 772.3 395.6 772.8 394.3 C773.2 393.1 773.7 391.8 774.1 390.5 C774.6 389.3 775.1 388.0 775.6 386.8 C776.0 385.5 776.5 384.3 777.0 383.0 C777.4 381.8 777.9 380.5 778.4 379.3 C778.9 378.0 779.4 376.8 779.9 375.5 C780.3 374.3 780.8 373.1 781.4 371.8 C781.9 370.6 782.4 369.4 782.9 368.1 C783.5 366.9 784.0 365.7 784.6 364.5 C785.2 363.3 785.8 362.1 786.4 360.9 C787.0 359.7 787.6 358.5 788.3 357.4 C789.0 356.2 789.6 355.0 790.4 353.9 C791.1 352.8 791.8 351.7 792.6 350.6 C793.4 349.5 794.2 348.4 795.0 347.4 C795.9 346.4 796.8 345.4 797.8 344.5 C798.7 343.6 799.8 342.7 800.9 341.9 C802.0 341.2 803.1 340.5 804.4 340.0 C805.6 339.5 806.9 339.1 808.2 338.9 C809.5 338.7 810.9 338.6 812.2 338.8 C813.5 338.9 814.9 339.2 816.1 339.6 C817.4 340.1 818.6 340.7 819.7 341.4 C820.8 342.1 821.8 343.0 822.7 344.0 C823.6 345.0 824.4 346.1 825.1 347.2 C825.9 348.3 826.5 349.5 827.1 350.7 C827.7 351.9 828.2 353.2 828.7 354.4 C829.2 355.6 829.7 356.9 830.2 358.1 C830.7 359.3 831.2 360.6 831.7 361.8 C832.2 363.1 832.7 364.3 833.1 365.6 C833.6 366.8 834.0 368.1 834.5 369.4 C834.9 370.6 835.4 371.9 835.8 373.1 C836.2 374.4 836.7 375.7 837.1 377.0 C837.5 378.2 837.9 379.5 838.3 380.8 C838.6 382.1 839.0 383.4 839.4 384.6 C839.8 385.9 840.1 387.2 840.5 388.5 C840.8 389.8 841.1 391.1 841.5 392.4 C841.8 393.7 842.1 395.0 842.4 396.3 C842.7 397.6 843.1 398.9 843.4 400.2 C843.6 401.5 843.9 402.8 844.2 404.1 C844.5 405.4 844.8 406.7 845.1 408.0 C845.3 409.3 845.6 410.6 845.9 412.0 C846.1 413.3 846.4 414.6 846.6 415.9 C846.9 417.2 847.1 418.5 847.3 419.8 C847.6 421.2 847.8 422.5 848.1 423.8 C848.3 425.1 848.5 426.4 848.7 427.7 C849.0 429.1 849.2 430.4 849.4 431.7 C849.6 433.0 849.8 434.3 850.1 435.7 C850.3 437.0 850.5 438.3 850.7 439.6 C850.9 440.9 851.1 442.3 851.3 443.6 C851.5 444.9 851.7 446.2 851.9 447.6 C852.1 448.9 852.3 450.2 852.5 451.5 C852.7 452.9 852.8 454.2 853.0 455.5 C853.2 456.8 853.3 458.2 853.5 459.5 C853.6 460.8 853.7 462.2 853.8 463.5 C853.9 464.8 854.0 466.2 854.1 467.5 C854.2 468.8 854.2 470.2 854.3 471.5 C854.4 472.8 854.5 474.2 854.7 475.5 C854.9 476.8 855.2 478.2 855.7 479.4 C856.3 480.5 857.1 481.7 857.9 482.7 C858.8 483.7 859.9 484.5 861.0 485.3 C862.0 486.1 863.2 486.8 864.4 487.5 C865.5 488.1 866.7 488.8 867.9 489.4 C869.0 490.1 870.2 490.7 871.4 491.4 C872.5 492.0 873.7 492.7 874.8 493.5 C875.9 494.3 876.9 495.1 877.9 496.0 C878.9 496.9 879.8 497.9 880.6 499.0 C881.4 500.0 882.1 501.2 882.8 502.3 C883.4 503.5 884.0 504.7 884.5 505.9 C885.1 507.2 885.5 508.4 886.0 509.7 C886.4 511.0 886.8 512.2 887.1 513.5 C887.5 514.8 887.9 516.1 888.2 517.4 C888.5 518.7 888.9 520.0 889.2 521.3 C889.5 522.6 889.9 523.9 890.2 525.2 C890.6 526.4 891.0 527.7 891.4 529.0 C891.8 530.3 892.2 531.5 892.6 532.8 C893.1 534.1 893.6 535.3 894.1 536.5 C894.7 537.8 895.2 539.0 895.9 540.2 C896.5 541.3 897.2 542.5 897.9 543.6 C898.6 544.7 899.4 545.8 900.3 546.8 C901.1 547.8 902.1 548.8 903.1 549.7 C904.0 550.6 905.1 551.4 906.2 552.2 C907.3 552.9 908.5 553.6 909.7 554.2 C910.9 554.8 912.1 555.3 913.4 555.8 C914.6 556.2 915.9 556.7 917.2 557.1 C918.5 557.4 919.8 557.8 921.1 558.1 C922.4 558.4 923.7 558.6 925.0 558.9 C926.3 559.1 927.6 559.2 929.0 559.4 C930.3 559.5 931.6 559.5 933.0 559.5 C934.3 559.5 935.7 559.5 937.0 559.3 C938.3 559.2 939.6 559.0 941.0 558.8 C942.3 558.5 943.6 558.2 944.8 557.8 C946.1 557.4 947.4 556.9 948.6 556.4 C949.9 555.9 951.1 555.3 952.3 554.8 C953.5 554.2 954.7 553.6 955.9 553.0 C957.1 552.4 958.3 551.8 959.5 551.2 C960.7 550.6 961.9 550.1 963.1 549.6 C964.4 549.1 965.6 548.6 966.9 548.2 C968.2 547.8 969.5 547.5 970.8 547.3 C972.1 547.2 973.5 547.1 974.8 547.1 C976.2 547.2 977.5 547.4 978.8 547.6 C980.1 547.9 981.4 548.2 982.7 548.6 C984.0 549.0 985.2 549.5 986.5 549.9 C987.7 550.4 989.0 550.9 990.2 551.3 C991.5 551.8 992.7 552.4 993.9 552.9 C995.2 553.4 996.4 553.9 997.7 554.4 C998.9 554.9 1000.1 555.4 1001.4 555.9 C1002.6 556.3 1003.9 556.8 1005.2 557.2 C1006.5 557.5 1007.8 557.9 1009.1 558.2 C1010.4 558.5 1011.7 558.8 1013.0 558.9 C1014.3 559.1 1015.7 559.2 1017.0 559.3" fill="none" stroke="#00ffff" stroke-width="4.6"/>
<line x1="119.6" y1="682.5" x2="119.6" y2="148" stroke="#000" stroke-width="4.5"/>
<polygon points="119.6,121.8 104.4,149 134.8,149" fill="#000"/>
<line x1="117.6" y1="656.5" x2="1034" y2="656.5" stroke="#000" stroke-width="4.5"/>
<polygon points="1058.3,656.5 1032.5,641.0 1032.5,672.0" fill="#000"/>
<line x1="331.3" y1="656.5" x2="331.3" y2="682.5" stroke="#000" stroke-width="4.5"/>
<line x1="544.2" y1="656.5" x2="544.2" y2="682.5" stroke="#000" stroke-width="4.5"/>
<line x1="756.7" y1="656.5" x2="756.7" y2="682.5" stroke="#000" stroke-width="4.5"/>
<line x1="969.2" y1="656.5" x2="969.2" y2="682.5" stroke="#000" stroke-width="4.5"/>
<line x1="88" y1="561.8" x2="119" y2="561.8" stroke="#000" stroke-width="2"/><line x1="88" y1="656.3" x2="119" y2="656.3" stroke="#000" stroke-width="2"/>
<line x1="99.7" y1="580" x2="99.7" y2="640" stroke="#000" stroke-width="2"/>
<polygon points="99.7,562.5 90.7,584.2 99.7,579 108.7,584.2" fill="#000"/><polygon points="99.7,655.8 90.7,634.1 99.7,639.3 108.7,634.1" fill="#000"/>
<path d="M144.4 700.4 A29.9 29.9 0 1 0 144.4 753.8 A28.4 28.4 0 0 1 144.4 700.4 Z" fill="#6a66ff" stroke="#000" stroke-width="2.3" stroke-linejoin="miter" stroke-miterlimit="10"/>
<clipPath id="sra"><rect x="281.4" y="676.9" width="100" height="58"/></clipPath><g clip-path="url(#sra)"><polygon points="364.8,734.9 352.8,731.1 362.7,723.5 350.2,724.0 356.9,713.4 345.4,718.2 348.1,706.0 338.8,714.4 337.1,702.0 331.4,713.1 325.6,702.0 323.9,714.4 314.7,706.0 317.3,718.2 305.8,713.4 312.5,724.0 300.0,723.5 309.9,731.1 298.0,734.9 309.9,738.7 300.0,746.3 312.5,745.8 305.8,756.4 317.3,751.6 314.7,763.8 323.9,755.4 325.6,767.8 331.4,756.7 337.1,767.8 338.8,755.4 348.1,763.8 345.4,751.6 356.9,756.4 350.2,745.8 362.7,746.3 352.8,738.7" fill="#fff02a" stroke="#000" stroke-width="2.2" stroke-miterlimit="10"/></g><line x1="284.9" y1="734.9" x2="377.9" y2="734.9" stroke="#000" stroke-width="1.9" stroke-linecap="round"/>
<polygon points="576.1,726.6 566.9,722.6 574.2,715.7 564.2,715.0 568.6,706.0 559.0,708.8 560.1,698.9 552.0,704.8 549.7,695.1 544.1,703.4 538.5,695.1 536.2,704.8 528.1,698.9 529.2,708.8 519.6,706.0 524.0,715.0 514.0,715.7 521.3,722.6 512.1,726.6 521.3,730.6 514.0,737.5 524.0,738.2 519.6,747.2 529.2,744.4 528.1,754.3 536.2,748.4 538.5,758.1 544.1,749.8 549.7,758.1 552.0,748.4 560.1,754.3 559.0,744.4 568.6,747.2 564.2,738.2 574.2,737.5 566.9,730.6" fill="#fff02a" stroke="#000" stroke-width="2.2" stroke-linejoin="miter" stroke-miterlimit="10"/>
<clipPath id="srb"><rect x="706.3" y="676.7" width="100" height="58"/></clipPath><g clip-path="url(#srb)"><polygon points="789.7,734.7 777.8,730.9 787.7,723.3 775.2,723.8 781.9,713.2 770.3,718.0 773.0,705.8 763.8,714.2 762.1,701.8 756.3,712.9 750.5,701.8 748.8,714.2 739.6,705.8 742.3,718.0 730.7,713.2 737.4,723.8 724.9,723.3 734.8,730.9 722.9,734.7 734.8,738.5 724.9,746.1 737.4,745.6 730.7,756.2 742.3,751.4 739.6,763.6 748.8,755.2 750.5,767.6 756.3,756.5 762.1,767.6 763.8,755.2 773.0,763.6 770.3,751.4 781.9,756.2 775.2,745.6 787.7,746.1 777.8,738.5" fill="#fff02a" stroke="#000" stroke-width="2.2" stroke-miterlimit="10"/></g><line x1="709.8" y1="734.7" x2="802.8" y2="734.7" stroke="#000" stroke-width="1.9" stroke-linecap="round"/>
<path d="M995.4 700.4 A29.9 29.9 0 1 0 995.4 753.8 A28.4 28.4 0 0 1 995.4 700.4 Z" fill="#6a66ff" stroke="#000" stroke-width="2.3" stroke-linejoin="miter" stroke-miterlimit="10"/>
<line x1="640" y1="192" x2="784" y2="192" stroke="#000" stroke-width="2.2"/>
<polygon points="628.3,192 650,183 645,192 650,201" fill="#000"/>
<polyline points="863.5,300.3 827.5,300.3 820,325" fill="none" stroke="#000" stroke-width="2.2"/>
<polygon points="816.7,338.3 815,316.7 821.7,323.3 831.7,321.7" fill="#000"/>
<line x1="27.4" y1="39" x2="376" y2="39" stroke="#000" stroke-width="4.2"/><line x1="734.8" y1="39" x2="1084" y2="39" stroke="#000" stroke-width="4.2"/>
<defs><clipPath id="clR"><path d="M1267.0 557.8 C1268.3 557.9 1269.7 558.1 1271.0 558.2 C1272.3 558.3 1273.7 558.4 1275.0 558.4 C1276.3 558.5 1277.7 558.5 1279.0 558.5 C1280.3 558.4 1281.7 558.4 1283.0 558.3 C1284.4 558.2 1285.7 558.1 1287.0 558.0 C1288.4 557.9 1289.7 557.7 1291.0 557.6 C1292.3 557.4 1293.7 557.2 1295.0 557.0 C1296.3 556.8 1297.6 556.6 1299.0 556.4 C1300.3 556.2 1301.6 556.0 1302.9 555.7 C1304.2 555.5 1305.6 555.3 1306.9 555.0 C1308.2 554.8 1309.5 554.6 1310.8 554.3 C1312.1 554.1 1313.5 553.9 1314.8 553.7 C1316.1 553.5 1317.4 553.2 1318.8 553.0 C1320.1 552.8 1321.4 552.7 1322.7 552.5 C1324.0 552.3 1325.4 552.1 1326.7 551.9 C1328.0 551.7 1329.3 551.4 1330.7 551.2 C1332.0 550.9 1333.3 550.7 1334.6 550.4 C1335.9 550.1 1337.2 549.7 1338.5 549.3 C1339.7 548.9 1341.0 548.5 1342.2 548.0 C1343.5 547.5 1344.7 546.9 1345.9 546.3 C1347.1 545.7 1348.2 545.1 1349.4 544.3 C1350.5 543.6 1351.6 542.9 1352.7 542.1 C1353.8 541.3 1354.8 540.4 1355.8 539.5 C1356.8 538.7 1357.8 537.8 1358.8 536.8 C1359.7 535.9 1360.7 534.9 1361.6 534.0 C1362.5 533.0 1363.4 532.0 1364.2 531.0 C1365.1 529.9 1366.0 528.9 1366.8 527.9 C1367.6 526.8 1368.4 525.7 1369.2 524.7 C1370.0 523.6 1370.8 522.5 1371.5 521.4 C1372.3 520.3 1373.0 519.2 1373.7 518.0 C1374.5 516.9 1375.2 515.8 1375.9 514.6 C1376.5 513.5 1377.2 512.3 1377.9 511.1 C1378.5 510.0 1379.2 508.8 1379.8 507.6 C1380.4 506.4 1381.0 505.2 1381.6 504.0 C1382.2 502.8 1382.8 501.6 1383.3 500.4 C1383.9 499.2 1384.5 498.0 1385.0 496.8 C1385.5 495.5 1386.1 494.3 1386.6 493.1 C1387.1 491.8 1387.6 490.6 1388.1 489.4 C1388.6 488.1 1389.1 486.9 1389.5 485.6 C1390.0 484.4 1390.5 483.1 1390.9 481.8 C1391.4 480.6 1391.8 479.3 1392.3 478.0 C1392.7 476.8 1393.1 475.5 1393.5 474.2 C1393.9 473.0 1394.4 471.7 1394.8 470.4 C1395.2 469.1 1395.6 467.9 1396.0 466.6 C1396.4 465.3 1396.7 464.0 1397.1 462.7 C1397.5 461.5 1397.9 460.2 1398.3 458.9 C1398.6 457.6 1399.0 456.3 1399.4 455.0 C1399.7 453.8 1400.1 452.5 1400.5 451.2 C1400.8 449.9 1401.2 448.6 1401.6 447.3 C1402.0 446.0 1402.3 444.8 1402.7 443.5 C1403.1 442.2 1403.5 440.9 1403.9 439.6 C1404.3 438.4 1404.7 437.1 1405.2 435.8 C1405.6 434.6 1406.0 433.3 1406.5 432.0 C1407.0 430.8 1407.4 429.5 1407.9 428.3 C1408.4 427.0 1408.9 425.8 1409.5 424.6 C1410.0 423.4 1410.6 422.1 1411.2 420.9 C1411.8 419.7 1412.4 418.5 1413.0 417.4 C1413.6 416.2 1414.3 415.0 1415.0 413.9 C1415.6 412.7 1416.3 411.5 1416.9 410.4 C1417.5 409.2 1418.1 408.0 1418.6 406.7 C1419.1 405.5 1419.4 404.2 1419.8 402.9 C1420.2 401.6 1420.4 400.3 1420.8 399.0 C1421.1 397.7 1421.4 396.4 1421.9 395.1 C1422.3 393.9 1422.7 392.6 1423.4 391.4 C1424.0 390.2 1424.7 389.1 1425.5 388.0 C1426.4 387.0 1427.3 386.0 1428.4 385.2 C1429.4 384.3 1430.5 383.6 1431.7 382.9 C1432.8 382.3 1434.1 381.8 1435.4 381.4 C1436.7 381.1 1438.0 380.9 1439.3 380.9 C1440.7 380.9 1442.0 381.1 1443.3 381.5 C1444.6 381.8 1445.8 382.4 1447.0 383.0 C1448.2 383.6 1449.3 384.4 1450.3 385.2 C1451.4 386.1 1452.3 387.0 1453.2 388.0 C1454.1 389.0 1455.0 390.1 1455.7 391.2 C1456.4 392.3 1457.1 393.5 1457.7 394.7 C1458.2 395.9 1458.7 397.1 1459.1 398.4 C1459.6 399.7 1459.9 401.0 1460.2 402.3 C1460.6 403.6 1460.8 404.9 1461.1 406.2 C1461.4 407.5 1461.7 408.8 1462.1 410.1 C1462.4 411.4 1462.7 412.7 1463.1 414.0 C1463.4 415.3 1463.8 416.5 1464.2 417.8 C1464.6 419.1 1465.0 420.4 1465.4 421.6 C1465.8 422.9 1466.3 424.2 1466.7 425.4 C1467.2 426.7 1467.6 428.0 1468.1 429.2 C1468.6 430.5 1469.1 431.7 1469.6 432.9 C1470.1 434.2 1470.6 435.4 1471.1 436.7 C1471.6 437.9 1472.2 439.1 1472.7 440.3 C1473.3 441.6 1473.8 442.8 1474.4 444.0 C1475.0 445.2 1475.5 446.4 1476.1 447.6 C1476.7 448.8 1477.3 450.0 1477.9 451.2 C1478.5 452.4 1479.1 453.6 1479.8 454.8 C1480.4 456.0 1481.0 457.1 1481.6 458.3 C1482.3 459.5 1482.9 460.7 1483.6 461.8 C1484.2 463.0 1484.9 464.2 1485.5 465.3 C1486.2 466.5 1486.8 467.7 1487.5 468.8 C1488.2 470.0 1488.8 471.2 1489.5 472.3 C1490.2 473.5 1490.8 474.6 1491.5 475.8 C1492.2 476.9 1492.9 478.1 1493.6 479.2 C1494.2 480.4 1494.9 481.5 1495.6 482.7 C1496.3 483.8 1497.0 485.0 1497.7 486.1 C1498.4 487.3 1499.1 488.4 1499.8 489.5 C1500.5 490.7 1501.2 491.8 1501.9 493.0 C1502.6 494.1 1503.3 495.2 1504.0 496.4 C1504.8 497.5 1505.5 498.6 1506.2 499.8 C1506.9 500.9 1507.6 502.0 1508.3 503.1 C1509.1 504.3 1509.8 505.4 1510.5 506.5 C1511.2 507.6 1512.0 508.8 1512.7 509.9 C1513.4 511.0 1514.1 512.1 1514.9 513.3 C1515.6 514.4 1516.3 515.5 1517.1 516.6 C1517.8 517.7 1518.5 518.9 1519.3 520.0 C1520.0 521.1 1520.7 522.2 1521.5 523.3 C1522.2 524.5 1522.9 525.6 1523.7 526.7 C1524.4 527.8 1525.2 528.9 1525.9 530.0 C1526.6 531.1 1527.4 532.3 1528.1 533.4 C1528.9 534.5 1529.7 535.6 1530.4 536.7 C1531.2 537.8 1532.0 538.8 1532.8 539.9 C1533.6 541.0 1534.4 542.0 1535.3 543.1 C1536.1 544.1 1537.0 545.1 1537.9 546.1 C1538.7 547.1 1539.7 548.1 1540.6 549.1 C1541.5 550.0 1542.5 551.0 1543.5 551.8 C1544.5 552.7 1545.5 553.6 1546.6 554.4 C1547.6 555.3 1548.7 556.1 1549.8 556.8 C1550.9 557.5 1552.1 558.2 1553.3 558.7 C1554.5 559.3 1555.8 559.8 1557.1 560.0 C1558.4 560.2 1559.8 560.3 1561.1 560.2 C1562.4 560.1 1563.8 559.7 1565.0 559.3 C1566.3 558.8 1567.5 558.2 1568.6 557.5 C1569.8 556.9 1570.9 556.1 1571.9 555.2 C1573.0 554.4 1573.9 553.5 1574.8 552.5 C1575.8 551.5 1576.6 550.5 1577.4 549.4 C1578.2 548.4 1579.0 547.3 1579.7 546.1 C1580.5 545.0 1581.2 543.9 1581.9 542.8 C1582.6 541.6 1583.3 540.5 1584.0 539.3 C1584.7 538.2 1585.4 537.0 1586.0 535.9 C1586.7 534.7 1587.3 533.5 1587.9 532.3 C1588.6 531.2 1589.2 530.0 1589.8 528.8 C1590.4 527.6 1590.9 526.4 1591.5 525.1 C1592.0 523.9 1592.6 522.7 1593.1 521.5 C1593.6 520.2 1594.1 519.0 1594.6 517.7 C1595.0 516.5 1595.5 515.2 1595.9 513.9 C1596.3 512.7 1596.7 511.4 1597.1 510.1 C1597.5 508.8 1597.9 507.5 1598.2 506.2 C1598.5 504.9 1598.9 503.6 1599.2 502.3 C1599.5 501.0 1599.7 499.7 1600.0 498.4 C1600.3 497.1 1600.5 495.8 1600.7 494.5 C1601.0 493.2 1601.2 491.8 1601.4 490.5 C1601.6 489.2 1601.8 487.9 1602.0 486.5 C1602.1 485.2 1602.3 483.9 1602.4 482.6 C1602.6 481.2 1602.7 479.9 1602.9 478.6 C1603.0 477.2 1603.1 475.9 1603.3 474.6 C1603.4 473.2 1603.5 471.9 1603.6 470.6 C1603.7 469.2 1603.8 467.9 1603.9 466.6 C1604.0 465.2 1604.1 463.9 1604.2 462.6 C1604.3 461.2 1604.4 459.9 1604.5 458.6 C1604.6 457.2 1604.7 455.9 1604.9 454.6 C1605.0 453.2 1605.1 451.9 1605.3 450.6 C1605.5 449.2 1605.7 447.9 1605.9 446.6 C1606.1 445.3 1606.4 444.0 1606.7 442.7 C1607.0 441.4 1607.4 440.1 1607.8 438.8 C1608.3 437.5 1608.8 436.3 1609.3 435.1 C1609.9 433.9 1610.6 432.7 1611.3 431.6 C1612.0 430.5 1612.9 429.4 1613.8 428.4 C1614.7 427.5 1615.7 426.5 1616.7 425.7 C1617.8 424.9 1618.9 424.2 1620.1 423.5 C1621.3 422.9 1622.5 422.3 1623.7 421.9 C1625.0 421.4 1626.3 421.0 1627.6 420.7 C1628.9 420.4 1630.2 420.2 1631.6 420.1 C1632.9 420.1 1634.2 420.1 1635.6 420.3 C1636.9 420.4 1638.2 420.7 1639.5 421.1 C1640.8 421.4 1642.1 421.9 1643.3 422.3 C1644.6 422.8 1645.8 423.3 1647.0 423.8 C1648.3 424.4 1649.5 424.9 1650.7 425.5 C1651.9 426.0 1653.1 426.6 1654.4 427.1 C1655.6 427.6 1656.9 428.1 1658.1 428.4 C1659.4 428.8 1660.7 429.2 1662.1 429.3 C1663.4 429.4 1664.8 429.3 1666.1 429.0 C1667.3 428.7 1668.6 428.0 1669.7 427.3 C1670.8 426.5 1671.7 425.6 1672.7 424.6 C1673.6 423.7 1674.5 422.7 1675.3 421.6 C1676.2 420.6 1677.0 419.5 1677.8 418.4 C1678.6 417.4 1679.3 416.3 1680.1 415.2 C1680.8 414.1 1681.6 412.9 1682.3 411.8 C1683.0 410.7 1683.7 409.5 1684.4 408.4 C1685.1 407.3 1685.8 406.1 1686.5 405.0 C1687.2 403.8 1687.9 402.7 1688.6 401.5 C1689.3 400.4 1690.0 399.3 1690.7 398.1 C1691.5 397.0 1692.2 395.9 1693.0 394.8 C1693.7 393.7 1694.5 392.6 1695.3 391.6 C1696.1 390.5 1697.0 389.5 1697.9 388.5 C1698.8 387.5 1699.7 386.5 1700.6 385.6 C1701.6 384.6 1702.6 383.8 1703.7 382.9 C1704.7 382.1 1705.9 381.4 1707.0 380.7 C1708.1 380.0 1709.3 379.4 1710.6 378.8 C1711.8 378.3 1713.1 377.8 1714.3 377.4 C1715.6 377.0 1716.9 376.7 1718.2 376.5 C1719.5 376.2 1720.9 376.0 1722.2 375.9 C1723.5 375.8 1724.9 375.8 1726.2 375.8 C1727.5 375.9 1728.9 376.0 1730.2 376.2 C1731.5 376.4 1732.8 376.7 1734.1 377.1 C1735.4 377.4 1736.7 377.9 1737.9 378.4 C1739.1 378.9 1740.3 379.5 1741.5 380.1 C1742.7 380.8 1743.9 381.4 1745.0 382.2 C1746.1 382.9 1747.2 383.7 1748.2 384.6 C1749.3 385.4 1750.3 386.3 1751.3 387.2 C1752.2 388.1 1753.2 389.0 1754.1 390.0 C1755.0 391.0 1755.9 392.0 1756.8 393.0 C1757.6 394.0 1758.5 395.1 1759.3 396.1 C1760.1 397.2 1760.8 398.3 1761.6 399.4 C1762.3 400.5 1763.0 401.7 1763.7 402.8 C1764.4 404.0 1765.1 405.1 1765.7 406.3 C1766.3 407.5 1766.9 408.7 1767.5 409.9 C1768.1 411.1 1768.6 412.3 1769.1 413.6 C1769.6 414.8 1770.1 416.0 1770.6 417.3 C1771.1 418.6 1771.5 419.8 1771.9 421.1 C1772.4 422.4 1772.8 423.6 1773.1 424.9 C1773.5 426.2 1773.9 427.5 1774.2 428.8 C1774.5 430.1 1774.8 431.4 1775.1 432.7 C1775.4 434.0 1775.7 435.3 1776.0 436.6 C1776.2 437.9 1776.5 439.3 1776.7 440.6 C1776.9 441.9 1777.2 443.2 1777.4 444.5 C1777.6 445.9 1777.8 447.2 1778.0 448.5 C1778.2 449.8 1778.3 451.1 1778.5 452.5 C1778.7 453.8 1778.9 455.1 1779.0 456.5 C1779.2 457.8 1779.3 459.1 1779.5 460.4 C1779.6 461.8 1779.8 463.1 1779.9 464.4 C1780.1 465.8 1780.2 467.1 1780.4 468.4 C1780.5 469.8 1780.7 471.1 1780.8 472.4 C1781.0 473.7 1781.1 475.1 1781.3 476.4 C1781.5 477.7 1781.6 479.1 1781.8 480.4 C1782.0 481.7 1782.1 483.0 1782.4 484.4 C1782.6 485.7 1782.8 487.0 1783.0 488.3 C1783.3 489.6 1783.5 491.0 1783.8 492.3 C1784.1 493.6 1784.5 494.9 1784.8 496.1 C1785.2 497.4 1785.6 498.7 1786.1 500.0 C1786.5 501.2 1787.0 502.5 1787.6 503.7 C1788.1 504.9 1788.7 506.1 1789.4 507.3 C1790.0 508.5 1790.7 509.6 1791.4 510.7 C1792.2 511.8 1793.0 512.9 1793.8 513.9 C1794.6 515.0 1795.5 516.0 1796.5 517.0 C1797.4 517.9 1798.4 518.9 1799.4 519.7 C1800.4 520.6 1801.5 521.4 1802.6 522.2 C1803.7 522.9 1804.8 523.6 1806.0 524.2 C1807.2 524.8 1808.5 525.3 1809.8 525.6 C1811.0 526.0 1812.4 526.3 1813.7 526.4 C1815.0 526.5 1816.4 526.4 1817.7 526.3 C1819.0 526.2 1820.4 525.9 1821.7 525.6 C1823.0 525.2 1824.2 524.8 1825.5 524.3 C1826.7 523.9 1828.0 523.4 1829.2 522.8 C1830.4 522.3 1831.6 521.7 1832.8 521.1 C1834.0 520.5 1835.2 519.9 1836.4 519.2 C1837.6 518.6 1838.7 518.0 1839.9 517.4 C1841.1 516.7 1842.3 516.1 1843.5 515.5 C1844.7 514.9 1845.9 514.3 1847.1 513.7 C1848.3 513.2 1849.5 512.6 1850.8 512.1 C1852.0 511.6 1853.2 511.1 1854.5 510.6 C1855.7 510.0 1856.9 509.6 1858.2 509.0 C1859.4 508.5 1860.7 508.0 1861.9 507.5 C1863.1 507.0 1864.4 506.5 1865.6 505.9 C1866.8 505.4 1868.0 504.8 1869.2 504.2 C1870.4 503.6 1871.6 503.0 1872.8 502.4 C1874.0 501.7 1875.1 501.0 1876.2 500.3 C1877.4 499.6 1878.5 498.8 1879.6 498.1 C1880.7 497.3 1881.7 496.5 1882.8 495.8 C1884.0 495.0 1885.1 494.3 1886.2 493.6 C1887.4 492.9 1888.6 492.3 1889.8 491.8 C1891.0 491.3 1892.3 490.9 1893.6 490.6 C1894.9 490.3 1896.3 490.1 1897.6 490.0 C1898.9 489.9 1900.3 489.9 1901.6 489.9 C1903.0 490.0 1904.3 490.1 1905.6 490.2 C1907.0 490.3 1908.3 490.5 1909.6 490.7 C1910.9 490.9 1912.2 491.1 1913.6 491.4 C1914.9 491.6 1916.2 491.8 1917.5 492.0 C1918.8 492.3 1920.2 492.5 1921.5 492.7 C1922.8 492.9 1924.1 493.0 1925.5 493.2 C1926.8 493.3 1928.1 493.4 1929.5 493.4 C1930.8 493.5 1932.2 493.5 1933.5 493.4 C1934.8 493.4 1936.2 493.3 1937.5 493.2 C1938.8 493.1 1940.2 493.0 1941.5 492.9 C1942.8 492.8 1944.2 492.6 1945.5 492.5 C1946.8 492.3 1948.1 492.2 1949.5 492.0 C1950.8 491.8 1952.1 491.7 1953.5 491.5 C1954.8 491.4 1956.1 491.3 1957.5 491.1 C1958.8 491.0 1960.1 490.9 1961.5 490.8 C1962.8 490.7 1964.1 490.7 1965.5 490.6 C1966.8 490.6 1968.2 490.6 1969.5 490.6 C1970.8 490.7 1972.2 490.8 1973.5 490.9 C1974.8 491.0 1976.2 491.2 1977.5 491.4 C1978.8 491.6 1980.1 491.9 1981.4 492.2 C1982.7 492.6 1984.0 493.0 1985.2 493.5 C1986.5 493.9 1987.7 494.5 1988.9 495.1 C1990.1 495.7 1991.2 496.4 1992.3 497.2 C1993.4 498.0 1994.4 498.8 1995.3 499.8 C1996.2 500.8 1997.1 501.9 1997.7 503.0 C1998.3 504.2 1998.8 505.5 1999.2 506.8 C1999.6 508.0 1999.8 509.4 2000.1 510.7 C2000.5 512.0 2000.7 513.3 2001.2 514.5 C2001.7 515.8 2002.2 517.0 2002.9 518.1 C2003.7 519.2 2004.6 520.3 2005.6 521.1 C2006.6 522.0 2007.7 522.8 2008.9 523.4 C2010.0 524.1 2011.3 524.6 2012.5 525.1 C2013.8 525.6 2015.1 525.9 2016.4 526.3 C2017.6 526.7 2018.9 527.0 2020.2 527.4 C2021.5 527.9 2022.7 528.3 2023.9 529.0 C2025.1 529.6 2026.1 530.4 2027.1 531.3 C2028.1 532.2 2029.0 533.3 2029.8 534.3 C2030.7 535.3 2031.5 536.4 2032.3 537.5 C2033.1 538.5 2033.9 539.6 2034.8 540.6 C2035.6 541.7 2036.5 542.7 2037.4 543.7 C2038.2 544.7 2039.1 545.7 2040.1 546.7 C2041.0 547.6 2042.0 548.6 2043.0 549.4 C2044.0 550.3 2045.0 551.2 2046.1 552.0 C2047.1 552.8 2048.3 553.5 2049.4 554.2 C2050.6 554.9 2051.8 555.5 2053.0 556.0 C2054.2 556.6 2055.4 557.1 2056.7 557.5 C2058.0 557.9 2059.3 558.3 2060.6 558.6 C2061.9 558.9 2063.2 559.2 2064.5 559.4 C2065.8 559.6 2067.2 559.7 2068.5 559.8 C2069.8 559.9 2071.2 560.0 2072.5 560.0 C2073.8 560.0 2075.2 560.0 2076.5 559.9 C2077.9 559.8 2079.2 559.7 2080.5 559.5 C2081.8 559.3 2083.2 559.1 2084.5 558.8 C2085.8 558.6 2087.1 558.3 2088.4 558.0 C2089.7 557.7 2091.0 557.3 2092.3 557.0 C2093.6 556.6 2094.9 556.3 2096.2 555.9 C2097.5 555.6 2098.8 555.2 2100.1 554.9 C2101.4 554.6 2102.7 554.3 2104.0 554.0 C2105.3 553.7 2106.6 553.5 2107.9 553.3 C2109.2 553.1 2110.6 553.0 2111.9 552.9 C2113.2 552.7 2114.6 552.7 2115.9 552.7 C2117.2 552.7 2118.6 552.7 2119.9 552.7 C2121.3 552.8 2122.6 552.9 2123.9 553.0 C2125.3 553.1 2126.6 553.2 2127.9 553.4 C2129.3 553.5 2130.6 553.7 2131.9 553.9 C2133.2 554.1 2134.6 554.3 2135.9 554.5 C2137.2 554.7 2138.5 554.9 2139.8 555.1 C2141.2 555.3 2142.5 555.5 2143.8 555.7 C2145.1 555.9 2146.5 556.1 2147.8 556.3 C2149.1 556.5 2150.4 556.7 2151.8 556.9 C2153.1 557.1 2154.4 557.2 2155.7 557.3 C2157.1 557.5 2158.4 557.6 2159.7 557.7 C2161.1 557.7 2162.4 557.8 2163.8 557.8 L2163.8 652.3 L1266.5 652.3 Z"/></clipPath><clipPath id="caR"><rect x="0" y="0" width="2244" height="652.3"/></clipPath></defs><path d="M1267.0 557.8 C1268.3 557.9 1269.7 558.1 1271.0 558.2 C1272.3 558.3 1273.7 558.4 1275.0 558.4 C1276.3 558.5 1277.7 558.5 1279.0 558.5 C1280.3 558.4 1281.7 558.4 1283.0 558.3 C1284.4 558.2 1285.7 558.1 1287.0 558.0 C1288.4 557.9 1289.7 557.7 1291.0 557.6 C1292.3 557.4 1293.7 557.2 1295.0 557.0 C1296.3 556.8 1297.6 556.6 1299.0 556.4 C1300.3 556.2 1301.6 556.0 1302.9 555.7 C1304.2 555.5 1305.6 555.3 1306.9 555.0 C1308.2 554.8 1309.5 554.6 1310.8 554.3 C1312.1 554.1 1313.5 553.9 1314.8 553.7 C1316.1 553.5 1317.4 553.2 1318.8 553.0 C1320.1 552.8 1321.4 552.7 1322.7 552.5 C1324.0 552.3 1325.4 552.1 1326.7 551.9 C1328.0 551.7 1329.3 551.4 1330.7 551.2 C1332.0 550.9 1333.3 550.7 1334.6 550.4 C1335.9 550.1 1337.2 549.7 1338.5 549.3 C1339.7 548.9 1341.0 548.5 1342.2 548.0 C1343.5 547.5 1344.7 546.9 1345.9 546.3 C1347.1 545.7 1348.2 545.1 1349.4 544.3 C1350.5 543.6 1351.6 542.9 1352.7 542.1 C1353.8 541.3 1354.8 540.4 1355.8 539.5 C1356.8 538.7 1357.8 537.8 1358.8 536.8 C1359.7 535.9 1360.7 534.9 1361.6 534.0 C1362.5 533.0 1363.4 532.0 1364.2 531.0 C1365.1 529.9 1366.0 528.9 1366.8 527.9 C1367.6 526.8 1368.4 525.7 1369.2 524.7 C1370.0 523.6 1370.8 522.5 1371.5 521.4 C1372.3 520.3 1373.0 519.2 1373.7 518.0 C1374.5 516.9 1375.2 515.8 1375.9 514.6 C1376.5 513.5 1377.2 512.3 1377.9 511.1 C1378.5 510.0 1379.2 508.8 1379.8 507.6 C1380.4 506.4 1381.0 505.2 1381.6 504.0 C1382.2 502.8 1382.8 501.6 1383.3 500.4 C1383.9 499.2 1384.5 498.0 1385.0 496.8 C1385.5 495.5 1386.1 494.3 1386.6 493.1 C1387.1 491.8 1387.6 490.6 1388.1 489.4 C1388.6 488.1 1389.1 486.9 1389.5 485.6 C1390.0 484.4 1390.5 483.1 1390.9 481.8 C1391.4 480.6 1391.8 479.3 1392.3 478.0 C1392.7 476.8 1393.1 475.5 1393.5 474.2 C1393.9 473.0 1394.4 471.7 1394.8 470.4 C1395.2 469.1 1395.6 467.9 1396.0 466.6 C1396.4 465.3 1396.7 464.0 1397.1 462.7 C1397.5 461.5 1397.9 460.2 1398.3 458.9 C1398.6 457.6 1399.0 456.3 1399.4 455.0 C1399.7 453.8 1400.1 452.5 1400.5 451.2 C1400.8 449.9 1401.2 448.6 1401.6 447.3 C1402.0 446.0 1402.3 444.8 1402.7 443.5 C1403.1 442.2 1403.5 440.9 1403.9 439.6 C1404.3 438.4 1404.7 437.1 1405.2 435.8 C1405.6 434.6 1406.0 433.3 1406.5 432.0 C1407.0 430.8 1407.4 429.5 1407.9 428.3 C1408.4 427.0 1408.9 425.8 1409.5 424.6 C1410.0 423.4 1410.6 422.1 1411.2 420.9 C1411.8 419.7 1412.4 418.5 1413.0 417.4 C1413.6 416.2 1414.3 415.0 1415.0 413.9 C1415.6 412.7 1416.3 411.5 1416.9 410.4 C1417.5 409.2 1418.1 408.0 1418.6 406.7 C1419.1 405.5 1419.4 404.2 1419.8 402.9 C1420.2 401.6 1420.4 400.3 1420.8 399.0 C1421.1 397.7 1421.4 396.4 1421.9 395.1 C1422.3 393.9 1422.7 392.6 1423.4 391.4 C1424.0 390.2 1424.7 389.1 1425.5 388.0 C1426.4 387.0 1427.3 386.0 1428.4 385.2 C1429.4 384.3 1430.5 383.6 1431.7 382.9 C1432.8 382.3 1434.1 381.8 1435.4 381.4 C1436.7 381.1 1438.0 380.9 1439.3 380.9 C1440.7 380.9 1442.0 381.1 1443.3 381.5 C1444.6 381.8 1445.8 382.4 1447.0 383.0 C1448.2 383.6 1449.3 384.4 1450.3 385.2 C1451.4 386.1 1452.3 387.0 1453.2 388.0 C1454.1 389.0 1455.0 390.1 1455.7 391.2 C1456.4 392.3 1457.1 393.5 1457.7 394.7 C1458.2 395.9 1458.7 397.1 1459.1 398.4 C1459.6 399.7 1459.9 401.0 1460.2 402.3 C1460.6 403.6 1460.8 404.9 1461.1 406.2 C1461.4 407.5 1461.7 408.8 1462.1 410.1 C1462.4 411.4 1462.7 412.7 1463.1 414.0 C1463.4 415.3 1463.8 416.5 1464.2 417.8 C1464.6 419.1 1465.0 420.4 1465.4 421.6 C1465.8 422.9 1466.3 424.2 1466.7 425.4 C1467.2 426.7 1467.6 428.0 1468.1 429.2 C1468.6 430.5 1469.1 431.7 1469.6 432.9 C1470.1 434.2 1470.6 435.4 1471.1 436.7 C1471.6 437.9 1472.2 439.1 1472.7 440.3 C1473.3 441.6 1473.8 442.8 1474.4 444.0 C1475.0 445.2 1475.5 446.4 1476.1 447.6 C1476.7 448.8 1477.3 450.0 1477.9 451.2 C1478.5 452.4 1479.1 453.6 1479.8 454.8 C1480.4 456.0 1481.0 457.1 1481.6 458.3 C1482.3 459.5 1482.9 460.7 1483.6 461.8 C1484.2 463.0 1484.9 464.2 1485.5 465.3 C1486.2 466.5 1486.8 467.7 1487.5 468.8 C1488.2 470.0 1488.8 471.2 1489.5 472.3 C1490.2 473.5 1490.8 474.6 1491.5 475.8 C1492.2 476.9 1492.9 478.1 1493.6 479.2 C1494.2 480.4 1494.9 481.5 1495.6 482.7 C1496.3 483.8 1497.0 485.0 1497.7 486.1 C1498.4 487.3 1499.1 488.4 1499.8 489.5 C1500.5 490.7 1501.2 491.8 1501.9 493.0 C1502.6 494.1 1503.3 495.2 1504.0 496.4 C1504.8 497.5 1505.5 498.6 1506.2 499.8 C1506.9 500.9 1507.6 502.0 1508.3 503.1 C1509.1 504.3 1509.8 505.4 1510.5 506.5 C1511.2 507.6 1512.0 508.8 1512.7 509.9 C1513.4 511.0 1514.1 512.1 1514.9 513.3 C1515.6 514.4 1516.3 515.5 1517.1 516.6 C1517.8 517.7 1518.5 518.9 1519.3 520.0 C1520.0 521.1 1520.7 522.2 1521.5 523.3 C1522.2 524.5 1522.9 525.6 1523.7 526.7 C1524.4 527.8 1525.2 528.9 1525.9 530.0 C1526.6 531.1 1527.4 532.3 1528.1 533.4 C1528.9 534.5 1529.7 535.6 1530.4 536.7 C1531.2 537.8 1532.0 538.8 1532.8 539.9 C1533.6 541.0 1534.4 542.0 1535.3 543.1 C1536.1 544.1 1537.0 545.1 1537.9 546.1 C1538.7 547.1 1539.7 548.1 1540.6 549.1 C1541.5 550.0 1542.5 551.0 1543.5 551.8 C1544.5 552.7 1545.5 553.6 1546.6 554.4 C1547.6 555.3 1548.7 556.1 1549.8 556.8 C1550.9 557.5 1552.1 558.2 1553.3 558.7 C1554.5 559.3 1555.8 559.8 1557.1 560.0 C1558.4 560.2 1559.8 560.3 1561.1 560.2 C1562.4 560.1 1563.8 559.7 1565.0 559.3 C1566.3 558.8 1567.5 558.2 1568.6 557.5 C1569.8 556.9 1570.9 556.1 1571.9 555.2 C1573.0 554.4 1573.9 553.5 1574.8 552.5 C1575.8 551.5 1576.6 550.5 1577.4 549.4 C1578.2 548.4 1579.0 547.3 1579.7 546.1 C1580.5 545.0 1581.2 543.9 1581.9 542.8 C1582.6 541.6 1583.3 540.5 1584.0 539.3 C1584.7 538.2 1585.4 537.0 1586.0 535.9 C1586.7 534.7 1587.3 533.5 1587.9 532.3 C1588.6 531.2 1589.2 530.0 1589.8 528.8 C1590.4 527.6 1590.9 526.4 1591.5 525.1 C1592.0 523.9 1592.6 522.7 1593.1 521.5 C1593.6 520.2 1594.1 519.0 1594.6 517.7 C1595.0 516.5 1595.5 515.2 1595.9 513.9 C1596.3 512.7 1596.7 511.4 1597.1 510.1 C1597.5 508.8 1597.9 507.5 1598.2 506.2 C1598.5 504.9 1598.9 503.6 1599.2 502.3 C1599.5 501.0 1599.7 499.7 1600.0 498.4 C1600.3 497.1 1600.5 495.8 1600.7 494.5 C1601.0 493.2 1601.2 491.8 1601.4 490.5 C1601.6 489.2 1601.8 487.9 1602.0 486.5 C1602.1 485.2 1602.3 483.9 1602.4 482.6 C1602.6 481.2 1602.7 479.9 1602.9 478.6 C1603.0 477.2 1603.1 475.9 1603.3 474.6 C1603.4 473.2 1603.5 471.9 1603.6 470.6 C1603.7 469.2 1603.8 467.9 1603.9 466.6 C1604.0 465.2 1604.1 463.9 1604.2 462.6 C1604.3 461.2 1604.4 459.9 1604.5 458.6 C1604.6 457.2 1604.7 455.9 1604.9 454.6 C1605.0 453.2 1605.1 451.9 1605.3 450.6 C1605.5 449.2 1605.7 447.9 1605.9 446.6 C1606.1 445.3 1606.4 444.0 1606.7 442.7 C1607.0 441.4 1607.4 440.1 1607.8 438.8 C1608.3 437.5 1608.8 436.3 1609.3 435.1 C1609.9 433.9 1610.6 432.7 1611.3 431.6 C1612.0 430.5 1612.9 429.4 1613.8 428.4 C1614.7 427.5 1615.7 426.5 1616.7 425.7 C1617.8 424.9 1618.9 424.2 1620.1 423.5 C1621.3 422.9 1622.5 422.3 1623.7 421.9 C1625.0 421.4 1626.3 421.0 1627.6 420.7 C1628.9 420.4 1630.2 420.2 1631.6 420.1 C1632.9 420.1 1634.2 420.1 1635.6 420.3 C1636.9 420.4 1638.2 420.7 1639.5 421.1 C1640.8 421.4 1642.1 421.9 1643.3 422.3 C1644.6 422.8 1645.8 423.3 1647.0 423.8 C1648.3 424.4 1649.5 424.9 1650.7 425.5 C1651.9 426.0 1653.1 426.6 1654.4 427.1 C1655.6 427.6 1656.9 428.1 1658.1 428.4 C1659.4 428.8 1660.7 429.2 1662.1 429.3 C1663.4 429.4 1664.8 429.3 1666.1 429.0 C1667.3 428.7 1668.6 428.0 1669.7 427.3 C1670.8 426.5 1671.7 425.6 1672.7 424.6 C1673.6 423.7 1674.5 422.7 1675.3 421.6 C1676.2 420.6 1677.0 419.5 1677.8 418.4 C1678.6 417.4 1679.3 416.3 1680.1 415.2 C1680.8 414.1 1681.6 412.9 1682.3 411.8 C1683.0 410.7 1683.7 409.5 1684.4 408.4 C1685.1 407.3 1685.8 406.1 1686.5 405.0 C1687.2 403.8 1687.9 402.7 1688.6 401.5 C1689.3 400.4 1690.0 399.3 1690.7 398.1 C1691.5 397.0 1692.2 395.9 1693.0 394.8 C1693.7 393.7 1694.5 392.6 1695.3 391.6 C1696.1 390.5 1697.0 389.5 1697.9 388.5 C1698.8 387.5 1699.7 386.5 1700.6 385.6 C1701.6 384.6 1702.6 383.8 1703.7 382.9 C1704.7 382.1 1705.9 381.4 1707.0 380.7 C1708.1 380.0 1709.3 379.4 1710.6 378.8 C1711.8 378.3 1713.1 377.8 1714.3 377.4 C1715.6 377.0 1716.9 376.7 1718.2 376.5 C1719.5 376.2 1720.9 376.0 1722.2 375.9 C1723.5 375.8 1724.9 375.8 1726.2 375.8 C1727.5 375.9 1728.9 376.0 1730.2 376.2 C1731.5 376.4 1732.8 376.7 1734.1 377.1 C1735.4 377.4 1736.7 377.9 1737.9 378.4 C1739.1 378.9 1740.3 379.5 1741.5 380.1 C1742.7 380.8 1743.9 381.4 1745.0 382.2 C1746.1 382.9 1747.2 383.7 1748.2 384.6 C1749.3 385.4 1750.3 386.3 1751.3 387.2 C1752.2 388.1 1753.2 389.0 1754.1 390.0 C1755.0 391.0 1755.9 392.0 1756.8 393.0 C1757.6 394.0 1758.5 395.1 1759.3 396.1 C1760.1 397.2 1760.8 398.3 1761.6 399.4 C1762.3 400.5 1763.0 401.7 1763.7 402.8 C1764.4 404.0 1765.1 405.1 1765.7 406.3 C1766.3 407.5 1766.9 408.7 1767.5 409.9 C1768.1 411.1 1768.6 412.3 1769.1 413.6 C1769.6 414.8 1770.1 416.0 1770.6 417.3 C1771.1 418.6 1771.5 419.8 1771.9 421.1 C1772.4 422.4 1772.8 423.6 1773.1 424.9 C1773.5 426.2 1773.9 427.5 1774.2 428.8 C1774.5 430.1 1774.8 431.4 1775.1 432.7 C1775.4 434.0 1775.7 435.3 1776.0 436.6 C1776.2 437.9 1776.5 439.3 1776.7 440.6 C1776.9 441.9 1777.2 443.2 1777.4 444.5 C1777.6 445.9 1777.8 447.2 1778.0 448.5 C1778.2 449.8 1778.3 451.1 1778.5 452.5 C1778.7 453.8 1778.9 455.1 1779.0 456.5 C1779.2 457.8 1779.3 459.1 1779.5 460.4 C1779.6 461.8 1779.8 463.1 1779.9 464.4 C1780.1 465.8 1780.2 467.1 1780.4 468.4 C1780.5 469.8 1780.7 471.1 1780.8 472.4 C1781.0 473.7 1781.1 475.1 1781.3 476.4 C1781.5 477.7 1781.6 479.1 1781.8 480.4 C1782.0 481.7 1782.1 483.0 1782.4 484.4 C1782.6 485.7 1782.8 487.0 1783.0 488.3 C1783.3 489.6 1783.5 491.0 1783.8 492.3 C1784.1 493.6 1784.5 494.9 1784.8 496.1 C1785.2 497.4 1785.6 498.7 1786.1 500.0 C1786.5 501.2 1787.0 502.5 1787.6 503.7 C1788.1 504.9 1788.7 506.1 1789.4 507.3 C1790.0 508.5 1790.7 509.6 1791.4 510.7 C1792.2 511.8 1793.0 512.9 1793.8 513.9 C1794.6 515.0 1795.5 516.0 1796.5 517.0 C1797.4 517.9 1798.4 518.9 1799.4 519.7 C1800.4 520.6 1801.5 521.4 1802.6 522.2 C1803.7 522.9 1804.8 523.6 1806.0 524.2 C1807.2 524.8 1808.5 525.3 1809.8 525.6 C1811.0 526.0 1812.4 526.3 1813.7 526.4 C1815.0 526.5 1816.4 526.4 1817.7 526.3 C1819.0 526.2 1820.4 525.9 1821.7 525.6 C1823.0 525.2 1824.2 524.8 1825.5 524.3 C1826.7 523.9 1828.0 523.4 1829.2 522.8 C1830.4 522.3 1831.6 521.7 1832.8 521.1 C1834.0 520.5 1835.2 519.9 1836.4 519.2 C1837.6 518.6 1838.7 518.0 1839.9 517.4 C1841.1 516.7 1842.3 516.1 1843.5 515.5 C1844.7 514.9 1845.9 514.3 1847.1 513.7 C1848.3 513.2 1849.5 512.6 1850.8 512.1 C1852.0 511.6 1853.2 511.1 1854.5 510.6 C1855.7 510.0 1856.9 509.6 1858.2 509.0 C1859.4 508.5 1860.7 508.0 1861.9 507.5 C1863.1 507.0 1864.4 506.5 1865.6 505.9 C1866.8 505.4 1868.0 504.8 1869.2 504.2 C1870.4 503.6 1871.6 503.0 1872.8 502.4 C1874.0 501.7 1875.1 501.0 1876.2 500.3 C1877.4 499.6 1878.5 498.8 1879.6 498.1 C1880.7 497.3 1881.7 496.5 1882.8 495.8 C1884.0 495.0 1885.1 494.3 1886.2 493.6 C1887.4 492.9 1888.6 492.3 1889.8 491.8 C1891.0 491.3 1892.3 490.9 1893.6 490.6 C1894.9 490.3 1896.3 490.1 1897.6 490.0 C1898.9 489.9 1900.3 489.9 1901.6 489.9 C1903.0 490.0 1904.3 490.1 1905.6 490.2 C1907.0 490.3 1908.3 490.5 1909.6 490.7 C1910.9 490.9 1912.2 491.1 1913.6 491.4 C1914.9 491.6 1916.2 491.8 1917.5 492.0 C1918.8 492.3 1920.2 492.5 1921.5 492.7 C1922.8 492.9 1924.1 493.0 1925.5 493.2 C1926.8 493.3 1928.1 493.4 1929.5 493.4 C1930.8 493.5 1932.2 493.5 1933.5 493.4 C1934.8 493.4 1936.2 493.3 1937.5 493.2 C1938.8 493.1 1940.2 493.0 1941.5 492.9 C1942.8 492.8 1944.2 492.6 1945.5 492.5 C1946.8 492.3 1948.1 492.2 1949.5 492.0 C1950.8 491.8 1952.1 491.7 1953.5 491.5 C1954.8 491.4 1956.1 491.3 1957.5 491.1 C1958.8 491.0 1960.1 490.9 1961.5 490.8 C1962.8 490.7 1964.1 490.7 1965.5 490.6 C1966.8 490.6 1968.2 490.6 1969.5 490.6 C1970.8 490.7 1972.2 490.8 1973.5 490.9 C1974.8 491.0 1976.2 491.2 1977.5 491.4 C1978.8 491.6 1980.1 491.9 1981.4 492.2 C1982.7 492.6 1984.0 493.0 1985.2 493.5 C1986.5 493.9 1987.7 494.5 1988.9 495.1 C1990.1 495.7 1991.2 496.4 1992.3 497.2 C1993.4 498.0 1994.4 498.8 1995.3 499.8 C1996.2 500.8 1997.1 501.9 1997.7 503.0 C1998.3 504.2 1998.8 505.5 1999.2 506.8 C1999.6 508.0 1999.8 509.4 2000.1 510.7 C2000.5 512.0 2000.7 513.3 2001.2 514.5 C2001.7 515.8 2002.2 517.0 2002.9 518.1 C2003.7 519.2 2004.6 520.3 2005.6 521.1 C2006.6 522.0 2007.7 522.8 2008.9 523.4 C2010.0 524.1 2011.3 524.6 2012.5 525.1 C2013.8 525.6 2015.1 525.9 2016.4 526.3 C2017.6 526.7 2018.9 527.0 2020.2 527.4 C2021.5 527.9 2022.7 528.3 2023.9 529.0 C2025.1 529.6 2026.1 530.4 2027.1 531.3 C2028.1 532.2 2029.0 533.3 2029.8 534.3 C2030.7 535.3 2031.5 536.4 2032.3 537.5 C2033.1 538.5 2033.9 539.6 2034.8 540.6 C2035.6 541.7 2036.5 542.7 2037.4 543.7 C2038.2 544.7 2039.1 545.7 2040.1 546.7 C2041.0 547.6 2042.0 548.6 2043.0 549.4 C2044.0 550.3 2045.0 551.2 2046.1 552.0 C2047.1 552.8 2048.3 553.5 2049.4 554.2 C2050.6 554.9 2051.8 555.5 2053.0 556.0 C2054.2 556.6 2055.4 557.1 2056.7 557.5 C2058.0 557.9 2059.3 558.3 2060.6 558.6 C2061.9 558.9 2063.2 559.2 2064.5 559.4 C2065.8 559.6 2067.2 559.7 2068.5 559.8 C2069.8 559.9 2071.2 560.0 2072.5 560.0 C2073.8 560.0 2075.2 560.0 2076.5 559.9 C2077.9 559.8 2079.2 559.7 2080.5 559.5 C2081.8 559.3 2083.2 559.1 2084.5 558.8 C2085.8 558.6 2087.1 558.3 2088.4 558.0 C2089.7 557.7 2091.0 557.3 2092.3 557.0 C2093.6 556.6 2094.9 556.3 2096.2 555.9 C2097.5 555.6 2098.8 555.2 2100.1 554.9 C2101.4 554.6 2102.7 554.3 2104.0 554.0 C2105.3 553.7 2106.6 553.5 2107.9 553.3 C2109.2 553.1 2110.6 553.0 2111.9 552.9 C2113.2 552.7 2114.6 552.7 2115.9 552.7 C2117.2 552.7 2118.6 552.7 2119.9 552.7 C2121.3 552.8 2122.6 552.9 2123.9 553.0 C2125.3 553.1 2126.6 553.2 2127.9 553.4 C2129.3 553.5 2130.6 553.7 2131.9 553.9 C2133.2 554.1 2134.6 554.3 2135.9 554.5 C2137.2 554.7 2138.5 554.9 2139.8 555.1 C2141.2 555.3 2142.5 555.5 2143.8 555.7 C2145.1 555.9 2146.5 556.1 2147.8 556.3 C2149.1 556.5 2150.4 556.7 2151.8 556.9 C2153.1 557.1 2154.4 557.2 2155.7 557.3 C2157.1 557.5 2158.4 557.6 2159.7 557.7 C2161.1 557.7 2162.4 557.8 2163.8 557.8 L2163.8 652.3 L1266.5 652.3 Z" fill="#b9b9b9"/><g clip-path="url(#caR)"><path d="M1433.8 668.8 C1435.2 667.4 1436.6 666.0 1438.0 664.5 C1439.5 663.1 1440.9 661.7 1442.2 660.2 C1443.6 658.8 1445.0 657.3 1446.4 655.8 C1447.7 654.3 1449.1 652.8 1450.4 651.3 C1451.8 649.8 1453.1 648.3 1454.4 646.8 C1455.7 645.3 1457.0 643.7 1458.3 642.2 C1459.6 640.7 1460.9 639.1 1462.1 637.5 C1463.4 636.0 1464.6 634.4 1465.9 632.8 C1467.1 631.2 1468.3 629.6 1469.6 628.0 C1470.8 626.4 1472.0 624.8 1473.2 623.2 C1474.3 621.6 1475.5 619.9 1476.7 618.3 C1477.8 616.6 1479.0 615.0 1480.1 613.3 C1481.3 611.7 1482.4 610.0 1483.5 608.3 C1484.6 606.7 1485.7 605.0 1486.8 603.3 C1487.9 601.6 1489.0 599.9 1490.0 598.2 C1491.1 596.5 1492.2 594.8 1493.2 593.1 C1494.2 591.3 1495.3 589.6 1496.3 587.9 C1497.3 586.1 1498.3 584.4 1499.3 582.6 C1500.3 580.9 1501.3 579.1 1502.3 577.4 C1503.2 575.6 1504.2 573.8 1505.1 572.1 C1506.1 570.3 1507.0 568.5 1507.9 566.7 C1508.9 564.9 1509.8 563.2 1510.7 561.4 C1511.6 559.6 1512.5 557.8 1513.4 556.0 C1514.2 554.1 1515.1 552.3 1516.0 550.5 C1516.8 548.7 1517.7 546.9 1518.5 545.0 C1519.4 543.2 1520.2 541.4 1521.0 539.5 C1521.8 537.7 1522.6 535.9 1523.4 534.0 C1524.2 532.2 1525.0 530.3 1525.8 528.5 C1526.5 526.6 1527.3 524.7 1528.1 522.9 C1528.8 521.0 1529.6 519.1 1530.3 517.3 C1531.0 515.4 1531.8 513.5 1532.5 511.6 C1533.2 509.8 1533.9 507.9 1534.6 506.0 C1535.3 504.1 1536.0 502.2 1536.7 500.3 C1537.3 498.4 1538.0 496.5 1538.7 494.6 C1539.3 492.7 1540.0 490.8 1540.6 488.9 C1541.2 487.0 1541.9 485.1 1542.5 483.2 C1543.1 481.3 1543.7 479.4 1544.3 477.4 C1544.9 475.5 1545.5 473.6 1546.1 471.7 C1546.7 469.8 1547.3 467.8 1547.9 465.9 C1548.4 464.0 1549.0 462.0 1549.5 460.1 C1550.1 458.2 1550.6 456.2 1551.2 454.3 C1551.7 452.4 1552.2 450.4 1552.8 448.5 C1553.3 446.5 1553.8 444.6 1554.3 442.6 C1554.8 440.7 1555.3 438.7 1555.8 436.8 C1556.3 434.8 1556.8 432.9 1557.2 430.9 C1557.7 429.0 1558.2 427.0 1558.6 425.1 C1559.1 423.1 1559.5 421.1 1560.0 419.2 C1560.4 417.2 1560.9 415.3 1561.3 413.3 C1561.7 411.3 1562.1 409.4 1562.5 407.4 C1563.0 405.4 1563.4 403.5 1563.8 401.5 C1564.2 399.5 1564.6 397.5 1564.9 395.6 C1565.3 393.6 1565.7 391.6 1566.1 389.6 C1566.4 387.7 1566.8 385.7 1567.2 383.7 C1567.5 381.7 1567.9 379.7 1568.2 377.8 C1568.6 375.8 1568.9 373.8 1569.2 371.8 C1569.6 369.8 1569.9 367.8 1570.2 365.9 C1570.6 363.9 1570.9 361.9 1571.2 359.9 C1571.5 357.9 1571.9 355.9 1572.2 354.0 C1572.5 352.0 1572.8 350.0 1573.1 348.0 C1573.5 346.0 1573.8 344.0 1574.1 342.0 C1574.4 340.0 1574.7 338.1 1575.0 336.1 C1575.3 334.1 1575.6 332.1 1576.0 330.1 C1576.3 328.1 1576.6 326.1 1576.9 324.2 C1577.2 322.2 1577.6 320.2 1577.9 318.2 C1578.2 316.2 1578.5 314.2 1578.9 312.2 C1579.2 310.3 1579.5 308.3 1579.9 306.3 C1580.2 304.3 1580.6 302.3 1580.9 300.4 C1581.3 298.4 1581.6 296.4 1582.0 294.4 C1582.3 292.4 1582.7 290.5 1583.1 288.5 C1583.5 286.5 1583.8 284.5 1584.2 282.6 C1584.6 280.6 1585.0 278.6 1585.4 276.6 C1585.8 274.7 1586.3 272.7 1586.7 270.7 C1587.1 268.8 1587.6 266.8 1588.0 264.9 C1588.4 262.9 1588.9 260.9 1589.4 259.0 C1589.8 257.0 1590.3 255.1 1590.8 253.1 C1591.3 251.2 1591.8 249.2 1592.3 247.3 C1592.8 245.3 1593.4 243.4 1593.9 241.5 C1594.4 239.5 1595.0 237.6 1595.6 235.7 C1596.1 233.7 1596.7 231.8 1597.3 229.9 C1597.9 228.0 1598.5 226.0 1599.1 224.1 C1599.7 222.2 1600.4 220.3 1601.0 218.4 C1601.7 216.5 1602.3 214.6 1603.0 212.7 C1603.7 210.8 1604.4 208.9 1605.1 207.0 C1605.8 205.2 1606.5 203.3 1607.3 201.4 C1608.0 199.6 1608.8 197.7 1609.6 195.8 C1610.4 194.0 1611.2 192.1 1612.0 190.3 C1612.8 188.5 1613.7 186.6 1614.5 184.8 C1615.4 183.0 1616.3 181.2 1617.2 179.4 C1618.1 177.6 1619.1 175.8 1620.0 174.1 C1621.0 172.3 1622.0 170.6 1623.0 168.9 C1624.1 167.1 1625.1 165.4 1626.2 163.7 C1627.3 162.1 1628.4 160.4 1629.6 158.7 C1630.8 157.1 1632.0 155.5 1633.2 153.9 C1634.5 152.3 1635.8 150.8 1637.1 149.3 C1638.4 147.8 1639.8 146.3 1641.2 144.9 C1642.6 143.5 1644.1 142.1 1645.6 140.7 C1647.1 139.4 1648.7 138.1 1650.3 136.9 C1651.9 135.7 1653.5 134.6 1655.2 133.5 C1656.9 132.4 1658.7 131.4 1660.4 130.4 C1662.2 129.5 1664.1 128.7 1665.9 127.9 C1667.8 127.1 1669.7 126.4 1671.6 125.8 C1673.5 125.2 1675.5 124.7 1677.4 124.3 C1679.4 123.9 1681.4 123.6 1683.4 123.3 C1685.4 123.1 1687.4 122.9 1689.4 122.8 C1691.4 122.7 1693.4 122.6 1695.4 122.7 C1697.4 122.7 1699.4 122.8 1701.4 123.0 C1703.4 123.2 1705.4 123.5 1707.4 123.8 C1709.4 124.1 1711.4 124.5 1713.3 125.0 C1715.3 125.4 1717.2 126.0 1719.2 126.5 C1721.1 127.1 1723.0 127.8 1724.9 128.5 C1726.7 129.3 1728.6 130.1 1730.4 130.9 C1732.2 131.8 1734.0 132.8 1735.7 133.8 C1737.4 134.8 1739.1 135.9 1740.8 137.0 C1742.4 138.2 1744.0 139.4 1745.6 140.7 C1747.1 142.0 1748.6 143.4 1750.0 144.8 C1751.4 146.3 1752.7 147.8 1754.0 149.3 C1755.3 150.9 1756.5 152.5 1757.7 154.1 C1758.8 155.7 1760.0 157.4 1761.0 159.1 C1762.1 160.8 1763.1 162.6 1764.1 164.3 C1765.1 166.1 1766.0 167.9 1766.9 169.6 C1767.8 171.4 1768.7 173.3 1769.6 175.1 C1770.4 176.9 1771.2 178.7 1772.0 180.6 C1772.8 182.4 1773.6 184.3 1774.3 186.2 C1775.1 188.0 1775.9 189.9 1776.6 191.8 C1777.3 193.6 1778.0 195.5 1778.7 197.4 C1779.4 199.3 1780.1 201.2 1780.8 203.1 C1781.4 205.0 1782.1 206.9 1782.7 208.8 C1783.3 210.7 1784.0 212.6 1784.6 214.5 C1785.2 216.4 1785.8 218.4 1786.3 220.3 C1786.9 222.2 1787.5 224.2 1788.0 226.1 C1788.6 228.0 1789.1 230.0 1789.6 231.9 C1790.2 233.8 1790.7 235.8 1791.2 237.7 C1791.7 239.7 1792.1 241.6 1792.6 243.6 C1793.1 245.6 1793.5 247.5 1794.0 249.5 C1794.4 251.4 1794.9 253.4 1795.3 255.4 C1795.7 257.3 1796.1 259.3 1796.6 261.3 C1797.0 263.2 1797.4 265.2 1797.7 267.2 C1798.1 269.2 1798.5 271.1 1798.9 273.1 C1799.2 275.1 1799.6 277.1 1800.0 279.0 C1800.3 281.0 1800.7 283.0 1801.0 285.0 C1801.3 287.0 1801.7 289.0 1802.0 290.9 C1802.3 292.9 1802.6 294.9 1802.9 296.9 C1803.3 298.9 1803.6 300.9 1803.9 302.9 C1804.2 304.8 1804.5 306.8 1804.8 308.8 C1805.1 310.8 1805.3 312.8 1805.6 314.8 C1805.9 316.8 1806.2 318.8 1806.5 320.8 C1806.8 322.8 1807.0 324.8 1807.3 326.8 C1807.6 328.7 1807.9 330.7 1808.1 332.7 C1808.4 334.7 1808.7 336.7 1808.9 338.7 C1809.2 340.7 1809.5 342.7 1809.7 344.7 C1810.0 346.7 1810.3 348.7 1810.5 350.7 C1810.8 352.7 1811.1 354.7 1811.3 356.6 C1811.6 358.6 1811.9 360.6 1812.2 362.6 C1812.4 364.6 1812.7 366.6 1813.0 368.6 C1813.2 370.6 1813.5 372.6 1813.8 374.6 C1814.1 376.6 1814.3 378.6 1814.6 380.6 C1814.9 382.6 1815.2 384.5 1815.5 386.5 C1815.8 388.5 1816.0 390.5 1816.3 392.5 C1816.6 394.5 1816.9 396.5 1817.2 398.5 C1817.5 400.5 1817.8 402.5 1818.1 404.4 C1818.4 406.4 1818.7 408.4 1819.1 410.4 C1819.4 412.4 1819.7 414.4 1820.0 416.4 C1820.3 418.3 1820.7 420.3 1821.0 422.3 C1821.3 424.3 1821.7 426.3 1822.0 428.3 C1822.4 430.2 1822.7 432.2 1823.1 434.2 C1823.4 436.2 1823.8 438.2 1824.2 440.1 C1824.5 442.1 1824.9 444.1 1825.3 446.1 C1825.7 448.0 1826.1 450.0 1826.5 452.0 C1826.9 454.0 1827.3 455.9 1827.7 457.9 C1828.1 459.9 1828.5 461.8 1829.0 463.8 C1829.4 465.8 1829.8 467.7 1830.3 469.7 C1830.7 471.6 1831.2 473.6 1831.6 475.6 C1832.1 477.5 1832.6 479.5 1833.1 481.4 C1833.6 483.4 1834.1 485.3 1834.6 487.3 C1835.1 489.2 1835.6 491.2 1836.1 493.1 C1836.7 495.0 1837.2 497.0 1837.7 498.9 C1838.3 500.8 1838.9 502.8 1839.4 504.7 C1840.0 506.6 1840.6 508.5 1841.2 510.5 C1841.8 512.4 1842.4 514.3 1843.0 516.2 C1843.7 518.1 1844.3 520.0 1844.9 521.9 C1845.6 523.8 1846.3 525.7 1846.9 527.6 C1847.6 529.5 1848.3 531.4 1849.0 533.3 C1849.7 535.2 1850.4 537.1 1851.2 538.9 C1851.9 540.8 1852.7 542.7 1853.4 544.5 C1854.2 546.4 1855.0 548.2 1855.8 550.1 C1856.6 551.9 1857.4 553.8 1858.2 555.6 C1859.0 557.4 1859.9 559.3 1860.8 561.1 C1861.6 562.9 1862.5 564.7 1863.4 566.5 C1864.3 568.3 1865.2 570.1 1866.1 571.9 C1867.0 573.7 1868.0 575.4 1869.0 577.2 C1869.9 579.0 1870.9 580.7 1871.9 582.5 C1872.9 584.2 1873.9 586.0 1874.9 587.7 C1876.0 589.4 1877.0 591.1 1878.1 592.8 C1879.2 594.5 1880.3 596.2 1881.4 597.9 C1882.5 599.6 1883.6 601.3 1884.7 602.9 C1885.9 604.6 1887.0 606.2 1888.2 607.8 C1889.4 609.5 1890.6 611.1 1891.8 612.7 C1893.0 614.3 1894.3 615.9 1895.5 617.5 C1896.8 619.0 1898.0 620.6 1899.3 622.1 C1900.6 623.7 1901.9 625.2 1903.2 626.7 C1904.5 628.3 1905.9 629.8 1907.2 631.2 C1908.6 632.7 1910.0 634.2 1911.4 635.7 C1912.7 637.1 1914.1 638.5 1915.6 640.0 C1917.0 641.4 1918.4 642.8 1919.9 644.2 C1921.3 645.6 1922.8 646.9 1924.3 648.3 C1925.8 649.6 1927.3 651.0 1928.8 652.3 C1930.3 653.6 1931.9 654.9 1933.4 656.2 C1935.0 657.5 1936.5 658.8 1938.1 660.0 C1939.7 661.3 1941.3 662.5 1942.9 663.7 C1944.5 664.9 1946.1 666.1 1947.7 667.3 Z" fill="#ff6600"/><g clip-path="url(#clR)"><path d="M1433.8 668.8 C1435.2 667.4 1436.6 666.0 1438.0 664.5 C1439.5 663.1 1440.9 661.7 1442.2 660.2 C1443.6 658.8 1445.0 657.3 1446.4 655.8 C1447.7 654.3 1449.1 652.8 1450.4 651.3 C1451.8 649.8 1453.1 648.3 1454.4 646.8 C1455.7 645.3 1457.0 643.7 1458.3 642.2 C1459.6 640.7 1460.9 639.1 1462.1 637.5 C1463.4 636.0 1464.6 634.4 1465.9 632.8 C1467.1 631.2 1468.3 629.6 1469.6 628.0 C1470.8 626.4 1472.0 624.8 1473.2 623.2 C1474.3 621.6 1475.5 619.9 1476.7 618.3 C1477.8 616.6 1479.0 615.0 1480.1 613.3 C1481.3 611.7 1482.4 610.0 1483.5 608.3 C1484.6 606.7 1485.7 605.0 1486.8 603.3 C1487.9 601.6 1489.0 599.9 1490.0 598.2 C1491.1 596.5 1492.2 594.8 1493.2 593.1 C1494.2 591.3 1495.3 589.6 1496.3 587.9 C1497.3 586.1 1498.3 584.4 1499.3 582.6 C1500.3 580.9 1501.3 579.1 1502.3 577.4 C1503.2 575.6 1504.2 573.8 1505.1 572.1 C1506.1 570.3 1507.0 568.5 1507.9 566.7 C1508.9 564.9 1509.8 563.2 1510.7 561.4 C1511.6 559.6 1512.5 557.8 1513.4 556.0 C1514.2 554.1 1515.1 552.3 1516.0 550.5 C1516.8 548.7 1517.7 546.9 1518.5 545.0 C1519.4 543.2 1520.2 541.4 1521.0 539.5 C1521.8 537.7 1522.6 535.9 1523.4 534.0 C1524.2 532.2 1525.0 530.3 1525.8 528.5 C1526.5 526.6 1527.3 524.7 1528.1 522.9 C1528.8 521.0 1529.6 519.1 1530.3 517.3 C1531.0 515.4 1531.8 513.5 1532.5 511.6 C1533.2 509.8 1533.9 507.9 1534.6 506.0 C1535.3 504.1 1536.0 502.2 1536.7 500.3 C1537.3 498.4 1538.0 496.5 1538.7 494.6 C1539.3 492.7 1540.0 490.8 1540.6 488.9 C1541.2 487.0 1541.9 485.1 1542.5 483.2 C1543.1 481.3 1543.7 479.4 1544.3 477.4 C1544.9 475.5 1545.5 473.6 1546.1 471.7 C1546.7 469.8 1547.3 467.8 1547.9 465.9 C1548.4 464.0 1549.0 462.0 1549.5 460.1 C1550.1 458.2 1550.6 456.2 1551.2 454.3 C1551.7 452.4 1552.2 450.4 1552.8 448.5 C1553.3 446.5 1553.8 444.6 1554.3 442.6 C1554.8 440.7 1555.3 438.7 1555.8 436.8 C1556.3 434.8 1556.8 432.9 1557.2 430.9 C1557.7 429.0 1558.2 427.0 1558.6 425.1 C1559.1 423.1 1559.5 421.1 1560.0 419.2 C1560.4 417.2 1560.9 415.3 1561.3 413.3 C1561.7 411.3 1562.1 409.4 1562.5 407.4 C1563.0 405.4 1563.4 403.5 1563.8 401.5 C1564.2 399.5 1564.6 397.5 1564.9 395.6 C1565.3 393.6 1565.7 391.6 1566.1 389.6 C1566.4 387.7 1566.8 385.7 1567.2 383.7 C1567.5 381.7 1567.9 379.7 1568.2 377.8 C1568.6 375.8 1568.9 373.8 1569.2 371.8 C1569.6 369.8 1569.9 367.8 1570.2 365.9 C1570.6 363.9 1570.9 361.9 1571.2 359.9 C1571.5 357.9 1571.9 355.9 1572.2 354.0 C1572.5 352.0 1572.8 350.0 1573.1 348.0 C1573.5 346.0 1573.8 344.0 1574.1 342.0 C1574.4 340.0 1574.7 338.1 1575.0 336.1 C1575.3 334.1 1575.6 332.1 1576.0 330.1 C1576.3 328.1 1576.6 326.1 1576.9 324.2 C1577.2 322.2 1577.6 320.2 1577.9 318.2 C1578.2 316.2 1578.5 314.2 1578.9 312.2 C1579.2 310.3 1579.5 308.3 1579.9 306.3 C1580.2 304.3 1580.6 302.3 1580.9 300.4 C1581.3 298.4 1581.6 296.4 1582.0 294.4 C1582.3 292.4 1582.7 290.5 1583.1 288.5 C1583.5 286.5 1583.8 284.5 1584.2 282.6 C1584.6 280.6 1585.0 278.6 1585.4 276.6 C1585.8 274.7 1586.3 272.7 1586.7 270.7 C1587.1 268.8 1587.6 266.8 1588.0 264.9 C1588.4 262.9 1588.9 260.9 1589.4 259.0 C1589.8 257.0 1590.3 255.1 1590.8 253.1 C1591.3 251.2 1591.8 249.2 1592.3 247.3 C1592.8 245.3 1593.4 243.4 1593.9 241.5 C1594.4 239.5 1595.0 237.6 1595.6 235.7 C1596.1 233.7 1596.7 231.8 1597.3 229.9 C1597.9 228.0 1598.5 226.0 1599.1 224.1 C1599.7 222.2 1600.4 220.3 1601.0 218.4 C1601.7 216.5 1602.3 214.6 1603.0 212.7 C1603.7 210.8 1604.4 208.9 1605.1 207.0 C1605.8 205.2 1606.5 203.3 1607.3 201.4 C1608.0 199.6 1608.8 197.7 1609.6 195.8 C1610.4 194.0 1611.2 192.1 1612.0 190.3 C1612.8 188.5 1613.7 186.6 1614.5 184.8 C1615.4 183.0 1616.3 181.2 1617.2 179.4 C1618.1 177.6 1619.1 175.8 1620.0 174.1 C1621.0 172.3 1622.0 170.6 1623.0 168.9 C1624.1 167.1 1625.1 165.4 1626.2 163.7 C1627.3 162.1 1628.4 160.4 1629.6 158.7 C1630.8 157.1 1632.0 155.5 1633.2 153.9 C1634.5 152.3 1635.8 150.8 1637.1 149.3 C1638.4 147.8 1639.8 146.3 1641.2 144.9 C1642.6 143.5 1644.1 142.1 1645.6 140.7 C1647.1 139.4 1648.7 138.1 1650.3 136.9 C1651.9 135.7 1653.5 134.6 1655.2 133.5 C1656.9 132.4 1658.7 131.4 1660.4 130.4 C1662.2 129.5 1664.1 128.7 1665.9 127.9 C1667.8 127.1 1669.7 126.4 1671.6 125.8 C1673.5 125.2 1675.5 124.7 1677.4 124.3 C1679.4 123.9 1681.4 123.6 1683.4 123.3 C1685.4 123.1 1687.4 122.9 1689.4 122.8 C1691.4 122.7 1693.4 122.6 1695.4 122.7 C1697.4 122.7 1699.4 122.8 1701.4 123.0 C1703.4 123.2 1705.4 123.5 1707.4 123.8 C1709.4 124.1 1711.4 124.5 1713.3 125.0 C1715.3 125.4 1717.2 126.0 1719.2 126.5 C1721.1 127.1 1723.0 127.8 1724.9 128.5 C1726.7 129.3 1728.6 130.1 1730.4 130.9 C1732.2 131.8 1734.0 132.8 1735.7 133.8 C1737.4 134.8 1739.1 135.9 1740.8 137.0 C1742.4 138.2 1744.0 139.4 1745.6 140.7 C1747.1 142.0 1748.6 143.4 1750.0 144.8 C1751.4 146.3 1752.7 147.8 1754.0 149.3 C1755.3 150.9 1756.5 152.5 1757.7 154.1 C1758.8 155.7 1760.0 157.4 1761.0 159.1 C1762.1 160.8 1763.1 162.6 1764.1 164.3 C1765.1 166.1 1766.0 167.9 1766.9 169.6 C1767.8 171.4 1768.7 173.3 1769.6 175.1 C1770.4 176.9 1771.2 178.7 1772.0 180.6 C1772.8 182.4 1773.6 184.3 1774.3 186.2 C1775.1 188.0 1775.9 189.9 1776.6 191.8 C1777.3 193.6 1778.0 195.5 1778.7 197.4 C1779.4 199.3 1780.1 201.2 1780.8 203.1 C1781.4 205.0 1782.1 206.9 1782.7 208.8 C1783.3 210.7 1784.0 212.6 1784.6 214.5 C1785.2 216.4 1785.8 218.4 1786.3 220.3 C1786.9 222.2 1787.5 224.2 1788.0 226.1 C1788.6 228.0 1789.1 230.0 1789.6 231.9 C1790.2 233.8 1790.7 235.8 1791.2 237.7 C1791.7 239.7 1792.1 241.6 1792.6 243.6 C1793.1 245.6 1793.5 247.5 1794.0 249.5 C1794.4 251.4 1794.9 253.4 1795.3 255.4 C1795.7 257.3 1796.1 259.3 1796.6 261.3 C1797.0 263.2 1797.4 265.2 1797.7 267.2 C1798.1 269.2 1798.5 271.1 1798.9 273.1 C1799.2 275.1 1799.6 277.1 1800.0 279.0 C1800.3 281.0 1800.7 283.0 1801.0 285.0 C1801.3 287.0 1801.7 289.0 1802.0 290.9 C1802.3 292.9 1802.6 294.9 1802.9 296.9 C1803.3 298.9 1803.6 300.9 1803.9 302.9 C1804.2 304.8 1804.5 306.8 1804.8 308.8 C1805.1 310.8 1805.3 312.8 1805.6 314.8 C1805.9 316.8 1806.2 318.8 1806.5 320.8 C1806.8 322.8 1807.0 324.8 1807.3 326.8 C1807.6 328.7 1807.9 330.7 1808.1 332.7 C1808.4 334.7 1808.7 336.7 1808.9 338.7 C1809.2 340.7 1809.5 342.7 1809.7 344.7 C1810.0 346.7 1810.3 348.7 1810.5 350.7 C1810.8 352.7 1811.1 354.7 1811.3 356.6 C1811.6 358.6 1811.9 360.6 1812.2 362.6 C1812.4 364.6 1812.7 366.6 1813.0 368.6 C1813.2 370.6 1813.5 372.6 1813.8 374.6 C1814.1 376.6 1814.3 378.6 1814.6 380.6 C1814.9 382.6 1815.2 384.5 1815.5 386.5 C1815.8 388.5 1816.0 390.5 1816.3 392.5 C1816.6 394.5 1816.9 396.5 1817.2 398.5 C1817.5 400.5 1817.8 402.5 1818.1 404.4 C1818.4 406.4 1818.7 408.4 1819.1 410.4 C1819.4 412.4 1819.7 414.4 1820.0 416.4 C1820.3 418.3 1820.7 420.3 1821.0 422.3 C1821.3 424.3 1821.7 426.3 1822.0 428.3 C1822.4 430.2 1822.7 432.2 1823.1 434.2 C1823.4 436.2 1823.8 438.2 1824.2 440.1 C1824.5 442.1 1824.9 444.1 1825.3 446.1 C1825.7 448.0 1826.1 450.0 1826.5 452.0 C1826.9 454.0 1827.3 455.9 1827.7 457.9 C1828.1 459.9 1828.5 461.8 1829.0 463.8 C1829.4 465.8 1829.8 467.7 1830.3 469.7 C1830.7 471.6 1831.2 473.6 1831.6 475.6 C1832.1 477.5 1832.6 479.5 1833.1 481.4 C1833.6 483.4 1834.1 485.3 1834.6 487.3 C1835.1 489.2 1835.6 491.2 1836.1 493.1 C1836.7 495.0 1837.2 497.0 1837.7 498.9 C1838.3 500.8 1838.9 502.8 1839.4 504.7 C1840.0 506.6 1840.6 508.5 1841.2 510.5 C1841.8 512.4 1842.4 514.3 1843.0 516.2 C1843.7 518.1 1844.3 520.0 1844.9 521.9 C1845.6 523.8 1846.3 525.7 1846.9 527.6 C1847.6 529.5 1848.3 531.4 1849.0 533.3 C1849.7 535.2 1850.4 537.1 1851.2 538.9 C1851.9 540.8 1852.7 542.7 1853.4 544.5 C1854.2 546.4 1855.0 548.2 1855.8 550.1 C1856.6 551.9 1857.4 553.8 1858.2 555.6 C1859.0 557.4 1859.9 559.3 1860.8 561.1 C1861.6 562.9 1862.5 564.7 1863.4 566.5 C1864.3 568.3 1865.2 570.1 1866.1 571.9 C1867.0 573.7 1868.0 575.4 1869.0 577.2 C1869.9 579.0 1870.9 580.7 1871.9 582.5 C1872.9 584.2 1873.9 586.0 1874.9 587.7 C1876.0 589.4 1877.0 591.1 1878.1 592.8 C1879.2 594.5 1880.3 596.2 1881.4 597.9 C1882.5 599.6 1883.6 601.3 1884.7 602.9 C1885.9 604.6 1887.0 606.2 1888.2 607.8 C1889.4 609.5 1890.6 611.1 1891.8 612.7 C1893.0 614.3 1894.3 615.9 1895.5 617.5 C1896.8 619.0 1898.0 620.6 1899.3 622.1 C1900.6 623.7 1901.9 625.2 1903.2 626.7 C1904.5 628.3 1905.9 629.8 1907.2 631.2 C1908.6 632.7 1910.0 634.2 1911.4 635.7 C1912.7 637.1 1914.1 638.5 1915.6 640.0 C1917.0 641.4 1918.4 642.8 1919.9 644.2 C1921.3 645.6 1922.8 646.9 1924.3 648.3 C1925.8 649.6 1927.3 651.0 1928.8 652.3 C1930.3 653.6 1931.9 654.9 1933.4 656.2 C1935.0 657.5 1936.5 658.8 1938.1 660.0 C1939.7 661.3 1941.3 662.5 1942.9 663.7 C1944.5 664.9 1946.1 666.1 1947.7 667.3 Z" fill="#fff02a"/></g></g><line x1="1265.7" y1="560.0" x2="2197.0" y2="560.0" stroke="#000" stroke-width="2.2" stroke-dasharray="22 22"/><path d="M1462.0 418.0 C1463.7 422.7 1465.1 427.5 1467.0 432.0 C1469.1 436.8 1471.0 442.0 1474.0 446.0 C1475.3 447.8 1478.3 450.0 1480.0 449.5 C1482.6 448.7 1485.3 444.9 1487.0 442.0 C1491.8 433.9 1494.2 424.0 1499.4 416.3 C1502.2 412.2 1507.1 406.7 1511.0 406.4 C1514.3 406.1 1518.8 411.0 1520.8 414.6 C1523.7 419.8 1524.5 426.6 1525.7 432.8 C1527.3 440.9 1528.0 449.3 1529.0 457.5 C1530.0 465.7 1530.5 474.0 1531.5 482.2 C1532.7 492.1 1533.9 502.1 1535.6 511.9 C1536.9 519.7 1538.5 527.4 1540.6 535.0 C1541.9 539.8 1543.6 544.7 1546.0 549.0 C1547.7 552.0 1550.3 554.8 1553.0 557.0 C1555.3 558.8 1558.3 561.1 1561.0 561.0 C1564.6 560.8 1568.8 558.4 1572.0 556.0 C1576.8 552.4 1580.3 547.0 1585.0 543.2 C1591.2 538.3 1597.8 532.6 1604.9 530.0 C1608.8 528.5 1613.8 529.9 1618.0 530.9 C1624.3 532.3 1630.9 538.9 1636.5 537.2 C1646.4 534.1 1655.2 523.5 1664.5 516.6 C1672.7 510.6 1680.0 501.4 1689.2 498.5 C1697.6 495.9 1709.6 496.2 1717.2 500.1 C1725.5 504.4 1730.2 515.6 1737.0 523.2 C1744.0 531.0 1750.3 540.0 1758.5 546.3 C1765.7 551.8 1774.9 558.5 1783.2 558.5 C1792.4 558.5 1803.3 552.3 1811.2 546.3 C1818.2 541.0 1821.2 530.8 1827.7 524.8 C1832.5 520.4 1839.1 518.0 1845.0 515.0 C1853.2 510.8 1862.3 507.9 1870.0 503.0 C1876.2 499.0 1882.4 494.1 1886.7 488.3 C1891.3 482.0 1894.1 474.2 1896.7 466.7 C1900.2 457.0 1902.2 446.7 1905.0 436.7 C1907.8 426.7 1910.0 416.5 1913.3 406.7 C1916.7 396.5 1920.7 386.5 1925.0 376.7 C1929.0 367.6 1932.1 357.4 1938.3 350.0 C1943.8 343.5 1953.0 337.0 1960.0 335.0 C1962.5 334.3 1965.3 338.9 1966.7 341.7 C1970.6 349.5 1973.3 358.2 1975.8 366.7 C1978.8 377.1 1980.9 387.8 1983.3 398.3 C1985.6 408.3 1988.1 418.2 1990.0 428.3 C1992.0 439.4 1993.5 450.5 1995.0 461.7 C1996.5 472.8 1997.8 483.9 1999.2 495.0 C2000.1 502.2 2000.9 509.5 2001.7 516.7" fill="none" stroke="#00ffff" stroke-width="4.6" stroke-dasharray="13 15"/><g clip-path="url(#caR)"><path d="M1433.8 668.8 C1435.2 667.4 1436.6 666.0 1438.0 664.5 C1439.5 663.1 1440.9 661.7 1442.2 660.2 C1443.6 658.8 1445.0 657.3 1446.4 655.8 C1447.7 654.3 1449.1 652.8 1450.4 651.3 C1451.8 649.8 1453.1 648.3 1454.4 646.8 C1455.7 645.3 1457.0 643.7 1458.3 642.2 C1459.6 640.7 1460.9 639.1 1462.1 637.5 C1463.4 636.0 1464.6 634.4 1465.9 632.8 C1467.1 631.2 1468.3 629.6 1469.6 628.0 C1470.8 626.4 1472.0 624.8 1473.2 623.2 C1474.3 621.6 1475.5 619.9 1476.7 618.3 C1477.8 616.6 1479.0 615.0 1480.1 613.3 C1481.3 611.7 1482.4 610.0 1483.5 608.3 C1484.6 606.7 1485.7 605.0 1486.8 603.3 C1487.9 601.6 1489.0 599.9 1490.0 598.2 C1491.1 596.5 1492.2 594.8 1493.2 593.1 C1494.2 591.3 1495.3 589.6 1496.3 587.9 C1497.3 586.1 1498.3 584.4 1499.3 582.6 C1500.3 580.9 1501.3 579.1 1502.3 577.4 C1503.2 575.6 1504.2 573.8 1505.1 572.1 C1506.1 570.3 1507.0 568.5 1507.9 566.7 C1508.9 564.9 1509.8 563.2 1510.7 561.4 C1511.6 559.6 1512.5 557.8 1513.4 556.0 C1514.2 554.1 1515.1 552.3 1516.0 550.5 C1516.8 548.7 1517.7 546.9 1518.5 545.0 C1519.4 543.2 1520.2 541.4 1521.0 539.5 C1521.8 537.7 1522.6 535.9 1523.4 534.0 C1524.2 532.2 1525.0 530.3 1525.8 528.5 C1526.5 526.6 1527.3 524.7 1528.1 522.9 C1528.8 521.0 1529.6 519.1 1530.3 517.3 C1531.0 515.4 1531.8 513.5 1532.5 511.6 C1533.2 509.8 1533.9 507.9 1534.6 506.0 C1535.3 504.1 1536.0 502.2 1536.7 500.3 C1537.3 498.4 1538.0 496.5 1538.7 494.6 C1539.3 492.7 1540.0 490.8 1540.6 488.9 C1541.2 487.0 1541.9 485.1 1542.5 483.2 C1543.1 481.3 1543.7 479.4 1544.3 477.4 C1544.9 475.5 1545.5 473.6 1546.1 471.7 C1546.7 469.8 1547.3 467.8 1547.9 465.9 C1548.4 464.0 1549.0 462.0 1549.5 460.1 C1550.1 458.2 1550.6 456.2 1551.2 454.3 C1551.7 452.4 1552.2 450.4 1552.8 448.5 C1553.3 446.5 1553.8 444.6 1554.3 442.6 C1554.8 440.7 1555.3 438.7 1555.8 436.8 C1556.3 434.8 1556.8 432.9 1557.2 430.9 C1557.7 429.0 1558.2 427.0 1558.6 425.1 C1559.1 423.1 1559.5 421.1 1560.0 419.2 C1560.4 417.2 1560.9 415.3 1561.3 413.3 C1561.7 411.3 1562.1 409.4 1562.5 407.4 C1563.0 405.4 1563.4 403.5 1563.8 401.5 C1564.2 399.5 1564.6 397.5 1564.9 395.6 C1565.3 393.6 1565.7 391.6 1566.1 389.6 C1566.4 387.7 1566.8 385.7 1567.2 383.7 C1567.5 381.7 1567.9 379.7 1568.2 377.8 C1568.6 375.8 1568.9 373.8 1569.2 371.8 C1569.6 369.8 1569.9 367.8 1570.2 365.9 C1570.6 363.9 1570.9 361.9 1571.2 359.9 C1571.5 357.9 1571.9 355.9 1572.2 354.0 C1572.5 352.0 1572.8 350.0 1573.1 348.0 C1573.5 346.0 1573.8 344.0 1574.1 342.0 C1574.4 340.0 1574.7 338.1 1575.0 336.1 C1575.3 334.1 1575.6 332.1 1576.0 330.1 C1576.3 328.1 1576.6 326.1 1576.9 324.2 C1577.2 322.2 1577.6 320.2 1577.9 318.2 C1578.2 316.2 1578.5 314.2 1578.9 312.2 C1579.2 310.3 1579.5 308.3 1579.9 306.3 C1580.2 304.3 1580.6 302.3 1580.9 300.4 C1581.3 298.4 1581.6 296.4 1582.0 294.4 C1582.3 292.4 1582.7 290.5 1583.1 288.5 C1583.5 286.5 1583.8 284.5 1584.2 282.6 C1584.6 280.6 1585.0 278.6 1585.4 276.6 C1585.8 274.7 1586.3 272.7 1586.7 270.7 C1587.1 268.8 1587.6 266.8 1588.0 264.9 C1588.4 262.9 1588.9 260.9 1589.4 259.0 C1589.8 257.0 1590.3 255.1 1590.8 253.1 C1591.3 251.2 1591.8 249.2 1592.3 247.3 C1592.8 245.3 1593.4 243.4 1593.9 241.5 C1594.4 239.5 1595.0 237.6 1595.6 235.7 C1596.1 233.7 1596.7 231.8 1597.3 229.9 C1597.9 228.0 1598.5 226.0 1599.1 224.1 C1599.7 222.2 1600.4 220.3 1601.0 218.4 C1601.7 216.5 1602.3 214.6 1603.0 212.7 C1603.7 210.8 1604.4 208.9 1605.1 207.0 C1605.8 205.2 1606.5 203.3 1607.3 201.4 C1608.0 199.6 1608.8 197.7 1609.6 195.8 C1610.4 194.0 1611.2 192.1 1612.0 190.3 C1612.8 188.5 1613.7 186.6 1614.5 184.8 C1615.4 183.0 1616.3 181.2 1617.2 179.4 C1618.1 177.6 1619.1 175.8 1620.0 174.1 C1621.0 172.3 1622.0 170.6 1623.0 168.9 C1624.1 167.1 1625.1 165.4 1626.2 163.7 C1627.3 162.1 1628.4 160.4 1629.6 158.7 C1630.8 157.1 1632.0 155.5 1633.2 153.9 C1634.5 152.3 1635.8 150.8 1637.1 149.3 C1638.4 147.8 1639.8 146.3 1641.2 144.9 C1642.6 143.5 1644.1 142.1 1645.6 140.7 C1647.1 139.4 1648.7 138.1 1650.3 136.9 C1651.9 135.7 1653.5 134.6 1655.2 133.5 C1656.9 132.4 1658.7 131.4 1660.4 130.4 C1662.2 129.5 1664.1 128.7 1665.9 127.9 C1667.8 127.1 1669.7 126.4 1671.6 125.8 C1673.5 125.2 1675.5 124.7 1677.4 124.3 C1679.4 123.9 1681.4 123.6 1683.4 123.3 C1685.4 123.1 1687.4 122.9 1689.4 122.8 C1691.4 122.7 1693.4 122.6 1695.4 122.7 C1697.4 122.7 1699.4 122.8 1701.4 123.0 C1703.4 123.2 1705.4 123.5 1707.4 123.8 C1709.4 124.1 1711.4 124.5 1713.3 125.0 C1715.3 125.4 1717.2 126.0 1719.2 126.5 C1721.1 127.1 1723.0 127.8 1724.9 128.5 C1726.7 129.3 1728.6 130.1 1730.4 130.9 C1732.2 131.8 1734.0 132.8 1735.7 133.8 C1737.4 134.8 1739.1 135.9 1740.8 137.0 C1742.4 138.2 1744.0 139.4 1745.6 140.7 C1747.1 142.0 1748.6 143.4 1750.0 144.8 C1751.4 146.3 1752.7 147.8 1754.0 149.3 C1755.3 150.9 1756.5 152.5 1757.7 154.1 C1758.8 155.7 1760.0 157.4 1761.0 159.1 C1762.1 160.8 1763.1 162.6 1764.1 164.3 C1765.1 166.1 1766.0 167.9 1766.9 169.6 C1767.8 171.4 1768.7 173.3 1769.6 175.1 C1770.4 176.9 1771.2 178.7 1772.0 180.6 C1772.8 182.4 1773.6 184.3 1774.3 186.2 C1775.1 188.0 1775.9 189.9 1776.6 191.8 C1777.3 193.6 1778.0 195.5 1778.7 197.4 C1779.4 199.3 1780.1 201.2 1780.8 203.1 C1781.4 205.0 1782.1 206.9 1782.7 208.8 C1783.3 210.7 1784.0 212.6 1784.6 214.5 C1785.2 216.4 1785.8 218.4 1786.3 220.3 C1786.9 222.2 1787.5 224.2 1788.0 226.1 C1788.6 228.0 1789.1 230.0 1789.6 231.9 C1790.2 233.8 1790.7 235.8 1791.2 237.7 C1791.7 239.7 1792.1 241.6 1792.6 243.6 C1793.1 245.6 1793.5 247.5 1794.0 249.5 C1794.4 251.4 1794.9 253.4 1795.3 255.4 C1795.7 257.3 1796.1 259.3 1796.6 261.3 C1797.0 263.2 1797.4 265.2 1797.7 267.2 C1798.1 269.2 1798.5 271.1 1798.9 273.1 C1799.2 275.1 1799.6 277.1 1800.0 279.0 C1800.3 281.0 1800.7 283.0 1801.0 285.0 C1801.3 287.0 1801.7 289.0 1802.0 290.9 C1802.3 292.9 1802.6 294.9 1802.9 296.9 C1803.3 298.9 1803.6 300.9 1803.9 302.9 C1804.2 304.8 1804.5 306.8 1804.8 308.8 C1805.1 310.8 1805.3 312.8 1805.6 314.8 C1805.9 316.8 1806.2 318.8 1806.5 320.8 C1806.8 322.8 1807.0 324.8 1807.3 326.8 C1807.6 328.7 1807.9 330.7 1808.1 332.7 C1808.4 334.7 1808.7 336.7 1808.9 338.7 C1809.2 340.7 1809.5 342.7 1809.7 344.7 C1810.0 346.7 1810.3 348.7 1810.5 350.7 C1810.8 352.7 1811.1 354.7 1811.3 356.6 C1811.6 358.6 1811.9 360.6 1812.2 362.6 C1812.4 364.6 1812.7 366.6 1813.0 368.6 C1813.2 370.6 1813.5 372.6 1813.8 374.6 C1814.1 376.6 1814.3 378.6 1814.6 380.6 C1814.9 382.6 1815.2 384.5 1815.5 386.5 C1815.8 388.5 1816.0 390.5 1816.3 392.5 C1816.6 394.5 1816.9 396.5 1817.2 398.5 C1817.5 400.5 1817.8 402.5 1818.1 404.4 C1818.4 406.4 1818.7 408.4 1819.1 410.4 C1819.4 412.4 1819.7 414.4 1820.0 416.4 C1820.3 418.3 1820.7 420.3 1821.0 422.3 C1821.3 424.3 1821.7 426.3 1822.0 428.3 C1822.4 430.2 1822.7 432.2 1823.1 434.2 C1823.4 436.2 1823.8 438.2 1824.2 440.1 C1824.5 442.1 1824.9 444.1 1825.3 446.1 C1825.7 448.0 1826.1 450.0 1826.5 452.0 C1826.9 454.0 1827.3 455.9 1827.7 457.9 C1828.1 459.9 1828.5 461.8 1829.0 463.8 C1829.4 465.8 1829.8 467.7 1830.3 469.7 C1830.7 471.6 1831.2 473.6 1831.6 475.6 C1832.1 477.5 1832.6 479.5 1833.1 481.4 C1833.6 483.4 1834.1 485.3 1834.6 487.3 C1835.1 489.2 1835.6 491.2 1836.1 493.1 C1836.7 495.0 1837.2 497.0 1837.7 498.9 C1838.3 500.8 1838.9 502.8 1839.4 504.7 C1840.0 506.6 1840.6 508.5 1841.2 510.5 C1841.8 512.4 1842.4 514.3 1843.0 516.2 C1843.7 518.1 1844.3 520.0 1844.9 521.9 C1845.6 523.8 1846.3 525.7 1846.9 527.6 C1847.6 529.5 1848.3 531.4 1849.0 533.3 C1849.7 535.2 1850.4 537.1 1851.2 538.9 C1851.9 540.8 1852.7 542.7 1853.4 544.5 C1854.2 546.4 1855.0 548.2 1855.8 550.1 C1856.6 551.9 1857.4 553.8 1858.2 555.6 C1859.0 557.4 1859.9 559.3 1860.8 561.1 C1861.6 562.9 1862.5 564.7 1863.4 566.5 C1864.3 568.3 1865.2 570.1 1866.1 571.9 C1867.0 573.7 1868.0 575.4 1869.0 577.2 C1869.9 579.0 1870.9 580.7 1871.9 582.5 C1872.9 584.2 1873.9 586.0 1874.9 587.7 C1876.0 589.4 1877.0 591.1 1878.1 592.8 C1879.2 594.5 1880.3 596.2 1881.4 597.9 C1882.5 599.6 1883.6 601.3 1884.7 602.9 C1885.9 604.6 1887.0 606.2 1888.2 607.8 C1889.4 609.5 1890.6 611.1 1891.8 612.7 C1893.0 614.3 1894.3 615.9 1895.5 617.5 C1896.8 619.0 1898.0 620.6 1899.3 622.1 C1900.6 623.7 1901.9 625.2 1903.2 626.7 C1904.5 628.3 1905.9 629.8 1907.2 631.2 C1908.6 632.7 1910.0 634.2 1911.4 635.7 C1912.7 637.1 1914.1 638.5 1915.6 640.0 C1917.0 641.4 1918.4 642.8 1919.9 644.2 C1921.3 645.6 1922.8 646.9 1924.3 648.3 C1925.8 649.6 1927.3 651.0 1928.8 652.3 C1930.3 653.6 1931.9 654.9 1933.4 656.2 C1935.0 657.5 1936.5 658.8 1938.1 660.0 C1939.7 661.3 1941.3 662.5 1942.9 663.7 C1944.5 664.9 1946.1 666.1 1947.7 667.3" fill="none" stroke="#00ffff" stroke-width="4.6"/></g><path d="M1267.0 557.8 C1268.3 557.9 1269.7 558.1 1271.0 558.2 C1272.3 558.3 1273.7 558.4 1275.0 558.4 C1276.3 558.5 1277.7 558.5 1279.0 558.5 C1280.3 558.4 1281.7 558.4 1283.0 558.3 C1284.4 558.2 1285.7 558.1 1287.0 558.0 C1288.4 557.9 1289.7 557.7 1291.0 557.6 C1292.3 557.4 1293.7 557.2 1295.0 557.0 C1296.3 556.8 1297.6 556.6 1299.0 556.4 C1300.3 556.2 1301.6 556.0 1302.9 555.7 C1304.2 555.5 1305.6 555.3 1306.9 555.0 C1308.2 554.8 1309.5 554.6 1310.8 554.3 C1312.1 554.1 1313.5 553.9 1314.8 553.7 C1316.1 553.5 1317.4 553.2 1318.8 553.0 C1320.1 552.8 1321.4 552.7 1322.7 552.5 C1324.0 552.3 1325.4 552.1 1326.7 551.9 C1328.0 551.7 1329.3 551.4 1330.7 551.2 C1332.0 550.9 1333.3 550.7 1334.6 550.4 C1335.9 550.1 1337.2 549.7 1338.5 549.3 C1339.7 548.9 1341.0 548.5 1342.2 548.0 C1343.5 547.5 1344.7 546.9 1345.9 546.3 C1347.1 545.7 1348.2 545.1 1349.4 544.3 C1350.5 543.6 1351.6 542.9 1352.7 542.1 C1353.8 541.3 1354.8 540.4 1355.8 539.5 C1356.8 538.7 1357.8 537.8 1358.8 536.8 C1359.7 535.9 1360.7 534.9 1361.6 534.0 C1362.5 533.0 1363.4 532.0 1364.2 531.0 C1365.1 529.9 1366.0 528.9 1366.8 527.9 C1367.6 526.8 1368.4 525.7 1369.2 524.7 C1370.0 523.6 1370.8 522.5 1371.5 521.4 C1372.3 520.3 1373.0 519.2 1373.7 518.0 C1374.5 516.9 1375.2 515.8 1375.9 514.6 C1376.5 513.5 1377.2 512.3 1377.9 511.1 C1378.5 510.0 1379.2 508.8 1379.8 507.6 C1380.4 506.4 1381.0 505.2 1381.6 504.0 C1382.2 502.8 1382.8 501.6 1383.3 500.4 C1383.9 499.2 1384.5 498.0 1385.0 496.8 C1385.5 495.5 1386.1 494.3 1386.6 493.1 C1387.1 491.8 1387.6 490.6 1388.1 489.4 C1388.6 488.1 1389.1 486.9 1389.5 485.6 C1390.0 484.4 1390.5 483.1 1390.9 481.8 C1391.4 480.6 1391.8 479.3 1392.3 478.0 C1392.7 476.8 1393.1 475.5 1393.5 474.2 C1393.9 473.0 1394.4 471.7 1394.8 470.4 C1395.2 469.1 1395.6 467.9 1396.0 466.6 C1396.4 465.3 1396.7 464.0 1397.1 462.7 C1397.5 461.5 1397.9 460.2 1398.3 458.9 C1398.6 457.6 1399.0 456.3 1399.4 455.0 C1399.7 453.8 1400.1 452.5 1400.5 451.2 C1400.8 449.9 1401.2 448.6 1401.6 447.3 C1402.0 446.0 1402.3 444.8 1402.7 443.5 C1403.1 442.2 1403.5 440.9 1403.9 439.6 C1404.3 438.4 1404.7 437.1 1405.2 435.8 C1405.6 434.6 1406.0 433.3 1406.5 432.0 C1407.0 430.8 1407.4 429.5 1407.9 428.3 C1408.4 427.0 1408.9 425.8 1409.5 424.6 C1410.0 423.4 1410.6 422.1 1411.2 420.9 C1411.8 419.7 1412.4 418.5 1413.0 417.4 C1413.6 416.2 1414.3 415.0 1415.0 413.9 C1415.6 412.7 1416.3 411.5 1416.9 410.4 C1417.5 409.2 1418.1 408.0 1418.6 406.7 C1419.1 405.5 1419.4 404.2 1419.8 402.9 C1420.2 401.6 1420.4 400.3 1420.8 399.0 C1421.1 397.7 1421.4 396.4 1421.9 395.1 C1422.3 393.9 1422.7 392.6 1423.4 391.4 C1424.0 390.2 1424.7 389.1 1425.5 388.0 C1426.4 387.0 1427.3 386.0 1428.4 385.2 C1429.4 384.3 1430.5 383.6 1431.7 382.9 C1432.8 382.3 1434.1 381.8 1435.4 381.4 C1436.7 381.1 1438.0 380.9 1439.3 380.9 C1440.7 380.9 1442.0 381.1 1443.3 381.5 C1444.6 381.8 1445.8 382.4 1447.0 383.0 C1448.2 383.6 1449.3 384.4 1450.3 385.2 C1451.4 386.1 1452.3 387.0 1453.2 388.0 C1454.1 389.0 1455.0 390.1 1455.7 391.2 C1456.4 392.3 1457.1 393.5 1457.7 394.7 C1458.2 395.9 1458.7 397.1 1459.1 398.4 C1459.6 399.7 1459.9 401.0 1460.2 402.3 C1460.6 403.6 1460.8 404.9 1461.1 406.2 C1461.4 407.5 1461.7 408.8 1462.1 410.1 C1462.4 411.4 1462.7 412.7 1463.1 414.0 C1463.4 415.3 1463.8 416.5 1464.2 417.8 C1464.6 419.1 1465.0 420.4 1465.4 421.6 C1465.8 422.9 1466.3 424.2 1466.7 425.4 C1467.2 426.7 1467.6 428.0 1468.1 429.2 C1468.6 430.5 1469.1 431.7 1469.6 432.9 C1470.1 434.2 1470.6 435.4 1471.1 436.7 C1471.6 437.9 1472.2 439.1 1472.7 440.3 C1473.3 441.6 1473.8 442.8 1474.4 444.0 C1475.0 445.2 1475.5 446.4 1476.1 447.6 C1476.7 448.8 1477.3 450.0 1477.9 451.2 C1478.5 452.4 1479.1 453.6 1479.8 454.8 C1480.4 456.0 1481.0 457.1 1481.6 458.3 C1482.3 459.5 1482.9 460.7 1483.6 461.8 C1484.2 463.0 1484.9 464.2 1485.5 465.3 C1486.2 466.5 1486.8 467.7 1487.5 468.8 C1488.2 470.0 1488.8 471.2 1489.5 472.3 C1490.2 473.5 1490.8 474.6 1491.5 475.8 C1492.2 476.9 1492.9 478.1 1493.6 479.2 C1494.2 480.4 1494.9 481.5 1495.6 482.7 C1496.3 483.8 1497.0 485.0 1497.7 486.1 C1498.4 487.3 1499.1 488.4 1499.8 489.5 C1500.5 490.7 1501.2 491.8 1501.9 493.0 C1502.6 494.1 1503.3 495.2 1504.0 496.4 C1504.8 497.5 1505.5 498.6 1506.2 499.8 C1506.9 500.9 1507.6 502.0 1508.3 503.1 C1509.1 504.3 1509.8 505.4 1510.5 506.5 C1511.2 507.6 1512.0 508.8 1512.7 509.9 C1513.4 511.0 1514.1 512.1 1514.9 513.3 C1515.6 514.4 1516.3 515.5 1517.1 516.6 C1517.8 517.7 1518.5 518.9 1519.3 520.0 C1520.0 521.1 1520.7 522.2 1521.5 523.3 C1522.2 524.5 1522.9 525.6 1523.7 526.7 C1524.4 527.8 1525.2 528.9 1525.9 530.0 C1526.6 531.1 1527.4 532.3 1528.1 533.4 C1528.9 534.5 1529.7 535.6 1530.4 536.7 C1531.2 537.8 1532.0 538.8 1532.8 539.9 C1533.6 541.0 1534.4 542.0 1535.3 543.1 C1536.1 544.1 1537.0 545.1 1537.9 546.1 C1538.7 547.1 1539.7 548.1 1540.6 549.1 C1541.5 550.0 1542.5 551.0 1543.5 551.8 C1544.5 552.7 1545.5 553.6 1546.6 554.4 C1547.6 555.3 1548.7 556.1 1549.8 556.8 C1550.9 557.5 1552.1 558.2 1553.3 558.7 C1554.5 559.3 1555.8 559.8 1557.1 560.0 C1558.4 560.2 1559.8 560.3 1561.1 560.2 C1562.4 560.1 1563.8 559.7 1565.0 559.3 C1566.3 558.8 1567.5 558.2 1568.6 557.5 C1569.8 556.9 1570.9 556.1 1571.9 555.2 C1573.0 554.4 1573.9 553.5 1574.8 552.5 C1575.8 551.5 1576.6 550.5 1577.4 549.4 C1578.2 548.4 1579.0 547.3 1579.7 546.1 C1580.5 545.0 1581.2 543.9 1581.9 542.8 C1582.6 541.6 1583.3 540.5 1584.0 539.3 C1584.7 538.2 1585.4 537.0 1586.0 535.9 C1586.7 534.7 1587.3 533.5 1587.9 532.3 C1588.6 531.2 1589.2 530.0 1589.8 528.8 C1590.4 527.6 1590.9 526.4 1591.5 525.1 C1592.0 523.9 1592.6 522.7 1593.1 521.5 C1593.6 520.2 1594.1 519.0 1594.6 517.7 C1595.0 516.5 1595.5 515.2 1595.9 513.9 C1596.3 512.7 1596.7 511.4 1597.1 510.1 C1597.5 508.8 1597.9 507.5 1598.2 506.2 C1598.5 504.9 1598.9 503.6 1599.2 502.3 C1599.5 501.0 1599.7 499.7 1600.0 498.4 C1600.3 497.1 1600.5 495.8 1600.7 494.5 C1601.0 493.2 1601.2 491.8 1601.4 490.5 C1601.6 489.2 1601.8 487.9 1602.0 486.5 C1602.1 485.2 1602.3 483.9 1602.4 482.6 C1602.6 481.2 1602.7 479.9 1602.9 478.6 C1603.0 477.2 1603.1 475.9 1603.3 474.6 C1603.4 473.2 1603.5 471.9 1603.6 470.6 C1603.7 469.2 1603.8 467.9 1603.9 466.6 C1604.0 465.2 1604.1 463.9 1604.2 462.6 C1604.3 461.2 1604.4 459.9 1604.5 458.6 C1604.6 457.2 1604.7 455.9 1604.9 454.6 C1605.0 453.2 1605.1 451.9 1605.3 450.6 C1605.5 449.2 1605.7 447.9 1605.9 446.6 C1606.1 445.3 1606.4 444.0 1606.7 442.7 C1607.0 441.4 1607.4 440.1 1607.8 438.8 C1608.3 437.5 1608.8 436.3 1609.3 435.1 C1609.9 433.9 1610.6 432.7 1611.3 431.6 C1612.0 430.5 1612.9 429.4 1613.8 428.4 C1614.7 427.5 1615.7 426.5 1616.7 425.7 C1617.8 424.9 1618.9 424.2 1620.1 423.5 C1621.3 422.9 1622.5 422.3 1623.7 421.9 C1625.0 421.4 1626.3 421.0 1627.6 420.7 C1628.9 420.4 1630.2 420.2 1631.6 420.1 C1632.9 420.1 1634.2 420.1 1635.6 420.3 C1636.9 420.4 1638.2 420.7 1639.5 421.1 C1640.8 421.4 1642.1 421.9 1643.3 422.3 C1644.6 422.8 1645.8 423.3 1647.0 423.8 C1648.3 424.4 1649.5 424.9 1650.7 425.5 C1651.9 426.0 1653.1 426.6 1654.4 427.1 C1655.6 427.6 1656.9 428.1 1658.1 428.4 C1659.4 428.8 1660.7 429.2 1662.1 429.3 C1663.4 429.4 1664.8 429.3 1666.1 429.0 C1667.3 428.7 1668.6 428.0 1669.7 427.3 C1670.8 426.5 1671.7 425.6 1672.7 424.6 C1673.6 423.7 1674.5 422.7 1675.3 421.6 C1676.2 420.6 1677.0 419.5 1677.8 418.4 C1678.6 417.4 1679.3 416.3 1680.1 415.2 C1680.8 414.1 1681.6 412.9 1682.3 411.8 C1683.0 410.7 1683.7 409.5 1684.4 408.4 C1685.1 407.3 1685.8 406.1 1686.5 405.0 C1687.2 403.8 1687.9 402.7 1688.6 401.5 C1689.3 400.4 1690.0 399.3 1690.7 398.1 C1691.5 397.0 1692.2 395.9 1693.0 394.8 C1693.7 393.7 1694.5 392.6 1695.3 391.6 C1696.1 390.5 1697.0 389.5 1697.9 388.5 C1698.8 387.5 1699.7 386.5 1700.6 385.6 C1701.6 384.6 1702.6 383.8 1703.7 382.9 C1704.7 382.1 1705.9 381.4 1707.0 380.7 C1708.1 380.0 1709.3 379.4 1710.6 378.8 C1711.8 378.3 1713.1 377.8 1714.3 377.4 C1715.6 377.0 1716.9 376.7 1718.2 376.5 C1719.5 376.2 1720.9 376.0 1722.2 375.9 C1723.5 375.8 1724.9 375.8 1726.2 375.8 C1727.5 375.9 1728.9 376.0 1730.2 376.2 C1731.5 376.4 1732.8 376.7 1734.1 377.1 C1735.4 377.4 1736.7 377.9 1737.9 378.4 C1739.1 378.9 1740.3 379.5 1741.5 380.1 C1742.7 380.8 1743.9 381.4 1745.0 382.2 C1746.1 382.9 1747.2 383.7 1748.2 384.6 C1749.3 385.4 1750.3 386.3 1751.3 387.2 C1752.2 388.1 1753.2 389.0 1754.1 390.0 C1755.0 391.0 1755.9 392.0 1756.8 393.0 C1757.6 394.0 1758.5 395.1 1759.3 396.1 C1760.1 397.2 1760.8 398.3 1761.6 399.4 C1762.3 400.5 1763.0 401.7 1763.7 402.8 C1764.4 404.0 1765.1 405.1 1765.7 406.3 C1766.3 407.5 1766.9 408.7 1767.5 409.9 C1768.1 411.1 1768.6 412.3 1769.1 413.6 C1769.6 414.8 1770.1 416.0 1770.6 417.3 C1771.1 418.6 1771.5 419.8 1771.9 421.1 C1772.4 422.4 1772.8 423.6 1773.1 424.9 C1773.5 426.2 1773.9 427.5 1774.2 428.8 C1774.5 430.1 1774.8 431.4 1775.1 432.7 C1775.4 434.0 1775.7 435.3 1776.0 436.6 C1776.2 437.9 1776.5 439.3 1776.7 440.6 C1776.9 441.9 1777.2 443.2 1777.4 444.5 C1777.6 445.9 1777.8 447.2 1778.0 448.5 C1778.2 449.8 1778.3 451.1 1778.5 452.5 C1778.7 453.8 1778.9 455.1 1779.0 456.5 C1779.2 457.8 1779.3 459.1 1779.5 460.4 C1779.6 461.8 1779.8 463.1 1779.9 464.4 C1780.1 465.8 1780.2 467.1 1780.4 468.4 C1780.5 469.8 1780.7 471.1 1780.8 472.4 C1781.0 473.7 1781.1 475.1 1781.3 476.4 C1781.5 477.7 1781.6 479.1 1781.8 480.4 C1782.0 481.7 1782.1 483.0 1782.4 484.4 C1782.6 485.7 1782.8 487.0 1783.0 488.3 C1783.3 489.6 1783.5 491.0 1783.8 492.3 C1784.1 493.6 1784.5 494.9 1784.8 496.1 C1785.2 497.4 1785.6 498.7 1786.1 500.0 C1786.5 501.2 1787.0 502.5 1787.6 503.7 C1788.1 504.9 1788.7 506.1 1789.4 507.3 C1790.0 508.5 1790.7 509.6 1791.4 510.7 C1792.2 511.8 1793.0 512.9 1793.8 513.9 C1794.6 515.0 1795.5 516.0 1796.5 517.0 C1797.4 517.9 1798.4 518.9 1799.4 519.7 C1800.4 520.6 1801.5 521.4 1802.6 522.2 C1803.7 522.9 1804.8 523.6 1806.0 524.2 C1807.2 524.8 1808.5 525.3 1809.8 525.6 C1811.0 526.0 1812.4 526.3 1813.7 526.4 C1815.0 526.5 1816.4 526.4 1817.7 526.3 C1819.0 526.2 1820.4 525.9 1821.7 525.6 C1823.0 525.2 1824.2 524.8 1825.5 524.3 C1826.7 523.9 1828.0 523.4 1829.2 522.8 C1830.4 522.3 1831.6 521.7 1832.8 521.1 C1834.0 520.5 1835.2 519.9 1836.4 519.2 C1837.6 518.6 1838.7 518.0 1839.9 517.4 C1841.1 516.7 1842.3 516.1 1843.5 515.5 C1844.7 514.9 1845.9 514.3 1847.1 513.7 C1848.3 513.2 1849.5 512.6 1850.8 512.1 C1852.0 511.6 1853.2 511.1 1854.5 510.6 C1855.7 510.0 1856.9 509.6 1858.2 509.0 C1859.4 508.5 1860.7 508.0 1861.9 507.5 C1863.1 507.0 1864.4 506.5 1865.6 505.9 C1866.8 505.4 1868.0 504.8 1869.2 504.2 C1870.4 503.6 1871.6 503.0 1872.8 502.4 C1874.0 501.7 1875.1 501.0 1876.2 500.3 C1877.4 499.6 1878.5 498.8 1879.6 498.1 C1880.7 497.3 1881.7 496.5 1882.8 495.8 C1884.0 495.0 1885.1 494.3 1886.2 493.6 C1887.4 492.9 1888.6 492.3 1889.8 491.8 C1891.0 491.3 1892.3 490.9 1893.6 490.6 C1894.9 490.3 1896.3 490.1 1897.6 490.0 C1898.9 489.9 1900.3 489.9 1901.6 489.9 C1903.0 490.0 1904.3 490.1 1905.6 490.2 C1907.0 490.3 1908.3 490.5 1909.6 490.7 C1910.9 490.9 1912.2 491.1 1913.6 491.4 C1914.9 491.6 1916.2 491.8 1917.5 492.0 C1918.8 492.3 1920.2 492.5 1921.5 492.7 C1922.8 492.9 1924.1 493.0 1925.5 493.2 C1926.8 493.3 1928.1 493.4 1929.5 493.4 C1930.8 493.5 1932.2 493.5 1933.5 493.4 C1934.8 493.4 1936.2 493.3 1937.5 493.2 C1938.8 493.1 1940.2 493.0 1941.5 492.9 C1942.8 492.8 1944.2 492.6 1945.5 492.5 C1946.8 492.3 1948.1 492.2 1949.5 492.0 C1950.8 491.8 1952.1 491.7 1953.5 491.5 C1954.8 491.4 1956.1 491.3 1957.5 491.1 C1958.8 491.0 1960.1 490.9 1961.5 490.8 C1962.8 490.7 1964.1 490.7 1965.5 490.6 C1966.8 490.6 1968.2 490.6 1969.5 490.6 C1970.8 490.7 1972.2 490.8 1973.5 490.9 C1974.8 491.0 1976.2 491.2 1977.5 491.4 C1978.8 491.6 1980.1 491.9 1981.4 492.2 C1982.7 492.6 1984.0 493.0 1985.2 493.5 C1986.5 493.9 1987.7 494.5 1988.9 495.1 C1990.1 495.7 1991.2 496.4 1992.3 497.2 C1993.4 498.0 1994.4 498.8 1995.3 499.8 C1996.2 500.8 1997.1 501.9 1997.7 503.0 C1998.3 504.2 1998.8 505.5 1999.2 506.8 C1999.6 508.0 1999.8 509.4 2000.1 510.7 C2000.5 512.0 2000.7 513.3 2001.2 514.5 C2001.7 515.8 2002.2 517.0 2002.9 518.1 C2003.7 519.2 2004.6 520.3 2005.6 521.1 C2006.6 522.0 2007.7 522.8 2008.9 523.4 C2010.0 524.1 2011.3 524.6 2012.5 525.1 C2013.8 525.6 2015.1 525.9 2016.4 526.3 C2017.6 526.7 2018.9 527.0 2020.2 527.4 C2021.5 527.9 2022.7 528.3 2023.9 529.0 C2025.1 529.6 2026.1 530.4 2027.1 531.3 C2028.1 532.2 2029.0 533.3 2029.8 534.3 C2030.7 535.3 2031.5 536.4 2032.3 537.5 C2033.1 538.5 2033.9 539.6 2034.8 540.6 C2035.6 541.7 2036.5 542.7 2037.4 543.7 C2038.2 544.7 2039.1 545.7 2040.1 546.7 C2041.0 547.6 2042.0 548.6 2043.0 549.4 C2044.0 550.3 2045.0 551.2 2046.1 552.0 C2047.1 552.8 2048.3 553.5 2049.4 554.2 C2050.6 554.9 2051.8 555.5 2053.0 556.0 C2054.2 556.6 2055.4 557.1 2056.7 557.5 C2058.0 557.9 2059.3 558.3 2060.6 558.6 C2061.9 558.9 2063.2 559.2 2064.5 559.4 C2065.8 559.6 2067.2 559.7 2068.5 559.8 C2069.8 559.9 2071.2 560.0 2072.5 560.0 C2073.8 560.0 2075.2 560.0 2076.5 559.9 C2077.9 559.8 2079.2 559.7 2080.5 559.5 C2081.8 559.3 2083.2 559.1 2084.5 558.8 C2085.8 558.6 2087.1 558.3 2088.4 558.0 C2089.7 557.7 2091.0 557.3 2092.3 557.0 C2093.6 556.6 2094.9 556.3 2096.2 555.9 C2097.5 555.6 2098.8 555.2 2100.1 554.9 C2101.4 554.6 2102.7 554.3 2104.0 554.0 C2105.3 553.7 2106.6 553.5 2107.9 553.3 C2109.2 553.1 2110.6 553.0 2111.9 552.9 C2113.2 552.7 2114.6 552.7 2115.9 552.7 C2117.2 552.7 2118.6 552.7 2119.9 552.7 C2121.3 552.8 2122.6 552.9 2123.9 553.0 C2125.3 553.1 2126.6 553.2 2127.9 553.4 C2129.3 553.5 2130.6 553.7 2131.9 553.9 C2133.2 554.1 2134.6 554.3 2135.9 554.5 C2137.2 554.7 2138.5 554.9 2139.8 555.1 C2141.2 555.3 2142.5 555.5 2143.8 555.7 C2145.1 555.9 2146.5 556.1 2147.8 556.3 C2149.1 556.5 2150.4 556.7 2151.8 556.9 C2153.1 557.1 2154.4 557.2 2155.7 557.3 C2157.1 557.5 2158.4 557.6 2159.7 557.7 C2161.1 557.7 2162.4 557.8 2163.8 557.8" fill="none" stroke="#00ffff" stroke-width="4.6"/>
<line x1="1266.5" y1="680.8" x2="1266.5" y2="144" stroke="#000" stroke-width="4.5"/>
<polygon points="1266.5,118.8 1251.3,144.6 1281.7,144.6" fill="#000"/>
<line x1="1264.5" y1="652.3" x2="2182" y2="652.3" stroke="#000" stroke-width="4.5"/>
<polygon points="2205.8,652.3 2180,637.1 2180,667.5" fill="#000"/>
<line x1="1478.3" y1="652.3" x2="1478.3" y2="680.8" stroke="#000" stroke-width="4.5"/>
<line x1="1690.6" y1="652.3" x2="1690.6" y2="680.8" stroke="#000" stroke-width="4.5"/>
<line x1="1903.0" y1="652.3" x2="1903.0" y2="680.8" stroke="#000" stroke-width="4.5"/>
<line x1="2115.0" y1="652.3" x2="2115.0" y2="680.8" stroke="#000" stroke-width="4.5"/>
<line x1="1235.8" y1="560" x2="1266" y2="560" stroke="#000" stroke-width="2"/><line x1="1235.8" y1="652.5" x2="1266" y2="652.5" stroke="#000" stroke-width="2"/>
<line x1="1246.7" y1="578" x2="1246.7" y2="636" stroke="#000" stroke-width="2"/>
<polygon points="1246.7,560.5 1237.7,582.2 1246.7,577 1255.7,582.2" fill="#000"/><polygon points="1246.7,652 1237.7,630.3 1246.7,635.5 1255.7,630.3" fill="#000"/>
<path d="M1291.0 698.4 A29.9 29.9 0 1 0 1291.0 751.8 A28.4 28.4 0 0 1 1291.0 698.4 Z" fill="#6a66ff" stroke="#000" stroke-width="2.3" stroke-linejoin="miter" stroke-miterlimit="10"/>
<clipPath id="src"><rect x="1427.8" y="674.8" width="100" height="58"/></clipPath><g clip-path="url(#src)"><polygon points="1511.2,732.8 1499.3,729.0 1509.2,721.4 1496.7,721.9 1503.4,711.3 1491.8,716.1 1494.5,703.9 1485.3,712.3 1483.6,699.9 1477.8,711.0 1472.0,699.9 1470.3,712.3 1461.1,703.9 1463.8,716.1 1452.2,711.3 1458.9,721.9 1446.4,721.4 1456.3,729.0 1444.4,732.8 1456.3,736.6 1446.4,744.2 1458.9,743.7 1452.2,754.3 1463.8,749.5 1461.1,761.7 1470.3,753.3 1472.0,765.7 1477.8,754.6 1483.6,765.7 1485.3,753.3 1494.5,761.7 1491.8,749.5 1503.4,754.3 1496.7,743.7 1509.2,744.2 1499.3,736.6" fill="#fff02a" stroke="#000" stroke-width="2.2" stroke-miterlimit="10"/></g><line x1="1431.3" y1="732.8" x2="1524.3" y2="732.8" stroke="#000" stroke-width="1.9" stroke-linecap="round"/>
<polygon points="1722.5,724.7 1713.3,720.7 1720.6,713.8 1710.6,713.1 1715.0,704.1 1705.4,706.9 1706.5,697.0 1698.4,702.9 1696.1,693.2 1690.5,701.5 1684.9,693.2 1682.6,702.9 1674.5,697.0 1675.6,706.9 1666.0,704.1 1670.4,713.1 1660.4,713.8 1667.7,720.7 1658.5,724.7 1667.7,728.7 1660.4,735.6 1670.4,736.3 1666.0,745.3 1675.6,742.5 1674.5,752.4 1682.6,746.5 1684.9,756.2 1690.5,747.9 1696.1,756.2 1698.4,746.5 1706.5,752.4 1705.4,742.5 1715.0,745.3 1710.6,736.3 1720.6,735.6 1713.3,728.7" fill="#fff02a" stroke="#000" stroke-width="2.2" stroke-linejoin="miter" stroke-miterlimit="10"/>
<clipPath id="srd"><rect x="1854.0" y="674.5" width="100" height="58"/></clipPath><g clip-path="url(#srd)"><polygon points="1937.4,732.5 1925.5,728.7 1935.4,721.1 1922.9,721.6 1929.6,711.0 1918.0,715.8 1920.7,703.6 1911.5,712.0 1909.8,699.6 1904.0,710.7 1898.2,699.6 1896.5,712.0 1887.3,703.6 1890.0,715.8 1878.4,711.0 1885.1,721.6 1872.6,721.1 1882.5,728.7 1870.6,732.5 1882.5,736.3 1872.6,743.9 1885.1,743.4 1878.4,754.0 1890.0,749.2 1887.3,761.4 1896.5,753.0 1898.2,765.4 1904.0,754.3 1909.8,765.4 1911.5,753.0 1920.7,761.4 1918.0,749.2 1929.6,754.0 1922.9,743.4 1935.4,743.9 1925.5,736.3" fill="#fff02a" stroke="#000" stroke-width="2.2" stroke-miterlimit="10"/></g><line x1="1857.5" y1="732.5" x2="1950.5" y2="732.5" stroke="#000" stroke-width="1.9" stroke-linecap="round"/>
<path d="M2142.0 698.4 A29.9 29.9 0 1 0 2142.0 751.8 A28.4 28.4 0 0 1 2142.0 698.4 Z" fill="#6a66ff" stroke="#000" stroke-width="2.3" stroke-linejoin="miter" stroke-miterlimit="10"/>
<line x1="1787" y1="190.7" x2="1930.8" y2="190.7" stroke="#000" stroke-width="2.2"/>
<polygon points="1775.2,190.7 1796.7,181.7 1791.7,190.7 1796.7,199.7" fill="#000"/>
<polyline points="2010,430 1974.2,430 1951,478" fill="none" stroke="#000" stroke-width="2.2"/>
<polygon points="1945.8,490 1946.7,468.3 1953.3,473.3 1962.5,475.8" fill="#000"/>
<line x1="1197.2" y1="34.8" x2="1537.6" y2="34.8" stroke="#000" stroke-width="4.2"/><line x1="1870.6" y1="34.8" x2="2207" y2="34.8" stroke="#000" stroke-width="4.2"/>
<text x="404.0" y="48.2" font-size="42.5" font-weight="normal" font-style="normal" textLength="312.0" lengthAdjust="spacingAndGlyphs" >Sans optimisation</text><text x="32.5" y="108.9" font-size="40.5" font-weight="normal" font-style="normal" textLength="175.0" lengthAdjust="spacingAndGlyphs" >Puissance</text><text x="799.0" y="194.7" font-size="42.0" font-weight="normal" font-style="normal" textLength="193.5" lengthAdjust="spacingAndGlyphs" >Production</text><text x="799.0" y="232.7" font-size="42.0" font-weight="normal" font-style="normal" textLength="266.0" lengthAdjust="spacingAndGlyphs" >photovoltaïque</text><text x="879.0" y="302.0" font-size="42.0" font-weight="normal" font-style="normal" textLength="131.4" lengthAdjust="spacingAndGlyphs" >Courbe</text><text x="879.0" y="340.0" font-size="42.0" font-weight="normal" font-style="normal" textLength="172.4" lengthAdjust="spacingAndGlyphs" >de charge</text><text x="473.2" y="384.5" font-size="41.0" font-weight="normal" font-style="normal" textLength="133.7" lengthAdjust="spacingAndGlyphs" >Surplus</text><text transform="translate(74.2,658.5) rotate(-90)" x="0" y="0" font-size="41" textLength="95.7" lengthAdjust="spacingAndGlyphs">Talon</text><text x="1552.0" y="44.9" font-size="42.5" font-weight="normal" font-style="normal" textLength="310.0" lengthAdjust="spacingAndGlyphs" >Avec optimisation</text><text x="1196.0" y="105.0" font-size="40.5" font-weight="normal" font-style="normal" textLength="175.0" lengthAdjust="spacingAndGlyphs" >Puissance</text><text x="1944.0" y="192.9" font-size="42.0" font-weight="normal" font-style="normal" textLength="194.6" lengthAdjust="spacingAndGlyphs" >Production</text><text x="1945.0" y="231.8" font-size="42.0" font-weight="normal" font-style="normal" textLength="265.0" lengthAdjust="spacingAndGlyphs" >photovoltaïque</text><text x="2025.0" y="431.7" font-size="42.0" font-weight="normal" font-style="normal" textLength="130.2" lengthAdjust="spacingAndGlyphs" >Courbe</text><text x="2025.0" y="470.8" font-size="42.0" font-weight="normal" font-style="normal" textLength="172.7" lengthAdjust="spacingAndGlyphs" >de charge</text><text x="1620.2" y="328.4" font-size="41.0" font-weight="normal" font-style="normal" textLength="132.0" lengthAdjust="spacingAndGlyphs" >Surplus</text><text transform="translate(1230.5,657.5) rotate(-90)" x="0" y="0" font-size="41" textLength="94" lengthAdjust="spacingAndGlyphs">Talon</text><text x="1284.2" y="815.4" font-size="48.0" font-weight="normal" font-style="italic" textLength="954.0" lengthAdjust="spacingAndGlyphs" stroke="#000" stroke-width="1.8">Ajustements pour améliorer le taux d’autopro-</text><text x="1259.0" y="864.8" font-size="48.0" font-weight="normal" font-style="italic" textLength="979.0" lengthAdjust="spacingAndGlyphs" stroke="#000" stroke-width="1.8">duction, notamment&#160; par le pilotage de certains</text><text x="1402.0" y="914.7" font-size="48.0" font-weight="normal" font-style="italic" textLength="839.0" lengthAdjust="spacingAndGlyphs" stroke="#000" stroke-width="1.8">appareils (machine à laver par exemple).</text>
<rect x="33.2" y="924.4" width="282.1" height="78.4" fill="#e0e5e5" stroke="#ff8800" stroke-width="2.8"/><rect x="33.2" y="1003.2" width="2207.4" height="208.1" fill="#e0e5e5" stroke="#ff8800" stroke-width="2.8"/><text x="85.7" y="978.3" font-size="55.0" font-weight="bold" font-style="normal" textLength="177.0" lengthAdjust="spacingAndGlyphs" >Lexique</text><text x="217.7" y="1100.0" font-size="40.0" font-weight="normal" font-style="normal" textLength="83.0" lengthAdjust="spacingAndGlyphs" >Taux</text><text x="78.7" y="1141.2" font-size="40.0" font-weight="normal" font-style="normal" textLength="371.0" lengthAdjust="spacingAndGlyphs" >d’autoconsommation</text><rect x="462.9" y="1099.6" width="18.1" height="3.1" fill="#000"/><rect x="462.9" y="1107.4" width="18.1" height="3.2" fill="#000"/><line x1="517.1" y1="1103.2" x2="853.1" y2="1103.2" stroke="#000" stroke-width="1.8"/><text x="520.8" y="1088.0" font-size="40.0" font-weight="normal" font-style="normal" textLength="325.3" lengthAdjust="spacingAndGlyphs" >Production utilisée</text><text x="532.0" y="1154.9" font-size="40.0" font-weight="normal" font-style="normal" textLength="301.3" lengthAdjust="spacingAndGlyphs" >Production totale</text><rect x="863.2" y="1099.7" width="18.3" height="3.1" fill="#000"/><rect x="863.2" y="1107.4" width="18.3" height="3.2" fill="#000"/><line x1="917.2" y1="1103.2" x2="1091.3" y2="1103.2" stroke="#000" stroke-width="1.8"/><rect x="977.2" y="1041.6" width="53.9" height="45.6" fill="#fff02a" stroke="#000" stroke-width="2.8"/><rect x="917.3" y="1118.4" width="54.6" height="45.6" fill="#ff6600" stroke="#000" stroke-width="2.8"/><rect x="993.3" y="1138.2" width="21.9" height="2.9" fill="#000"/><rect x="1002.8" y="1128.1" width="3.1" height="22.8" fill="#000"/><rect x="1036.9" y="1117.9" width="54.4" height="46.1" fill="#fff02a" stroke="#000" stroke-width="2.8"/><text x="1315.8" y="1092.5" font-size="40.0" font-weight="normal" font-style="normal" textLength="83.8" lengthAdjust="spacingAndGlyphs" >Taux</text><text x="1208.7" y="1133.7" font-size="40.0" font-weight="normal" font-style="normal" textLength="299.2" lengthAdjust="spacingAndGlyphs" >d’autoproduction</text><rect x="1533.9" y="1099.4" width="18.7" height="3.1" fill="#000"/><rect x="1533.9" y="1107.5" width="18.7" height="3.2" fill="#000"/><line x1="1574.6" y1="1102.5" x2="1962.3" y2="1102.5" stroke="#000" stroke-width="1.8"/><text x="1606.8" y="1087.0" font-size="40.0" font-weight="normal" font-style="normal" textLength="325.5" lengthAdjust="spacingAndGlyphs" >Production utilisée</text><text x="1580.9" y="1148.0" font-size="40.0" font-weight="normal" font-style="normal" textLength="377.7" lengthAdjust="spacingAndGlyphs" >Consommation totale</text><rect x="1979.1" y="1099.1" width="17.8" height="3.0" fill="#000"/><rect x="1979.1" y="1106.9" width="17.8" height="3.0" fill="#000"/><line x1="2010.5" y1="1102.3" x2="2184.8" y2="1102.3" stroke="#000" stroke-width="1.8"/><rect x="2069.8" y="1041.2" width="55.1" height="45.1" fill="#fff02a" stroke="#000" stroke-width="2.8"/><rect x="2011.0" y="1113.7" width="54.2" height="45.7" fill="#b9b9b9" stroke="#000" stroke-width="2.8"/><rect x="2086.9" y="1137.3" width="22" height="3.3" fill="#000"/><rect x="2096" y="1127.7" width="3.4" height="22.3" fill="#000"/><rect x="2130.1" y="1113.4" width="54.8" height="46.0" fill="#fff02a" stroke="#000" stroke-width="2.8"/>
</svg></body></html>
